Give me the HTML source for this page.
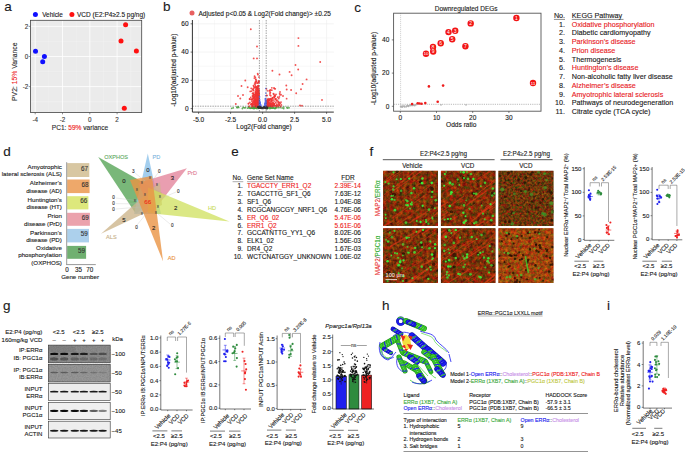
<!DOCTYPE html>
<html><head><meta charset="utf-8"><style>
html,body{margin:0;padding:0;background:#fff;overflow:hidden}
svg{display:block;font-family:"Liberation Sans",sans-serif}
</style></head><body>
<svg width="685" height="454" viewBox="0 0 685 454" fill="#1a1a1a">
<defs>
<filter id="blur" x="-50%" y="-50%" width="200%" height="200%"><feGaussianBlur stdDeviation="0.45"/></filter>
<filter id="blurP" x="-10%" y="-10%" width="120%" height="120%"><feGaussianBlur stdDeviation="0.3"/></filter>
<filter id="blur2" x="-50%" y="-100%" width="200%" height="300%"><feGaussianBlur stdDeviation="0.5"/></filter>
<filter id="noiseR0" x="0" y="0" width="100%" height="100%" color-interpolation-filters="sRGB"><feTurbulence type="fractalNoise" baseFrequency="0.3" numOctaves="4" seed="3"/><feColorMatrix values="0.9 0 0 0 0.04  0 0.45 0 0 -0.03  0 0 0 0 0.04  0 0 0 0 1"/></filter>
<filter id="noiseR1" x="0" y="0" width="100%" height="100%" color-interpolation-filters="sRGB"><feTurbulence type="fractalNoise" baseFrequency="0.3" numOctaves="4" seed="8"/><feColorMatrix values="0.9 0 0 0 0.04  0 0.45 0 0 -0.03  0 0 0 0 0.04  0 0 0 0 1"/></filter>
<filter id="noiseR2" x="0" y="0" width="100%" height="100%" color-interpolation-filters="sRGB"><feTurbulence type="fractalNoise" baseFrequency="0.3" numOctaves="4" seed="13"/><feColorMatrix values="0.9 0 0 0 0.04  0 0.45 0 0 -0.03  0 0 0 0 0.04  0 0 0 0 1"/></filter>
<filter id="noiseY" x="0" y="0" width="100%" height="100%" color-interpolation-filters="sRGB"><feTurbulence type="fractalNoise" baseFrequency="0.45" numOctaves="4" seed="5"/><feColorMatrix values="0.8 0 0 0 0.04  0 0.5 0 0 -0.03  0 0 0 0 0.05  0 0 0 0 1"/></filter>
<filter id="noiseO" x="0" y="0" width="100%" height="100%" color-interpolation-filters="sRGB"><feTurbulence type="fractalNoise" baseFrequency="0.35" numOctaves="4" seed="9"/><feColorMatrix values="0.8 0 0 0 0.22  0 0.55 0 0 0.0  0 0 0 0 0.05  0 0 0 0 1"/></filter>
<filter id="noiseG" x="0" y="0" width="100%" height="100%" color-interpolation-filters="sRGB"><feTurbulence type="fractalNoise" baseFrequency="0.8" numOctaves="1" seed="2"/><feColorMatrix values="0 0 0 0 0  0 0 0 0 0  0 0 0 0 0  0 0 0 1.2 -0.4"/></filter>
<clipPath id="cp0"><rect x="383.1" y="170.8" width="54.89999999999998" height="55.099999999999994"/></clipPath><clipPath id="cp1"><rect x="440.9" y="170.8" width="54.60000000000002" height="55.099999999999994"/></clipPath><clipPath id="cp2"><rect x="498.4" y="170.8" width="55.10000000000002" height="55.099999999999994"/></clipPath><clipPath id="cp3"><rect x="383.1" y="228.2" width="54.89999999999998" height="54.69999999999999"/></clipPath><clipPath id="cp4"><rect x="440.9" y="228.2" width="54.60000000000002" height="54.69999999999999"/></clipPath><clipPath id="cp5"><rect x="498.4" y="228.2" width="55.10000000000002" height="54.69999999999999"/></clipPath></defs>
<rect width="685" height="454" fill="#fff"/>
<text x="4.30" y="11.30" font-size="13.5" stroke="#1a1a1a" stroke-width="0.12">a</text>
<text x="163.10" y="11.40" font-size="13.5" stroke="#1a1a1a" stroke-width="0.12">b</text>
<text x="354.30" y="11.60" font-size="13.5" stroke="#1a1a1a" stroke-width="0.12">c</text>
<text x="3.20" y="155.50" font-size="13.5" stroke="#1a1a1a" stroke-width="0.12">d</text>
<text x="231.30" y="155.50" font-size="13.5" stroke="#1a1a1a" stroke-width="0.12">e</text>
<text x="369.60" y="155.50" font-size="13.5" stroke="#1a1a1a" stroke-width="0.12">f</text>
<text x="3.00" y="309.60" font-size="13.5" stroke="#1a1a1a" stroke-width="0.12">g</text>
<text x="382.00" y="309.70" font-size="13.5" stroke="#1a1a1a" stroke-width="0.12">h</text>
<text x="607.00" y="309.70" font-size="13.5" stroke="#1a1a1a" stroke-width="0.12">i</text>
<circle cx="35.40" cy="14.60" r="2.50" fill="#1010ff"/>
<text x="42.20" y="16.78" font-size="6.4" stroke="#1a1a1a" stroke-width="0.12">Vehicle</text>
<circle cx="71.90" cy="14.40" r="2.50" fill="#ff1010"/>
<text x="77.00" y="16.81" font-size="6.5" stroke="#1a1a1a" stroke-width="0.12">VCD (E2:P4≥2.5 pg/ng)</text>
<rect x="30.40" y="20.30" width="111.30" height="92.20" fill="#ebebeb"/>
<line x1="48.85" y1="20.30" x2="48.85" y2="112.50" stroke="#f6f6f6" stroke-width="0.4"/>
<line x1="76.15" y1="20.30" x2="76.15" y2="112.50" stroke="#f6f6f6" stroke-width="0.4"/>
<line x1="103.45" y1="20.30" x2="103.45" y2="112.50" stroke="#f6f6f6" stroke-width="0.4"/>
<line x1="130.75" y1="20.30" x2="130.75" y2="112.50" stroke="#f6f6f6" stroke-width="0.4"/>
<line x1="30.40" y1="41.45" x2="141.70" y2="41.45" stroke="#f6f6f6" stroke-width="0.4"/>
<line x1="30.40" y1="71.55" x2="141.70" y2="71.55" stroke="#f6f6f6" stroke-width="0.4"/>
<line x1="30.40" y1="101.65" x2="141.70" y2="101.65" stroke="#f6f6f6" stroke-width="0.4"/>
<line x1="35.20" y1="20.30" x2="35.20" y2="112.50" stroke="#ffffff" stroke-width="0.8"/>
<line x1="62.50" y1="20.30" x2="62.50" y2="112.50" stroke="#ffffff" stroke-width="0.8"/>
<line x1="89.80" y1="20.30" x2="89.80" y2="112.50" stroke="#ffffff" stroke-width="0.8"/>
<line x1="117.10" y1="20.30" x2="117.10" y2="112.50" stroke="#ffffff" stroke-width="0.8"/>
<line x1="30.40" y1="26.40" x2="141.70" y2="26.40" stroke="#ffffff" stroke-width="0.8"/>
<line x1="30.40" y1="56.50" x2="141.70" y2="56.50" stroke="#ffffff" stroke-width="0.8"/>
<line x1="30.40" y1="86.60" x2="141.70" y2="86.60" stroke="#ffffff" stroke-width="0.8"/>
<rect x="30.40" y="20.30" width="111.30" height="92.20" fill="none" stroke="#444" stroke-width="0.8"/>
<line x1="35.20" y1="112.50" x2="35.20" y2="114.30" stroke="#444" stroke-width="0.6"/>
<text x="35.20" y="122.34" font-size="6.3" text-anchor="middle" fill="#3a3a3a" stroke="#3a3a3a" stroke-width="0.12">-4</text>
<line x1="62.50" y1="112.50" x2="62.50" y2="114.30" stroke="#444" stroke-width="0.6"/>
<text x="62.50" y="122.34" font-size="6.3" text-anchor="middle" fill="#3a3a3a" stroke="#3a3a3a" stroke-width="0.12">-2</text>
<line x1="89.80" y1="112.50" x2="89.80" y2="114.30" stroke="#444" stroke-width="0.6"/>
<text x="89.80" y="122.34" font-size="6.3" text-anchor="middle" fill="#3a3a3a" stroke="#3a3a3a" stroke-width="0.12">0</text>
<line x1="117.10" y1="112.50" x2="117.10" y2="114.30" stroke="#444" stroke-width="0.6"/>
<text x="117.10" y="122.34" font-size="6.3" text-anchor="middle" fill="#3a3a3a" stroke="#3a3a3a" stroke-width="0.12">2</text>
<line x1="28.60" y1="26.40" x2="30.40" y2="26.40" stroke="#444" stroke-width="0.6"/>
<text x="28.30" y="28.54" font-size="6.3" text-anchor="end" fill="#3a3a3a" stroke="#3a3a3a" stroke-width="0.12">2</text>
<line x1="28.60" y1="56.50" x2="30.40" y2="56.50" stroke="#444" stroke-width="0.6"/>
<text x="28.30" y="58.64" font-size="6.3" text-anchor="end" fill="#3a3a3a" stroke="#3a3a3a" stroke-width="0.12">0</text>
<line x1="28.60" y1="86.60" x2="30.40" y2="86.60" stroke="#444" stroke-width="0.6"/>
<text x="28.30" y="88.74" font-size="6.3" text-anchor="end" fill="#3a3a3a" stroke="#3a3a3a" stroke-width="0.12">-2</text>
<circle cx="35.50" cy="51.20" r="2.50" fill="#1010ff"/>
<circle cx="44.40" cy="56.50" r="2.50" fill="#1010ff"/>
<circle cx="42.70" cy="61.70" r="2.50" fill="#1010ff"/>
<circle cx="125.60" cy="24.70" r="2.50" fill="#ff1010"/>
<circle cx="121.00" cy="41.00" r="2.50" fill="#ff1010"/>
<circle cx="136.40" cy="50.90" r="2.50" fill="#ff1010"/>
<circle cx="124.30" cy="108.30" r="2.50" fill="#ff1010"/>
<text x="80.00" y="129.64" font-size="6.6" text-anchor="middle" fill="#2a2a2a" stroke="#2a2a2a" stroke-width="0.12">PC1: <tspan fill="#ee2222" stroke="#ee2222">59%</tspan> variance</text>
<text x="17.01" y="71.70" font-size="6.8" text-anchor="middle" fill="#2a2a2a" stroke="#2a2a2a" stroke-width="0.12" transform="rotate(-90 17.01 71.70)">PV2: <tspan fill="#ee2222" stroke="#ee2222">15%</tspan> Variance</text>
<circle cx="192.00" cy="13.10" r="2.50" fill="#e86060"/>
<text x="198.50" y="15.53" font-size="6.55" stroke="#1a1a1a" stroke-width="0.12">Adjusted p&lt;0.05 &amp; Log2(Fold change)&gt; ±0.25</text>
<line x1="198.60" y1="20.00" x2="198.60" y2="112.10" stroke="#ececec" stroke-width="0.6"/>
<line x1="214.60" y1="20.00" x2="214.60" y2="112.10" stroke="#f4f4f4" stroke-width="0.6"/>
<line x1="230.60" y1="20.00" x2="230.60" y2="112.10" stroke="#ececec" stroke-width="0.6"/>
<line x1="246.60" y1="20.00" x2="246.60" y2="112.10" stroke="#f4f4f4" stroke-width="0.6"/>
<line x1="262.60" y1="20.00" x2="262.60" y2="112.10" stroke="#ececec" stroke-width="0.6"/>
<line x1="278.60" y1="20.00" x2="278.60" y2="112.10" stroke="#f4f4f4" stroke-width="0.6"/>
<line x1="294.60" y1="20.00" x2="294.60" y2="112.10" stroke="#ececec" stroke-width="0.6"/>
<line x1="310.60" y1="20.00" x2="310.60" y2="112.10" stroke="#f4f4f4" stroke-width="0.6"/>
<line x1="326.60" y1="20.00" x2="326.60" y2="112.10" stroke="#ececec" stroke-width="0.6"/>
<line x1="192.40" y1="108.60" x2="333.80" y2="108.60" stroke="#ececec" stroke-width="0.6"/>
<line x1="192.40" y1="94.47" x2="333.80" y2="94.47" stroke="#f4f4f4" stroke-width="0.6"/>
<line x1="192.40" y1="80.34" x2="333.80" y2="80.34" stroke="#ececec" stroke-width="0.6"/>
<line x1="192.40" y1="66.21" x2="333.80" y2="66.21" stroke="#f4f4f4" stroke-width="0.6"/>
<line x1="192.40" y1="52.08" x2="333.80" y2="52.08" stroke="#ececec" stroke-width="0.6"/>
<line x1="192.40" y1="37.95" x2="333.80" y2="37.95" stroke="#f4f4f4" stroke-width="0.6"/>
<line x1="192.40" y1="23.82" x2="333.80" y2="23.82" stroke="#ececec" stroke-width="0.6"/>
<circle cx="268.93" cy="107.97" r="0.90" fill="#4aa040" fill-opacity="0.85"/>
<circle cx="278.60" cy="107.58" r="0.90" fill="#4aa040" fill-opacity="0.85"/>
<circle cx="254.16" cy="108.58" r="0.90" fill="#4aa040" fill-opacity="0.85"/>
<circle cx="254.13" cy="107.18" r="0.90" fill="#4aa040" fill-opacity="0.85"/>
<circle cx="256.93" cy="106.91" r="0.90" fill="#4aa040" fill-opacity="0.85"/>
<circle cx="271.94" cy="107.80" r="0.90" fill="#4aa040" fill-opacity="0.85"/>
<circle cx="270.13" cy="107.52" r="0.90" fill="#4aa040" fill-opacity="0.85"/>
<circle cx="250.14" cy="108.34" r="0.90" fill="#4aa040" fill-opacity="0.85"/>
<circle cx="245.55" cy="107.71" r="0.90" fill="#4aa040" fill-opacity="0.85"/>
<circle cx="243.29" cy="107.34" r="0.90" fill="#4aa040" fill-opacity="0.85"/>
<circle cx="255.27" cy="107.31" r="0.90" fill="#4aa040" fill-opacity="0.85"/>
<circle cx="258.50" cy="107.60" r="0.90" fill="#4aa040" fill-opacity="0.85"/>
<circle cx="256.46" cy="107.13" r="0.90" fill="#4aa040" fill-opacity="0.85"/>
<circle cx="270.77" cy="107.80" r="0.90" fill="#4aa040" fill-opacity="0.85"/>
<circle cx="257.48" cy="107.39" r="0.90" fill="#4aa040" fill-opacity="0.85"/>
<circle cx="236.81" cy="107.04" r="0.90" fill="#4aa040" fill-opacity="0.85"/>
<circle cx="244.43" cy="107.85" r="0.90" fill="#4aa040" fill-opacity="0.85"/>
<circle cx="276.70" cy="107.01" r="0.90" fill="#4aa040" fill-opacity="0.85"/>
<circle cx="266.80" cy="108.37" r="0.90" fill="#4aa040" fill-opacity="0.85"/>
<circle cx="258.60" cy="108.23" r="0.90" fill="#4aa040" fill-opacity="0.85"/>
<circle cx="275.98" cy="107.54" r="0.90" fill="#4aa040" fill-opacity="0.85"/>
<circle cx="254.53" cy="108.09" r="0.90" fill="#4aa040" fill-opacity="0.85"/>
<circle cx="249.97" cy="108.00" r="0.90" fill="#4aa040" fill-opacity="0.85"/>
<circle cx="256.90" cy="107.61" r="0.90" fill="#4aa040" fill-opacity="0.85"/>
<circle cx="238.67" cy="107.44" r="0.90" fill="#4aa040" fill-opacity="0.85"/>
<circle cx="248.60" cy="107.02" r="0.90" fill="#4aa040" fill-opacity="0.85"/>
<circle cx="286.95" cy="107.46" r="0.90" fill="#4aa040" fill-opacity="0.85"/>
<circle cx="231.77" cy="108.32" r="0.90" fill="#4aa040" fill-opacity="0.85"/>
<circle cx="283.80" cy="107.07" r="0.90" fill="#4aa040" fill-opacity="0.85"/>
<circle cx="237.19" cy="107.64" r="0.90" fill="#4aa040" fill-opacity="0.85"/>
<circle cx="255.49" cy="107.19" r="0.90" fill="#4aa040" fill-opacity="0.85"/>
<circle cx="254.01" cy="107.63" r="0.90" fill="#4aa040" fill-opacity="0.85"/>
<circle cx="256.47" cy="107.15" r="0.90" fill="#4aa040" fill-opacity="0.85"/>
<circle cx="267.12" cy="106.92" r="0.90" fill="#4aa040" fill-opacity="0.85"/>
<circle cx="282.12" cy="107.90" r="0.90" fill="#4aa040" fill-opacity="0.85"/>
<circle cx="274.74" cy="108.34" r="0.90" fill="#4aa040" fill-opacity="0.85"/>
<circle cx="256.64" cy="107.12" r="0.90" fill="#4aa040" fill-opacity="0.85"/>
<circle cx="283.68" cy="108.53" r="0.90" fill="#4aa040" fill-opacity="0.85"/>
<circle cx="254.56" cy="107.38" r="0.90" fill="#4aa040" fill-opacity="0.85"/>
<circle cx="254.92" cy="108.04" r="0.90" fill="#4aa040" fill-opacity="0.85"/>
<circle cx="288.95" cy="107.74" r="0.90" fill="#4aa040" fill-opacity="0.85"/>
<circle cx="238.14" cy="106.91" r="0.90" fill="#4aa040" fill-opacity="0.85"/>
<circle cx="255.60" cy="107.58" r="0.90" fill="#4aa040" fill-opacity="0.85"/>
<circle cx="267.37" cy="108.55" r="0.90" fill="#4aa040" fill-opacity="0.85"/>
<circle cx="266.85" cy="107.56" r="0.90" fill="#4aa040" fill-opacity="0.85"/>
<circle cx="275.00" cy="108.34" r="0.90" fill="#4aa040" fill-opacity="0.85"/>
<circle cx="287.44" cy="108.07" r="0.90" fill="#4aa040" fill-opacity="0.85"/>
<circle cx="269.38" cy="106.97" r="0.90" fill="#4aa040" fill-opacity="0.85"/>
<circle cx="272.53" cy="107.82" r="0.90" fill="#4aa040" fill-opacity="0.85"/>
<circle cx="255.06" cy="107.72" r="0.90" fill="#4aa040" fill-opacity="0.85"/>
<circle cx="251.95" cy="107.65" r="0.90" fill="#4aa040" fill-opacity="0.85"/>
<circle cx="249.06" cy="107.55" r="0.90" fill="#4aa040" fill-opacity="0.85"/>
<circle cx="276.78" cy="107.87" r="0.90" fill="#4aa040" fill-opacity="0.85"/>
<circle cx="257.05" cy="107.38" r="0.90" fill="#4aa040" fill-opacity="0.85"/>
<circle cx="268.56" cy="106.94" r="0.90" fill="#4aa040" fill-opacity="0.85"/>
<circle cx="273.40" cy="107.72" r="0.90" fill="#4aa040" fill-opacity="0.85"/>
<circle cx="255.63" cy="107.90" r="0.90" fill="#4aa040" fill-opacity="0.85"/>
<circle cx="256.90" cy="107.62" r="0.90" fill="#4aa040" fill-opacity="0.85"/>
<circle cx="280.16" cy="107.53" r="0.90" fill="#4aa040" fill-opacity="0.85"/>
<circle cx="269.94" cy="108.50" r="0.90" fill="#4aa040" fill-opacity="0.85"/>
<circle cx="252.61" cy="107.45" r="0.90" fill="#4aa040" fill-opacity="0.85"/>
<circle cx="252.31" cy="108.00" r="0.90" fill="#4aa040" fill-opacity="0.85"/>
<circle cx="257.00" cy="108.56" r="0.90" fill="#4aa040" fill-opacity="0.85"/>
<circle cx="242.41" cy="108.50" r="0.90" fill="#4aa040" fill-opacity="0.85"/>
<circle cx="247.85" cy="108.17" r="0.90" fill="#4aa040" fill-opacity="0.85"/>
<circle cx="233.18" cy="107.83" r="0.90" fill="#4aa040" fill-opacity="0.85"/>
<circle cx="253.21" cy="107.98" r="0.90" fill="#4aa040" fill-opacity="0.85"/>
<circle cx="256.42" cy="108.07" r="0.90" fill="#4aa040" fill-opacity="0.85"/>
<circle cx="250.88" cy="108.09" r="0.90" fill="#4aa040" fill-opacity="0.85"/>
<circle cx="275.22" cy="107.96" r="0.90" fill="#4aa040" fill-opacity="0.85"/>
<circle cx="268.14" cy="107.63" r="0.90" fill="#4aa040" fill-opacity="0.85"/>
<circle cx="254.52" cy="107.35" r="0.90" fill="#4aa040" fill-opacity="0.85"/>
<circle cx="254.14" cy="107.24" r="0.90" fill="#4aa040" fill-opacity="0.85"/>
<circle cx="271.04" cy="108.20" r="0.90" fill="#4aa040" fill-opacity="0.85"/>
<circle cx="267.84" cy="107.42" r="0.90" fill="#4aa040" fill-opacity="0.85"/>
<circle cx="275.24" cy="108.43" r="0.90" fill="#4aa040" fill-opacity="0.85"/>
<circle cx="257.56" cy="107.19" r="0.90" fill="#4aa040" fill-opacity="0.85"/>
<circle cx="272.98" cy="107.86" r="0.90" fill="#4aa040" fill-opacity="0.85"/>
<circle cx="267.40" cy="108.03" r="0.90" fill="#4aa040" fill-opacity="0.85"/>
<circle cx="256.46" cy="107.50" r="0.90" fill="#4aa040" fill-opacity="0.85"/>
<circle cx="273.11" cy="108.22" r="0.90" fill="#4aa040" fill-opacity="0.85"/>
<circle cx="253.32" cy="108.39" r="0.90" fill="#4aa040" fill-opacity="0.85"/>
<circle cx="254.41" cy="107.23" r="0.90" fill="#4aa040" fill-opacity="0.85"/>
<circle cx="255.94" cy="107.18" r="0.90" fill="#4aa040" fill-opacity="0.85"/>
<circle cx="266.79" cy="107.23" r="0.90" fill="#4aa040" fill-opacity="0.85"/>
<circle cx="272.06" cy="107.51" r="0.90" fill="#4aa040" fill-opacity="0.85"/>
<circle cx="266.68" cy="108.38" r="0.90" fill="#4aa040" fill-opacity="0.85"/>
<circle cx="251.55" cy="108.10" r="0.90" fill="#4aa040" fill-opacity="0.85"/>
<circle cx="270.49" cy="108.01" r="0.90" fill="#4aa040" fill-opacity="0.85"/>
<circle cx="252.80" cy="107.89" r="0.90" fill="#4aa040" fill-opacity="0.85"/>
<circle cx="255.33" cy="100.46" r="0.90" fill="#f03434" fill-opacity="0.85"/>
<circle cx="256.92" cy="103.22" r="0.90" fill="#f03434" fill-opacity="0.85"/>
<circle cx="249.21" cy="106.23" r="0.90" fill="#f03434" fill-opacity="0.85"/>
<circle cx="250.22" cy="91.38" r="0.90" fill="#f03434" fill-opacity="0.85"/>
<circle cx="249.83" cy="99.27" r="0.90" fill="#f03434" fill-opacity="0.85"/>
<circle cx="256.41" cy="102.79" r="0.90" fill="#f03434" fill-opacity="0.85"/>
<circle cx="258.80" cy="82.56" r="0.90" fill="#f03434" fill-opacity="0.85"/>
<circle cx="256.44" cy="93.62" r="0.90" fill="#f03434" fill-opacity="0.85"/>
<circle cx="258.11" cy="95.50" r="0.90" fill="#f03434" fill-opacity="0.85"/>
<circle cx="258.80" cy="102.04" r="0.90" fill="#f03434" fill-opacity="0.85"/>
<circle cx="256.16" cy="101.23" r="0.90" fill="#f03434" fill-opacity="0.85"/>
<circle cx="258.56" cy="103.17" r="0.90" fill="#f03434" fill-opacity="0.85"/>
<circle cx="253.84" cy="95.63" r="0.90" fill="#f03434" fill-opacity="0.85"/>
<circle cx="251.27" cy="99.28" r="0.90" fill="#f03434" fill-opacity="0.85"/>
<circle cx="254.68" cy="96.93" r="0.90" fill="#f03434" fill-opacity="0.85"/>
<circle cx="252.26" cy="105.72" r="0.90" fill="#f03434" fill-opacity="0.85"/>
<circle cx="257.38" cy="97.29" r="0.90" fill="#f03434" fill-opacity="0.85"/>
<circle cx="256.42" cy="93.51" r="0.90" fill="#f03434" fill-opacity="0.85"/>
<circle cx="250.72" cy="97.45" r="0.90" fill="#f03434" fill-opacity="0.85"/>
<circle cx="256.16" cy="99.23" r="0.90" fill="#f03434" fill-opacity="0.85"/>
<circle cx="258.89" cy="81.47" r="0.90" fill="#f03434" fill-opacity="0.85"/>
<circle cx="251.94" cy="104.86" r="0.90" fill="#f03434" fill-opacity="0.85"/>
<circle cx="257.39" cy="100.00" r="0.90" fill="#f03434" fill-opacity="0.85"/>
<circle cx="251.65" cy="103.73" r="0.90" fill="#f03434" fill-opacity="0.85"/>
<circle cx="255.57" cy="86.94" r="0.90" fill="#f03434" fill-opacity="0.85"/>
<circle cx="252.48" cy="95.89" r="0.90" fill="#f03434" fill-opacity="0.85"/>
<circle cx="258.79" cy="105.37" r="0.90" fill="#f03434" fill-opacity="0.85"/>
<circle cx="253.38" cy="88.45" r="0.90" fill="#f03434" fill-opacity="0.85"/>
<circle cx="255.92" cy="103.64" r="0.90" fill="#f03434" fill-opacity="0.85"/>
<circle cx="258.43" cy="91.30" r="0.90" fill="#f03434" fill-opacity="0.85"/>
<circle cx="254.91" cy="100.07" r="0.90" fill="#f03434" fill-opacity="0.85"/>
<circle cx="258.98" cy="106.01" r="0.90" fill="#f03434" fill-opacity="0.85"/>
<circle cx="257.01" cy="104.53" r="0.90" fill="#f03434" fill-opacity="0.85"/>
<circle cx="257.92" cy="103.39" r="0.90" fill="#f03434" fill-opacity="0.85"/>
<circle cx="251.08" cy="104.39" r="0.90" fill="#f03434" fill-opacity="0.85"/>
<circle cx="254.87" cy="99.03" r="0.90" fill="#f03434" fill-opacity="0.85"/>
<circle cx="257.58" cy="96.64" r="0.90" fill="#f03434" fill-opacity="0.85"/>
<circle cx="255.50" cy="92.01" r="0.90" fill="#f03434" fill-opacity="0.85"/>
<circle cx="255.70" cy="100.53" r="0.90" fill="#f03434" fill-opacity="0.85"/>
<circle cx="257.69" cy="96.18" r="0.90" fill="#f03434" fill-opacity="0.85"/>
<circle cx="255.30" cy="95.40" r="0.90" fill="#f03434" fill-opacity="0.85"/>
<circle cx="258.17" cy="94.61" r="0.90" fill="#f03434" fill-opacity="0.85"/>
<circle cx="256.76" cy="102.92" r="0.90" fill="#f03434" fill-opacity="0.85"/>
<circle cx="255.11" cy="94.38" r="0.90" fill="#f03434" fill-opacity="0.85"/>
<circle cx="258.20" cy="94.58" r="0.90" fill="#f03434" fill-opacity="0.85"/>
<circle cx="257.21" cy="89.91" r="0.90" fill="#f03434" fill-opacity="0.85"/>
<circle cx="255.42" cy="101.65" r="0.90" fill="#f03434" fill-opacity="0.85"/>
<circle cx="252.64" cy="106.28" r="0.90" fill="#f03434" fill-opacity="0.85"/>
<circle cx="253.48" cy="97.39" r="0.90" fill="#f03434" fill-opacity="0.85"/>
<circle cx="256.04" cy="104.44" r="0.90" fill="#f03434" fill-opacity="0.85"/>
<circle cx="252.86" cy="102.39" r="0.90" fill="#f03434" fill-opacity="0.85"/>
<circle cx="255.14" cy="100.95" r="0.90" fill="#f03434" fill-opacity="0.85"/>
<circle cx="251.49" cy="99.71" r="0.90" fill="#f03434" fill-opacity="0.85"/>
<circle cx="255.36" cy="101.98" r="0.90" fill="#f03434" fill-opacity="0.85"/>
<circle cx="253.21" cy="93.29" r="0.90" fill="#f03434" fill-opacity="0.85"/>
<circle cx="258.67" cy="92.60" r="0.90" fill="#f03434" fill-opacity="0.85"/>
<circle cx="253.65" cy="90.48" r="0.90" fill="#f03434" fill-opacity="0.85"/>
<circle cx="254.53" cy="84.12" r="0.90" fill="#f03434" fill-opacity="0.85"/>
<circle cx="257.41" cy="88.56" r="0.90" fill="#f03434" fill-opacity="0.85"/>
<circle cx="258.48" cy="90.47" r="0.90" fill="#f03434" fill-opacity="0.85"/>
<circle cx="254.67" cy="96.54" r="0.90" fill="#f03434" fill-opacity="0.85"/>
<circle cx="256.74" cy="106.55" r="0.90" fill="#f03434" fill-opacity="0.85"/>
<circle cx="258.83" cy="102.98" r="0.90" fill="#f03434" fill-opacity="0.85"/>
<circle cx="257.45" cy="103.59" r="0.90" fill="#f03434" fill-opacity="0.85"/>
<circle cx="257.13" cy="101.31" r="0.90" fill="#f03434" fill-opacity="0.85"/>
<circle cx="251.24" cy="104.61" r="0.90" fill="#f03434" fill-opacity="0.85"/>
<circle cx="253.30" cy="89.84" r="0.90" fill="#f03434" fill-opacity="0.85"/>
<circle cx="255.42" cy="85.31" r="0.90" fill="#f03434" fill-opacity="0.85"/>
<circle cx="253.87" cy="101.84" r="0.90" fill="#f03434" fill-opacity="0.85"/>
<circle cx="258.68" cy="103.47" r="0.90" fill="#f03434" fill-opacity="0.85"/>
<circle cx="258.48" cy="91.64" r="0.90" fill="#f03434" fill-opacity="0.85"/>
<circle cx="258.59" cy="100.86" r="0.90" fill="#f03434" fill-opacity="0.85"/>
<circle cx="258.95" cy="77.07" r="0.90" fill="#f03434" fill-opacity="0.85"/>
<circle cx="255.65" cy="102.54" r="0.90" fill="#f03434" fill-opacity="0.85"/>
<circle cx="251.94" cy="101.16" r="0.90" fill="#f03434" fill-opacity="0.85"/>
<circle cx="258.89" cy="98.77" r="0.90" fill="#f03434" fill-opacity="0.85"/>
<circle cx="259.01" cy="89.17" r="0.90" fill="#f03434" fill-opacity="0.85"/>
<circle cx="258.92" cy="94.04" r="0.90" fill="#f03434" fill-opacity="0.85"/>
<circle cx="256.25" cy="97.31" r="0.90" fill="#f03434" fill-opacity="0.85"/>
<circle cx="256.50" cy="96.07" r="0.90" fill="#f03434" fill-opacity="0.85"/>
<circle cx="254.84" cy="99.28" r="0.90" fill="#f03434" fill-opacity="0.85"/>
<circle cx="254.85" cy="104.55" r="0.90" fill="#f03434" fill-opacity="0.85"/>
<circle cx="258.98" cy="99.24" r="0.90" fill="#f03434" fill-opacity="0.85"/>
<circle cx="256.52" cy="86.86" r="0.90" fill="#f03434" fill-opacity="0.85"/>
<circle cx="256.74" cy="93.14" r="0.90" fill="#f03434" fill-opacity="0.85"/>
<circle cx="253.17" cy="104.90" r="0.90" fill="#f03434" fill-opacity="0.85"/>
<circle cx="257.15" cy="102.42" r="0.90" fill="#f03434" fill-opacity="0.85"/>
<circle cx="253.41" cy="94.80" r="0.90" fill="#f03434" fill-opacity="0.85"/>
<circle cx="254.74" cy="99.08" r="0.90" fill="#f03434" fill-opacity="0.85"/>
<circle cx="252.90" cy="99.67" r="0.90" fill="#f03434" fill-opacity="0.85"/>
<circle cx="257.75" cy="97.53" r="0.90" fill="#f03434" fill-opacity="0.85"/>
<circle cx="257.31" cy="90.74" r="0.90" fill="#f03434" fill-opacity="0.85"/>
<circle cx="257.84" cy="98.27" r="0.90" fill="#f03434" fill-opacity="0.85"/>
<circle cx="255.35" cy="77.40" r="0.90" fill="#f03434" fill-opacity="0.85"/>
<circle cx="257.20" cy="87.70" r="0.90" fill="#f03434" fill-opacity="0.85"/>
<circle cx="252.15" cy="99.00" r="0.90" fill="#f03434" fill-opacity="0.85"/>
<circle cx="256.23" cy="101.68" r="0.90" fill="#f03434" fill-opacity="0.85"/>
<circle cx="258.84" cy="104.07" r="0.90" fill="#f03434" fill-opacity="0.85"/>
<circle cx="255.03" cy="105.16" r="0.90" fill="#f03434" fill-opacity="0.85"/>
<circle cx="257.20" cy="96.15" r="0.90" fill="#f03434" fill-opacity="0.85"/>
<circle cx="255.93" cy="87.03" r="0.90" fill="#f03434" fill-opacity="0.85"/>
<circle cx="251.20" cy="88.34" r="0.90" fill="#f03434" fill-opacity="0.85"/>
<circle cx="253.52" cy="104.56" r="0.90" fill="#f03434" fill-opacity="0.85"/>
<circle cx="251.40" cy="103.88" r="0.90" fill="#f03434" fill-opacity="0.85"/>
<circle cx="256.74" cy="92.15" r="0.90" fill="#f03434" fill-opacity="0.85"/>
<circle cx="252.52" cy="104.38" r="0.90" fill="#f03434" fill-opacity="0.85"/>
<circle cx="256.44" cy="96.68" r="0.90" fill="#f03434" fill-opacity="0.85"/>
<circle cx="257.95" cy="74.64" r="0.90" fill="#f03434" fill-opacity="0.85"/>
<circle cx="256.12" cy="104.89" r="0.90" fill="#f03434" fill-opacity="0.85"/>
<circle cx="258.39" cy="86.63" r="0.90" fill="#f03434" fill-opacity="0.85"/>
<circle cx="254.34" cy="78.12" r="0.90" fill="#f03434" fill-opacity="0.85"/>
<circle cx="257.16" cy="99.24" r="0.90" fill="#f03434" fill-opacity="0.85"/>
<circle cx="257.84" cy="97.62" r="0.90" fill="#f03434" fill-opacity="0.85"/>
<circle cx="256.56" cy="88.43" r="0.90" fill="#f03434" fill-opacity="0.85"/>
<circle cx="253.48" cy="85.59" r="0.90" fill="#f03434" fill-opacity="0.85"/>
<circle cx="258.76" cy="81.32" r="0.90" fill="#f03434" fill-opacity="0.85"/>
<circle cx="257.35" cy="94.47" r="0.90" fill="#f03434" fill-opacity="0.85"/>
<circle cx="258.79" cy="101.42" r="0.90" fill="#f03434" fill-opacity="0.85"/>
<circle cx="252.53" cy="93.51" r="0.90" fill="#f03434" fill-opacity="0.85"/>
<circle cx="258.02" cy="95.23" r="0.90" fill="#f03434" fill-opacity="0.85"/>
<circle cx="253.64" cy="97.54" r="0.90" fill="#f03434" fill-opacity="0.85"/>
<circle cx="255.32" cy="106.27" r="0.90" fill="#f03434" fill-opacity="0.85"/>
<circle cx="254.67" cy="101.04" r="0.90" fill="#f03434" fill-opacity="0.85"/>
<circle cx="257.67" cy="90.42" r="0.90" fill="#f03434" fill-opacity="0.85"/>
<circle cx="255.10" cy="103.26" r="0.90" fill="#f03434" fill-opacity="0.85"/>
<circle cx="257.03" cy="105.00" r="0.90" fill="#f03434" fill-opacity="0.85"/>
<circle cx="258.08" cy="88.17" r="0.90" fill="#f03434" fill-opacity="0.85"/>
<circle cx="252.51" cy="89.51" r="0.90" fill="#f03434" fill-opacity="0.85"/>
<circle cx="257.46" cy="103.65" r="0.90" fill="#f03434" fill-opacity="0.85"/>
<circle cx="255.32" cy="102.32" r="0.90" fill="#f03434" fill-opacity="0.85"/>
<circle cx="258.05" cy="85.57" r="0.90" fill="#f03434" fill-opacity="0.85"/>
<circle cx="257.28" cy="88.45" r="0.90" fill="#f03434" fill-opacity="0.85"/>
<circle cx="254.81" cy="87.79" r="0.90" fill="#f03434" fill-opacity="0.85"/>
<circle cx="258.34" cy="85.56" r="0.90" fill="#f03434" fill-opacity="0.85"/>
<circle cx="253.07" cy="102.19" r="0.90" fill="#f03434" fill-opacity="0.85"/>
<circle cx="257.06" cy="105.36" r="0.90" fill="#f03434" fill-opacity="0.85"/>
<circle cx="255.20" cy="106.31" r="0.90" fill="#f03434" fill-opacity="0.85"/>
<circle cx="257.79" cy="87.99" r="0.90" fill="#f03434" fill-opacity="0.85"/>
<circle cx="256.64" cy="103.50" r="0.90" fill="#f03434" fill-opacity="0.85"/>
<circle cx="255.49" cy="92.53" r="0.90" fill="#f03434" fill-opacity="0.85"/>
<circle cx="255.31" cy="82.66" r="0.90" fill="#f03434" fill-opacity="0.85"/>
<circle cx="257.84" cy="101.36" r="0.90" fill="#f03434" fill-opacity="0.85"/>
<circle cx="256.96" cy="103.85" r="0.90" fill="#f03434" fill-opacity="0.85"/>
<circle cx="255.81" cy="89.06" r="0.90" fill="#f03434" fill-opacity="0.85"/>
<circle cx="254.75" cy="97.46" r="0.90" fill="#f03434" fill-opacity="0.85"/>
<circle cx="256.29" cy="95.51" r="0.90" fill="#f03434" fill-opacity="0.85"/>
<circle cx="258.04" cy="99.44" r="0.90" fill="#f03434" fill-opacity="0.85"/>
<circle cx="253.11" cy="98.34" r="0.90" fill="#f03434" fill-opacity="0.85"/>
<circle cx="258.87" cy="90.85" r="0.90" fill="#f03434" fill-opacity="0.85"/>
<circle cx="258.76" cy="94.79" r="0.90" fill="#f03434" fill-opacity="0.85"/>
<circle cx="258.62" cy="94.32" r="0.90" fill="#f03434" fill-opacity="0.85"/>
<circle cx="258.18" cy="104.08" r="0.90" fill="#f03434" fill-opacity="0.85"/>
<circle cx="255.93" cy="106.48" r="0.90" fill="#f03434" fill-opacity="0.85"/>
<circle cx="258.56" cy="94.96" r="0.90" fill="#f03434" fill-opacity="0.85"/>
<circle cx="256.95" cy="95.55" r="0.90" fill="#f03434" fill-opacity="0.85"/>
<circle cx="252.21" cy="103.38" r="0.90" fill="#f03434" fill-opacity="0.85"/>
<circle cx="254.24" cy="87.10" r="0.90" fill="#f03434" fill-opacity="0.85"/>
<circle cx="256.54" cy="100.22" r="0.90" fill="#f03434" fill-opacity="0.85"/>
<circle cx="257.39" cy="103.12" r="0.90" fill="#f03434" fill-opacity="0.85"/>
<circle cx="257.82" cy="86.60" r="0.90" fill="#f03434" fill-opacity="0.85"/>
<circle cx="257.96" cy="99.21" r="0.90" fill="#f03434" fill-opacity="0.85"/>
<circle cx="253.17" cy="96.28" r="0.90" fill="#f03434" fill-opacity="0.85"/>
<circle cx="256.28" cy="87.41" r="0.90" fill="#f03434" fill-opacity="0.85"/>
<circle cx="257.08" cy="102.86" r="0.90" fill="#f03434" fill-opacity="0.85"/>
<circle cx="256.86" cy="101.79" r="0.90" fill="#f03434" fill-opacity="0.85"/>
<circle cx="253.79" cy="103.92" r="0.90" fill="#f03434" fill-opacity="0.85"/>
<circle cx="258.09" cy="97.55" r="0.90" fill="#f03434" fill-opacity="0.85"/>
<circle cx="258.82" cy="103.68" r="0.90" fill="#f03434" fill-opacity="0.85"/>
<circle cx="256.19" cy="81.46" r="0.90" fill="#f03434" fill-opacity="0.85"/>
<circle cx="255.19" cy="102.85" r="0.90" fill="#f03434" fill-opacity="0.85"/>
<circle cx="253.89" cy="101.30" r="0.90" fill="#f03434" fill-opacity="0.85"/>
<circle cx="251.51" cy="91.16" r="0.90" fill="#f03434" fill-opacity="0.85"/>
<circle cx="257.68" cy="96.87" r="0.90" fill="#f03434" fill-opacity="0.85"/>
<circle cx="256.01" cy="95.49" r="0.90" fill="#f03434" fill-opacity="0.85"/>
<circle cx="253.71" cy="94.58" r="0.90" fill="#f03434" fill-opacity="0.85"/>
<circle cx="251.99" cy="106.57" r="0.90" fill="#f03434" fill-opacity="0.85"/>
<circle cx="256.51" cy="94.17" r="0.90" fill="#f03434" fill-opacity="0.85"/>
<circle cx="254.52" cy="104.67" r="0.90" fill="#f03434" fill-opacity="0.85"/>
<circle cx="257.27" cy="92.12" r="0.90" fill="#f03434" fill-opacity="0.85"/>
<circle cx="254.32" cy="103.31" r="0.90" fill="#f03434" fill-opacity="0.85"/>
<circle cx="256.32" cy="95.82" r="0.90" fill="#f03434" fill-opacity="0.85"/>
<circle cx="249.54" cy="98.99" r="0.90" fill="#f03434" fill-opacity="0.85"/>
<circle cx="257.29" cy="102.46" r="0.90" fill="#f03434" fill-opacity="0.85"/>
<circle cx="257.51" cy="89.62" r="0.90" fill="#f03434" fill-opacity="0.85"/>
<circle cx="255.34" cy="103.01" r="0.90" fill="#f03434" fill-opacity="0.85"/>
<circle cx="258.84" cy="101.67" r="0.90" fill="#f03434" fill-opacity="0.85"/>
<circle cx="249.85" cy="102.51" r="0.90" fill="#f03434" fill-opacity="0.85"/>
<circle cx="255.34" cy="83.72" r="0.90" fill="#f03434" fill-opacity="0.85"/>
<circle cx="258.27" cy="100.34" r="0.90" fill="#f03434" fill-opacity="0.85"/>
<circle cx="255.52" cy="93.36" r="0.90" fill="#f03434" fill-opacity="0.85"/>
<circle cx="253.19" cy="97.83" r="0.90" fill="#f03434" fill-opacity="0.85"/>
<circle cx="258.77" cy="95.12" r="0.90" fill="#f03434" fill-opacity="0.85"/>
<circle cx="255.71" cy="79.15" r="0.90" fill="#f03434" fill-opacity="0.85"/>
<circle cx="256.19" cy="96.34" r="0.90" fill="#f03434" fill-opacity="0.85"/>
<circle cx="258.81" cy="92.13" r="0.90" fill="#f03434" fill-opacity="0.85"/>
<circle cx="258.08" cy="104.38" r="0.90" fill="#f03434" fill-opacity="0.85"/>
<circle cx="256.60" cy="102.76" r="0.90" fill="#f03434" fill-opacity="0.85"/>
<circle cx="256.46" cy="94.13" r="0.90" fill="#f03434" fill-opacity="0.85"/>
<circle cx="257.42" cy="91.77" r="0.90" fill="#f03434" fill-opacity="0.85"/>
<circle cx="253.78" cy="98.11" r="0.90" fill="#f03434" fill-opacity="0.85"/>
<circle cx="257.48" cy="93.38" r="0.90" fill="#f03434" fill-opacity="0.85"/>
<circle cx="258.83" cy="93.89" r="0.90" fill="#f03434" fill-opacity="0.85"/>
<circle cx="255.31" cy="82.06" r="0.90" fill="#f03434" fill-opacity="0.85"/>
<circle cx="258.27" cy="94.82" r="0.90" fill="#f03434" fill-opacity="0.85"/>
<circle cx="255.55" cy="95.45" r="0.90" fill="#f03434" fill-opacity="0.85"/>
<circle cx="256.62" cy="101.61" r="0.90" fill="#f03434" fill-opacity="0.85"/>
<circle cx="256.21" cy="106.62" r="0.90" fill="#f03434" fill-opacity="0.85"/>
<circle cx="258.54" cy="99.84" r="0.90" fill="#f03434" fill-opacity="0.85"/>
<circle cx="256.40" cy="104.68" r="0.90" fill="#f03434" fill-opacity="0.85"/>
<circle cx="258.38" cy="99.23" r="0.90" fill="#f03434" fill-opacity="0.85"/>
<circle cx="256.97" cy="102.37" r="0.90" fill="#f03434" fill-opacity="0.85"/>
<circle cx="257.07" cy="105.71" r="0.90" fill="#f03434" fill-opacity="0.85"/>
<circle cx="256.68" cy="93.91" r="0.90" fill="#f03434" fill-opacity="0.85"/>
<circle cx="258.20" cy="105.77" r="0.90" fill="#f03434" fill-opacity="0.85"/>
<circle cx="255.05" cy="102.59" r="0.90" fill="#f03434" fill-opacity="0.85"/>
<circle cx="258.63" cy="102.82" r="0.90" fill="#f03434" fill-opacity="0.85"/>
<circle cx="255.64" cy="99.47" r="0.90" fill="#f03434" fill-opacity="0.85"/>
<circle cx="248.53" cy="103.46" r="0.90" fill="#f03434" fill-opacity="0.85"/>
<circle cx="258.66" cy="101.21" r="0.90" fill="#f03434" fill-opacity="0.85"/>
<circle cx="256.59" cy="105.55" r="0.90" fill="#f03434" fill-opacity="0.85"/>
<circle cx="256.30" cy="98.60" r="0.90" fill="#f03434" fill-opacity="0.85"/>
<circle cx="258.06" cy="103.85" r="0.90" fill="#f03434" fill-opacity="0.85"/>
<circle cx="258.56" cy="96.66" r="0.90" fill="#f03434" fill-opacity="0.85"/>
<circle cx="257.94" cy="92.93" r="0.90" fill="#f03434" fill-opacity="0.85"/>
<circle cx="255.86" cy="102.36" r="0.90" fill="#f03434" fill-opacity="0.85"/>
<circle cx="259.02" cy="96.77" r="0.90" fill="#f03434" fill-opacity="0.85"/>
<circle cx="256.74" cy="90.31" r="0.90" fill="#f03434" fill-opacity="0.85"/>
<circle cx="258.00" cy="102.09" r="0.90" fill="#f03434" fill-opacity="0.85"/>
<circle cx="254.56" cy="76.18" r="0.90" fill="#f03434" fill-opacity="0.85"/>
<circle cx="258.72" cy="106.17" r="0.90" fill="#f03434" fill-opacity="0.85"/>
<circle cx="257.26" cy="105.71" r="0.90" fill="#f03434" fill-opacity="0.85"/>
<circle cx="258.48" cy="103.72" r="0.90" fill="#f03434" fill-opacity="0.85"/>
<circle cx="253.39" cy="100.60" r="0.90" fill="#f03434" fill-opacity="0.85"/>
<circle cx="256.79" cy="101.77" r="0.90" fill="#f03434" fill-opacity="0.85"/>
<circle cx="254.42" cy="104.39" r="0.90" fill="#f03434" fill-opacity="0.85"/>
<circle cx="255.99" cy="79.96" r="0.90" fill="#f03434" fill-opacity="0.85"/>
<circle cx="258.01" cy="105.53" r="0.90" fill="#f03434" fill-opacity="0.85"/>
<circle cx="257.13" cy="90.40" r="0.90" fill="#f03434" fill-opacity="0.85"/>
<circle cx="257.36" cy="104.97" r="0.90" fill="#f03434" fill-opacity="0.85"/>
<circle cx="256.87" cy="82.91" r="0.90" fill="#f03434" fill-opacity="0.85"/>
<circle cx="255.96" cy="98.42" r="0.90" fill="#f03434" fill-opacity="0.85"/>
<circle cx="255.90" cy="90.19" r="0.90" fill="#f03434" fill-opacity="0.85"/>
<circle cx="256.73" cy="103.34" r="0.90" fill="#f03434" fill-opacity="0.85"/>
<circle cx="258.59" cy="86.11" r="0.90" fill="#f03434" fill-opacity="0.85"/>
<circle cx="256.35" cy="92.90" r="0.90" fill="#f03434" fill-opacity="0.85"/>
<circle cx="255.57" cy="101.18" r="0.90" fill="#f03434" fill-opacity="0.85"/>
<circle cx="256.47" cy="102.08" r="0.90" fill="#f03434" fill-opacity="0.85"/>
<circle cx="258.15" cy="92.46" r="0.90" fill="#f03434" fill-opacity="0.85"/>
<circle cx="258.71" cy="99.06" r="0.90" fill="#f03434" fill-opacity="0.85"/>
<circle cx="257.99" cy="89.71" r="0.90" fill="#f03434" fill-opacity="0.85"/>
<circle cx="258.02" cy="94.57" r="0.90" fill="#f03434" fill-opacity="0.85"/>
<circle cx="256.66" cy="106.17" r="0.90" fill="#f03434" fill-opacity="0.85"/>
<circle cx="258.80" cy="104.11" r="0.90" fill="#f03434" fill-opacity="0.85"/>
<circle cx="252.26" cy="104.11" r="0.90" fill="#f03434" fill-opacity="0.85"/>
<circle cx="258.20" cy="101.60" r="0.90" fill="#f03434" fill-opacity="0.85"/>
<circle cx="258.38" cy="82.34" r="0.90" fill="#f03434" fill-opacity="0.85"/>
<circle cx="253.75" cy="86.40" r="0.90" fill="#f03434" fill-opacity="0.85"/>
<circle cx="255.90" cy="96.76" r="0.90" fill="#f03434" fill-opacity="0.85"/>
<circle cx="253.71" cy="94.29" r="0.90" fill="#f03434" fill-opacity="0.85"/>
<circle cx="257.04" cy="96.19" r="0.90" fill="#f03434" fill-opacity="0.85"/>
<circle cx="255.30" cy="101.15" r="0.90" fill="#f03434" fill-opacity="0.85"/>
<circle cx="257.16" cy="105.12" r="0.90" fill="#f03434" fill-opacity="0.85"/>
<circle cx="257.22" cy="104.19" r="0.90" fill="#f03434" fill-opacity="0.85"/>
<circle cx="253.84" cy="97.81" r="0.90" fill="#f03434" fill-opacity="0.85"/>
<circle cx="258.94" cy="102.75" r="0.90" fill="#f03434" fill-opacity="0.85"/>
<circle cx="255.63" cy="91.79" r="0.90" fill="#f03434" fill-opacity="0.85"/>
<circle cx="258.48" cy="105.77" r="0.90" fill="#f03434" fill-opacity="0.85"/>
<circle cx="257.67" cy="73.77" r="0.90" fill="#f03434" fill-opacity="0.85"/>
<circle cx="258.03" cy="90.70" r="0.90" fill="#f03434" fill-opacity="0.85"/>
<circle cx="252.77" cy="96.04" r="0.90" fill="#f03434" fill-opacity="0.85"/>
<circle cx="253.29" cy="93.09" r="0.90" fill="#f03434" fill-opacity="0.85"/>
<circle cx="256.44" cy="104.96" r="0.90" fill="#f03434" fill-opacity="0.85"/>
<circle cx="258.29" cy="102.12" r="0.90" fill="#f03434" fill-opacity="0.85"/>
<circle cx="258.10" cy="101.24" r="0.90" fill="#f03434" fill-opacity="0.85"/>
<circle cx="248.47" cy="103.78" r="0.90" fill="#f03434" fill-opacity="0.85"/>
<circle cx="256.30" cy="81.22" r="0.90" fill="#f03434" fill-opacity="0.85"/>
<circle cx="255.08" cy="99.46" r="0.90" fill="#f03434" fill-opacity="0.85"/>
<circle cx="257.70" cy="83.19" r="0.90" fill="#f03434" fill-opacity="0.85"/>
<circle cx="254.62" cy="94.68" r="0.90" fill="#f03434" fill-opacity="0.85"/>
<circle cx="258.42" cy="81.06" r="0.90" fill="#f03434" fill-opacity="0.85"/>
<circle cx="255.86" cy="92.53" r="0.90" fill="#f03434" fill-opacity="0.85"/>
<circle cx="257.14" cy="104.70" r="0.90" fill="#f03434" fill-opacity="0.85"/>
<circle cx="256.20" cy="92.08" r="0.90" fill="#f03434" fill-opacity="0.85"/>
<circle cx="257.91" cy="98.83" r="0.90" fill="#f03434" fill-opacity="0.85"/>
<circle cx="254.58" cy="103.30" r="0.90" fill="#f03434" fill-opacity="0.85"/>
<circle cx="258.79" cy="101.71" r="0.90" fill="#f03434" fill-opacity="0.85"/>
<circle cx="256.34" cy="94.71" r="0.90" fill="#f03434" fill-opacity="0.85"/>
<circle cx="254.34" cy="99.75" r="0.90" fill="#f03434" fill-opacity="0.85"/>
<circle cx="258.62" cy="93.49" r="0.90" fill="#f03434" fill-opacity="0.85"/>
<circle cx="255.69" cy="92.83" r="0.90" fill="#f03434" fill-opacity="0.85"/>
<circle cx="267.77" cy="101.00" r="0.90" fill="#f03434" fill-opacity="0.85"/>
<circle cx="272.22" cy="106.61" r="0.90" fill="#f03434" fill-opacity="0.85"/>
<circle cx="268.87" cy="105.64" r="0.90" fill="#f03434" fill-opacity="0.85"/>
<circle cx="267.21" cy="103.02" r="0.90" fill="#f03434" fill-opacity="0.85"/>
<circle cx="275.79" cy="102.46" r="0.90" fill="#f03434" fill-opacity="0.85"/>
<circle cx="279.70" cy="93.54" r="0.90" fill="#f03434" fill-opacity="0.85"/>
<circle cx="277.73" cy="97.23" r="0.90" fill="#f03434" fill-opacity="0.85"/>
<circle cx="272.94" cy="105.29" r="0.90" fill="#f03434" fill-opacity="0.85"/>
<circle cx="279.54" cy="102.36" r="0.90" fill="#f03434" fill-opacity="0.85"/>
<circle cx="273.44" cy="104.48" r="0.90" fill="#f03434" fill-opacity="0.85"/>
<circle cx="267.40" cy="100.33" r="0.90" fill="#f03434" fill-opacity="0.85"/>
<circle cx="280.83" cy="106.52" r="0.90" fill="#f03434" fill-opacity="0.85"/>
<circle cx="270.34" cy="92.44" r="0.90" fill="#f03434" fill-opacity="0.85"/>
<circle cx="267.59" cy="104.15" r="0.90" fill="#f03434" fill-opacity="0.85"/>
<circle cx="267.36" cy="101.53" r="0.90" fill="#f03434" fill-opacity="0.85"/>
<circle cx="275.51" cy="105.66" r="0.90" fill="#f03434" fill-opacity="0.85"/>
<circle cx="276.68" cy="104.11" r="0.90" fill="#f03434" fill-opacity="0.85"/>
<circle cx="267.55" cy="100.09" r="0.90" fill="#f03434" fill-opacity="0.85"/>
<circle cx="272.35" cy="98.10" r="0.90" fill="#f03434" fill-opacity="0.85"/>
<circle cx="266.55" cy="101.53" r="0.90" fill="#f03434" fill-opacity="0.85"/>
<circle cx="270.74" cy="103.52" r="0.90" fill="#f03434" fill-opacity="0.85"/>
<circle cx="268.62" cy="105.41" r="0.90" fill="#f03434" fill-opacity="0.85"/>
<circle cx="272.64" cy="97.91" r="0.90" fill="#f03434" fill-opacity="0.85"/>
<circle cx="271.81" cy="90.20" r="0.90" fill="#f03434" fill-opacity="0.85"/>
<circle cx="279.41" cy="105.11" r="0.90" fill="#f03434" fill-opacity="0.85"/>
<circle cx="269.08" cy="104.06" r="0.90" fill="#f03434" fill-opacity="0.85"/>
<circle cx="269.15" cy="100.20" r="0.90" fill="#f03434" fill-opacity="0.85"/>
<circle cx="274.33" cy="105.47" r="0.90" fill="#f03434" fill-opacity="0.85"/>
<circle cx="274.41" cy="97.16" r="0.90" fill="#f03434" fill-opacity="0.85"/>
<circle cx="268.01" cy="99.84" r="0.90" fill="#f03434" fill-opacity="0.85"/>
<circle cx="275.24" cy="99.23" r="0.90" fill="#f03434" fill-opacity="0.85"/>
<circle cx="267.84" cy="102.23" r="0.90" fill="#f03434" fill-opacity="0.85"/>
<circle cx="266.76" cy="105.92" r="0.90" fill="#f03434" fill-opacity="0.85"/>
<circle cx="271.78" cy="101.01" r="0.90" fill="#f03434" fill-opacity="0.85"/>
<circle cx="270.20" cy="105.91" r="0.90" fill="#f03434" fill-opacity="0.85"/>
<circle cx="270.55" cy="105.43" r="0.90" fill="#f03434" fill-opacity="0.85"/>
<circle cx="267.34" cy="99.70" r="0.90" fill="#f03434" fill-opacity="0.85"/>
<circle cx="277.58" cy="105.32" r="0.90" fill="#f03434" fill-opacity="0.85"/>
<circle cx="268.14" cy="106.54" r="0.90" fill="#f03434" fill-opacity="0.85"/>
<circle cx="266.85" cy="105.81" r="0.90" fill="#f03434" fill-opacity="0.85"/>
<circle cx="271.74" cy="104.38" r="0.90" fill="#f03434" fill-opacity="0.85"/>
<circle cx="274.07" cy="104.23" r="0.90" fill="#f03434" fill-opacity="0.85"/>
<circle cx="271.04" cy="103.71" r="0.90" fill="#f03434" fill-opacity="0.85"/>
<circle cx="266.64" cy="95.32" r="0.90" fill="#f03434" fill-opacity="0.85"/>
<circle cx="270.77" cy="104.34" r="0.90" fill="#f03434" fill-opacity="0.85"/>
<circle cx="272.96" cy="104.92" r="0.90" fill="#f03434" fill-opacity="0.85"/>
<circle cx="273.12" cy="99.92" r="0.90" fill="#f03434" fill-opacity="0.85"/>
<circle cx="276.36" cy="100.73" r="0.90" fill="#f03434" fill-opacity="0.85"/>
<circle cx="266.50" cy="103.33" r="0.90" fill="#f03434" fill-opacity="0.85"/>
<circle cx="267.03" cy="95.55" r="0.90" fill="#f03434" fill-opacity="0.85"/>
<circle cx="278.49" cy="106.10" r="0.90" fill="#f03434" fill-opacity="0.85"/>
<circle cx="271.35" cy="105.11" r="0.90" fill="#f03434" fill-opacity="0.85"/>
<circle cx="267.02" cy="105.73" r="0.90" fill="#f03434" fill-opacity="0.85"/>
<circle cx="274.93" cy="96.15" r="0.90" fill="#f03434" fill-opacity="0.85"/>
<circle cx="272.41" cy="102.79" r="0.90" fill="#f03434" fill-opacity="0.85"/>
<circle cx="273.89" cy="94.17" r="0.90" fill="#f03434" fill-opacity="0.85"/>
<circle cx="269.84" cy="98.81" r="0.90" fill="#f03434" fill-opacity="0.85"/>
<circle cx="273.09" cy="102.83" r="0.90" fill="#f03434" fill-opacity="0.85"/>
<circle cx="268.38" cy="103.21" r="0.90" fill="#f03434" fill-opacity="0.85"/>
<circle cx="274.49" cy="88.66" r="0.90" fill="#f03434" fill-opacity="0.85"/>
<circle cx="272.71" cy="104.87" r="0.90" fill="#f03434" fill-opacity="0.85"/>
<circle cx="270.65" cy="101.15" r="0.90" fill="#f03434" fill-opacity="0.85"/>
<circle cx="268.73" cy="100.17" r="0.90" fill="#f03434" fill-opacity="0.85"/>
<circle cx="270.04" cy="105.83" r="0.90" fill="#f03434" fill-opacity="0.85"/>
<circle cx="269.52" cy="99.67" r="0.90" fill="#f03434" fill-opacity="0.85"/>
<circle cx="277.06" cy="100.24" r="0.90" fill="#f03434" fill-opacity="0.85"/>
<circle cx="273.38" cy="93.76" r="0.90" fill="#f03434" fill-opacity="0.85"/>
<circle cx="267.65" cy="105.73" r="0.90" fill="#f03434" fill-opacity="0.85"/>
<circle cx="273.66" cy="103.14" r="0.90" fill="#f03434" fill-opacity="0.85"/>
<circle cx="271.61" cy="106.36" r="0.90" fill="#f03434" fill-opacity="0.85"/>
<circle cx="270.00" cy="93.21" r="0.90" fill="#f03434" fill-opacity="0.85"/>
<circle cx="274.05" cy="101.09" r="0.90" fill="#f03434" fill-opacity="0.85"/>
<circle cx="271.75" cy="101.23" r="0.90" fill="#f03434" fill-opacity="0.85"/>
<circle cx="279.33" cy="96.92" r="0.90" fill="#f03434" fill-opacity="0.85"/>
<circle cx="269.05" cy="103.48" r="0.90" fill="#f03434" fill-opacity="0.85"/>
<circle cx="269.99" cy="104.84" r="0.90" fill="#f03434" fill-opacity="0.85"/>
<circle cx="275.37" cy="98.78" r="0.90" fill="#f03434" fill-opacity="0.85"/>
<circle cx="268.50" cy="102.14" r="0.90" fill="#f03434" fill-opacity="0.85"/>
<circle cx="281.04" cy="102.04" r="0.90" fill="#f03434" fill-opacity="0.85"/>
<circle cx="269.07" cy="100.98" r="0.90" fill="#f03434" fill-opacity="0.85"/>
<circle cx="267.12" cy="103.45" r="0.90" fill="#f03434" fill-opacity="0.85"/>
<circle cx="266.47" cy="88.96" r="0.90" fill="#f03434" fill-opacity="0.85"/>
<circle cx="270.50" cy="104.57" r="0.90" fill="#f03434" fill-opacity="0.85"/>
<circle cx="267.25" cy="104.30" r="0.90" fill="#f03434" fill-opacity="0.85"/>
<circle cx="276.85" cy="105.04" r="0.90" fill="#f03434" fill-opacity="0.85"/>
<circle cx="271.20" cy="99.13" r="0.90" fill="#f03434" fill-opacity="0.85"/>
<circle cx="266.71" cy="106.16" r="0.90" fill="#f03434" fill-opacity="0.85"/>
<circle cx="269.72" cy="90.89" r="0.90" fill="#f03434" fill-opacity="0.85"/>
<circle cx="271.02" cy="104.64" r="0.90" fill="#f03434" fill-opacity="0.85"/>
<circle cx="271.46" cy="106.22" r="0.90" fill="#f03434" fill-opacity="0.85"/>
<circle cx="268.35" cy="106.20" r="0.90" fill="#f03434" fill-opacity="0.85"/>
<circle cx="267.86" cy="90.84" r="0.90" fill="#f03434" fill-opacity="0.85"/>
<circle cx="275.01" cy="95.89" r="0.90" fill="#f03434" fill-opacity="0.85"/>
<circle cx="275.24" cy="88.80" r="0.90" fill="#f03434" fill-opacity="0.85"/>
<circle cx="270.65" cy="98.60" r="0.90" fill="#f03434" fill-opacity="0.85"/>
<circle cx="267.78" cy="105.10" r="0.90" fill="#f03434" fill-opacity="0.85"/>
<circle cx="266.68" cy="102.81" r="0.90" fill="#f03434" fill-opacity="0.85"/>
<circle cx="270.85" cy="95.78" r="0.90" fill="#f03434" fill-opacity="0.85"/>
<circle cx="267.87" cy="105.34" r="0.90" fill="#f03434" fill-opacity="0.85"/>
<circle cx="274.12" cy="104.84" r="0.90" fill="#f03434" fill-opacity="0.85"/>
<circle cx="268.69" cy="104.72" r="0.90" fill="#f03434" fill-opacity="0.85"/>
<circle cx="281.03" cy="94.75" r="0.90" fill="#f03434" fill-opacity="0.85"/>
<circle cx="267.09" cy="103.45" r="0.90" fill="#f03434" fill-opacity="0.85"/>
<circle cx="268.48" cy="104.14" r="0.90" fill="#f03434" fill-opacity="0.85"/>
<circle cx="274.97" cy="95.47" r="0.90" fill="#f03434" fill-opacity="0.85"/>
<circle cx="270.14" cy="104.83" r="0.90" fill="#f03434" fill-opacity="0.85"/>
<circle cx="286.63" cy="98.72" r="0.90" fill="#f03434" fill-opacity="0.85"/>
<circle cx="271.21" cy="106.16" r="0.90" fill="#f03434" fill-opacity="0.85"/>
<circle cx="276.02" cy="94.39" r="0.90" fill="#f03434" fill-opacity="0.85"/>
<circle cx="276.37" cy="105.83" r="0.90" fill="#f03434" fill-opacity="0.85"/>
<circle cx="266.95" cy="105.55" r="0.90" fill="#f03434" fill-opacity="0.85"/>
<circle cx="272.43" cy="98.04" r="0.90" fill="#f03434" fill-opacity="0.85"/>
<circle cx="268.09" cy="98.68" r="0.90" fill="#f03434" fill-opacity="0.85"/>
<circle cx="274.19" cy="104.99" r="0.90" fill="#f03434" fill-opacity="0.85"/>
<circle cx="273.84" cy="103.97" r="0.90" fill="#f03434" fill-opacity="0.85"/>
<circle cx="268.57" cy="103.07" r="0.90" fill="#f03434" fill-opacity="0.85"/>
<circle cx="278.78" cy="98.51" r="0.90" fill="#f03434" fill-opacity="0.85"/>
<circle cx="268.77" cy="103.50" r="0.90" fill="#f03434" fill-opacity="0.85"/>
<circle cx="278.37" cy="103.99" r="0.90" fill="#f03434" fill-opacity="0.85"/>
<circle cx="268.92" cy="102.41" r="0.90" fill="#f03434" fill-opacity="0.85"/>
<circle cx="267.06" cy="104.76" r="0.90" fill="#f03434" fill-opacity="0.85"/>
<circle cx="272.95" cy="105.88" r="0.90" fill="#f03434" fill-opacity="0.85"/>
<circle cx="268.64" cy="104.51" r="0.90" fill="#f03434" fill-opacity="0.85"/>
<circle cx="279.31" cy="105.64" r="0.90" fill="#f03434" fill-opacity="0.85"/>
<circle cx="271.84" cy="87.86" r="0.90" fill="#f03434" fill-opacity="0.85"/>
<circle cx="269.52" cy="99.63" r="0.90" fill="#f03434" fill-opacity="0.85"/>
<circle cx="266.72" cy="103.98" r="0.90" fill="#f03434" fill-opacity="0.85"/>
<circle cx="273.12" cy="105.04" r="0.90" fill="#f03434" fill-opacity="0.85"/>
<circle cx="271.70" cy="99.91" r="0.90" fill="#f03434" fill-opacity="0.85"/>
<circle cx="269.81" cy="99.99" r="0.90" fill="#f03434" fill-opacity="0.85"/>
<circle cx="270.36" cy="102.79" r="0.90" fill="#f03434" fill-opacity="0.85"/>
<circle cx="271.90" cy="100.07" r="0.90" fill="#f03434" fill-opacity="0.85"/>
<circle cx="281.34" cy="104.94" r="0.90" fill="#f03434" fill-opacity="0.85"/>
<circle cx="274.32" cy="97.57" r="0.90" fill="#f03434" fill-opacity="0.85"/>
<circle cx="270.46" cy="89.79" r="0.90" fill="#f03434" fill-opacity="0.85"/>
<circle cx="266.85" cy="103.53" r="0.90" fill="#f03434" fill-opacity="0.85"/>
<circle cx="276.83" cy="106.71" r="0.90" fill="#f03434" fill-opacity="0.85"/>
<circle cx="271.43" cy="99.07" r="0.90" fill="#f03434" fill-opacity="0.85"/>
<circle cx="269.82" cy="90.50" r="0.90" fill="#f03434" fill-opacity="0.85"/>
<circle cx="273.42" cy="104.65" r="0.90" fill="#f03434" fill-opacity="0.85"/>
<circle cx="279.24" cy="104.22" r="0.90" fill="#f03434" fill-opacity="0.85"/>
<circle cx="274.26" cy="106.10" r="0.90" fill="#f03434" fill-opacity="0.85"/>
<circle cx="274.72" cy="103.60" r="0.90" fill="#f03434" fill-opacity="0.85"/>
<circle cx="272.55" cy="103.94" r="0.90" fill="#f03434" fill-opacity="0.85"/>
<circle cx="272.82" cy="97.74" r="0.90" fill="#f03434" fill-opacity="0.85"/>
<circle cx="278.14" cy="102.21" r="0.90" fill="#f03434" fill-opacity="0.85"/>
<circle cx="279.91" cy="94.82" r="0.90" fill="#f03434" fill-opacity="0.85"/>
<circle cx="269.42" cy="103.48" r="0.90" fill="#f03434" fill-opacity="0.85"/>
<circle cx="279.10" cy="102.79" r="0.90" fill="#f03434" fill-opacity="0.85"/>
<circle cx="278.12" cy="101.40" r="0.90" fill="#f03434" fill-opacity="0.85"/>
<circle cx="267.90" cy="100.92" r="0.90" fill="#f03434" fill-opacity="0.85"/>
<circle cx="268.81" cy="99.60" r="0.90" fill="#f03434" fill-opacity="0.85"/>
<circle cx="271.42" cy="103.12" r="0.90" fill="#f03434" fill-opacity="0.85"/>
<circle cx="274.00" cy="96.19" r="0.90" fill="#f03434" fill-opacity="0.85"/>
<circle cx="269.54" cy="104.95" r="0.90" fill="#f03434" fill-opacity="0.85"/>
<circle cx="267.60" cy="100.75" r="0.90" fill="#f03434" fill-opacity="0.85"/>
<circle cx="269.08" cy="104.46" r="0.90" fill="#f03434" fill-opacity="0.85"/>
<circle cx="271.34" cy="104.02" r="0.90" fill="#f03434" fill-opacity="0.85"/>
<circle cx="266.76" cy="105.24" r="0.90" fill="#f03434" fill-opacity="0.85"/>
<circle cx="280.44" cy="103.30" r="0.90" fill="#f03434" fill-opacity="0.85"/>
<circle cx="259.51" cy="96.51" r="0.80" fill="#5a6ef0" fill-opacity="0.85"/>
<circle cx="260.11" cy="105.50" r="0.80" fill="#5a6ef0" fill-opacity="0.85"/>
<circle cx="260.55" cy="104.81" r="0.80" fill="#5a6ef0" fill-opacity="0.85"/>
<circle cx="264.20" cy="106.93" r="0.80" fill="#5a6ef0" fill-opacity="0.85"/>
<circle cx="265.27" cy="100.77" r="0.80" fill="#5a6ef0" fill-opacity="0.85"/>
<circle cx="259.56" cy="106.52" r="0.80" fill="#5a6ef0" fill-opacity="0.85"/>
<circle cx="264.35" cy="107.09" r="0.80" fill="#5a6ef0" fill-opacity="0.85"/>
<circle cx="265.68" cy="101.60" r="0.80" fill="#5a6ef0" fill-opacity="0.85"/>
<circle cx="260.38" cy="105.96" r="0.80" fill="#5a6ef0" fill-opacity="0.85"/>
<circle cx="259.72" cy="106.37" r="0.80" fill="#5a6ef0" fill-opacity="0.85"/>
<circle cx="259.52" cy="104.97" r="0.80" fill="#5a6ef0" fill-opacity="0.85"/>
<circle cx="265.75" cy="88.46" r="0.80" fill="#5a6ef0" fill-opacity="0.85"/>
<circle cx="264.92" cy="107.02" r="0.80" fill="#5a6ef0" fill-opacity="0.85"/>
<circle cx="264.67" cy="105.21" r="0.80" fill="#5a6ef0" fill-opacity="0.85"/>
<circle cx="264.91" cy="105.63" r="0.80" fill="#5a6ef0" fill-opacity="0.85"/>
<circle cx="259.63" cy="102.34" r="0.80" fill="#5a6ef0" fill-opacity="0.85"/>
<circle cx="265.69" cy="106.16" r="0.80" fill="#5a6ef0" fill-opacity="0.85"/>
<circle cx="260.39" cy="106.78" r="0.80" fill="#5a6ef0" fill-opacity="0.85"/>
<circle cx="265.70" cy="100.70" r="0.80" fill="#5a6ef0" fill-opacity="0.85"/>
<circle cx="260.01" cy="106.52" r="0.80" fill="#5a6ef0" fill-opacity="0.85"/>
<circle cx="259.90" cy="103.20" r="0.80" fill="#5a6ef0" fill-opacity="0.85"/>
<circle cx="265.31" cy="99.33" r="0.80" fill="#5a6ef0" fill-opacity="0.85"/>
<circle cx="264.75" cy="106.66" r="0.80" fill="#5a6ef0" fill-opacity="0.85"/>
<circle cx="265.60" cy="95.74" r="0.80" fill="#5a6ef0" fill-opacity="0.85"/>
<circle cx="259.44" cy="103.06" r="0.80" fill="#5a6ef0" fill-opacity="0.85"/>
<circle cx="265.19" cy="105.99" r="0.80" fill="#5a6ef0" fill-opacity="0.85"/>
<circle cx="265.43" cy="104.97" r="0.80" fill="#5a6ef0" fill-opacity="0.85"/>
<circle cx="259.76" cy="106.33" r="0.80" fill="#5a6ef0" fill-opacity="0.85"/>
<circle cx="259.82" cy="105.46" r="0.80" fill="#5a6ef0" fill-opacity="0.85"/>
<circle cx="264.92" cy="106.52" r="0.80" fill="#5a6ef0" fill-opacity="0.85"/>
<circle cx="264.94" cy="103.43" r="0.80" fill="#5a6ef0" fill-opacity="0.85"/>
<circle cx="265.18" cy="105.27" r="0.80" fill="#5a6ef0" fill-opacity="0.85"/>
<circle cx="265.80" cy="102.23" r="0.80" fill="#5a6ef0" fill-opacity="0.85"/>
<circle cx="259.60" cy="105.04" r="0.80" fill="#5a6ef0" fill-opacity="0.85"/>
<circle cx="264.87" cy="106.14" r="0.80" fill="#5a6ef0" fill-opacity="0.85"/>
<circle cx="265.63" cy="103.60" r="0.80" fill="#5a6ef0" fill-opacity="0.85"/>
<circle cx="259.77" cy="105.45" r="0.80" fill="#5a6ef0" fill-opacity="0.85"/>
<circle cx="260.15" cy="105.00" r="0.80" fill="#5a6ef0" fill-opacity="0.85"/>
<circle cx="259.98" cy="104.45" r="0.80" fill="#5a6ef0" fill-opacity="0.85"/>
<circle cx="265.45" cy="98.50" r="0.80" fill="#5a6ef0" fill-opacity="0.85"/>
<circle cx="265.27" cy="105.80" r="0.80" fill="#5a6ef0" fill-opacity="0.85"/>
<circle cx="259.61" cy="103.82" r="0.80" fill="#5a6ef0" fill-opacity="0.85"/>
<circle cx="260.11" cy="106.95" r="0.80" fill="#5a6ef0" fill-opacity="0.85"/>
<circle cx="259.88" cy="106.93" r="0.80" fill="#5a6ef0" fill-opacity="0.85"/>
<circle cx="260.06" cy="102.81" r="0.80" fill="#5a6ef0" fill-opacity="0.85"/>
<circle cx="260.13" cy="104.95" r="0.80" fill="#5a6ef0" fill-opacity="0.85"/>
<circle cx="260.35" cy="106.80" r="0.80" fill="#5a6ef0" fill-opacity="0.85"/>
<circle cx="260.24" cy="106.22" r="0.80" fill="#5a6ef0" fill-opacity="0.85"/>
<circle cx="259.63" cy="104.13" r="0.80" fill="#5a6ef0" fill-opacity="0.85"/>
<circle cx="265.73" cy="99.65" r="0.80" fill="#5a6ef0" fill-opacity="0.85"/>
<circle cx="264.56" cy="105.29" r="0.80" fill="#5a6ef0" fill-opacity="0.85"/>
<circle cx="260.86" cy="107.04" r="0.80" fill="#5a6ef0" fill-opacity="0.85"/>
<circle cx="259.43" cy="106.30" r="0.80" fill="#5a6ef0" fill-opacity="0.85"/>
<circle cx="259.47" cy="101.66" r="0.80" fill="#5a6ef0" fill-opacity="0.85"/>
<circle cx="265.27" cy="106.04" r="0.80" fill="#5a6ef0" fill-opacity="0.85"/>
<circle cx="260.10" cy="106.04" r="0.80" fill="#5a6ef0" fill-opacity="0.85"/>
<circle cx="265.16" cy="106.23" r="0.80" fill="#5a6ef0" fill-opacity="0.85"/>
<circle cx="259.76" cy="103.25" r="0.80" fill="#5a6ef0" fill-opacity="0.85"/>
<circle cx="264.96" cy="105.37" r="0.80" fill="#5a6ef0" fill-opacity="0.85"/>
<circle cx="264.97" cy="106.19" r="0.80" fill="#5a6ef0" fill-opacity="0.85"/>
<circle cx="265.34" cy="107.11" r="0.80" fill="#5a6ef0" fill-opacity="0.85"/>
<circle cx="264.11" cy="106.83" r="0.80" fill="#5a6ef0" fill-opacity="0.85"/>
<circle cx="260.17" cy="106.91" r="0.80" fill="#5a6ef0" fill-opacity="0.85"/>
<circle cx="265.69" cy="102.28" r="0.80" fill="#5a6ef0" fill-opacity="0.85"/>
<circle cx="260.78" cy="105.29" r="0.80" fill="#5a6ef0" fill-opacity="0.85"/>
<circle cx="265.25" cy="106.05" r="0.80" fill="#5a6ef0" fill-opacity="0.85"/>
<circle cx="259.79" cy="102.03" r="0.80" fill="#5a6ef0" fill-opacity="0.85"/>
<circle cx="259.57" cy="103.54" r="0.80" fill="#5a6ef0" fill-opacity="0.85"/>
<circle cx="259.72" cy="99.87" r="0.80" fill="#5a6ef0" fill-opacity="0.85"/>
<circle cx="260.38" cy="105.25" r="0.80" fill="#5a6ef0" fill-opacity="0.85"/>
<circle cx="259.53" cy="101.06" r="0.80" fill="#5a6ef0" fill-opacity="0.85"/>
<circle cx="260.00" cy="102.09" r="0.80" fill="#5a6ef0" fill-opacity="0.85"/>
<circle cx="265.50" cy="103.94" r="0.80" fill="#5a6ef0" fill-opacity="0.85"/>
<circle cx="260.48" cy="104.50" r="0.80" fill="#5a6ef0" fill-opacity="0.85"/>
<circle cx="260.57" cy="107.12" r="0.80" fill="#5a6ef0" fill-opacity="0.85"/>
<circle cx="265.60" cy="103.37" r="0.80" fill="#5a6ef0" fill-opacity="0.85"/>
<circle cx="260.05" cy="105.56" r="0.80" fill="#5a6ef0" fill-opacity="0.85"/>
<circle cx="265.27" cy="102.56" r="0.80" fill="#5a6ef0" fill-opacity="0.85"/>
<circle cx="265.75" cy="99.98" r="0.80" fill="#5a6ef0" fill-opacity="0.85"/>
<circle cx="260.11" cy="103.26" r="0.80" fill="#5a6ef0" fill-opacity="0.85"/>
<circle cx="264.86" cy="106.42" r="0.80" fill="#5a6ef0" fill-opacity="0.85"/>
<circle cx="259.85" cy="105.90" r="0.80" fill="#5a6ef0" fill-opacity="0.85"/>
<circle cx="264.55" cy="106.90" r="0.80" fill="#5a6ef0" fill-opacity="0.85"/>
<circle cx="265.77" cy="103.68" r="0.80" fill="#5a6ef0" fill-opacity="0.85"/>
<circle cx="259.91" cy="102.71" r="0.80" fill="#5a6ef0" fill-opacity="0.85"/>
<circle cx="265.10" cy="103.98" r="0.80" fill="#5a6ef0" fill-opacity="0.85"/>
<circle cx="259.46" cy="106.64" r="0.80" fill="#5a6ef0" fill-opacity="0.85"/>
<circle cx="265.63" cy="101.93" r="0.80" fill="#5a6ef0" fill-opacity="0.85"/>
<circle cx="264.75" cy="107.09" r="0.80" fill="#5a6ef0" fill-opacity="0.85"/>
<circle cx="265.79" cy="106.81" r="0.80" fill="#5a6ef0" fill-opacity="0.85"/>
<circle cx="265.65" cy="103.99" r="0.80" fill="#5a6ef0" fill-opacity="0.85"/>
<circle cx="265.12" cy="106.87" r="0.80" fill="#5a6ef0" fill-opacity="0.85"/>
<circle cx="260.51" cy="105.29" r="0.80" fill="#5a6ef0" fill-opacity="0.85"/>
<circle cx="265.52" cy="102.28" r="0.80" fill="#5a6ef0" fill-opacity="0.85"/>
<circle cx="259.65" cy="104.05" r="0.80" fill="#5a6ef0" fill-opacity="0.85"/>
<circle cx="265.58" cy="102.69" r="0.80" fill="#5a6ef0" fill-opacity="0.85"/>
<circle cx="265.50" cy="106.11" r="0.80" fill="#5a6ef0" fill-opacity="0.85"/>
<circle cx="264.93" cy="105.82" r="0.80" fill="#5a6ef0" fill-opacity="0.85"/>
<circle cx="259.44" cy="105.86" r="0.80" fill="#5a6ef0" fill-opacity="0.85"/>
<circle cx="265.53" cy="104.45" r="0.80" fill="#5a6ef0" fill-opacity="0.85"/>
<circle cx="259.53" cy="97.68" r="0.80" fill="#5a6ef0" fill-opacity="0.85"/>
<circle cx="260.06" cy="102.74" r="0.80" fill="#5a6ef0" fill-opacity="0.85"/>
<circle cx="259.99" cy="105.87" r="0.80" fill="#5a6ef0" fill-opacity="0.85"/>
<circle cx="265.55" cy="101.54" r="0.80" fill="#5a6ef0" fill-opacity="0.85"/>
<circle cx="264.89" cy="105.82" r="0.80" fill="#5a6ef0" fill-opacity="0.85"/>
<circle cx="259.77" cy="106.33" r="0.80" fill="#5a6ef0" fill-opacity="0.85"/>
<circle cx="259.76" cy="103.49" r="0.80" fill="#5a6ef0" fill-opacity="0.85"/>
<circle cx="260.05" cy="104.56" r="0.80" fill="#5a6ef0" fill-opacity="0.85"/>
<circle cx="265.77" cy="93.08" r="0.80" fill="#5a6ef0" fill-opacity="0.85"/>
<circle cx="264.93" cy="106.98" r="0.80" fill="#5a6ef0" fill-opacity="0.85"/>
<circle cx="265.40" cy="98.88" r="0.80" fill="#5a6ef0" fill-opacity="0.85"/>
<circle cx="260.50" cy="106.39" r="0.80" fill="#5a6ef0" fill-opacity="0.85"/>
<circle cx="265.16" cy="106.72" r="0.80" fill="#5a6ef0" fill-opacity="0.85"/>
<circle cx="265.08" cy="104.13" r="0.80" fill="#5a6ef0" fill-opacity="0.85"/>
<circle cx="265.58" cy="106.85" r="0.80" fill="#5a6ef0" fill-opacity="0.85"/>
<circle cx="259.52" cy="104.97" r="0.80" fill="#5a6ef0" fill-opacity="0.85"/>
<circle cx="260.69" cy="106.74" r="0.80" fill="#5a6ef0" fill-opacity="0.85"/>
<circle cx="259.62" cy="105.62" r="0.80" fill="#5a6ef0" fill-opacity="0.85"/>
<circle cx="261.36" cy="107.11" r="0.80" fill="#5a6ef0" fill-opacity="0.85"/>
<circle cx="264.75" cy="105.98" r="0.80" fill="#5a6ef0" fill-opacity="0.85"/>
<circle cx="260.47" cy="105.78" r="0.80" fill="#5a6ef0" fill-opacity="0.85"/>
<circle cx="260.07" cy="104.95" r="0.80" fill="#5a6ef0" fill-opacity="0.85"/>
<circle cx="260.05" cy="106.69" r="0.80" fill="#5a6ef0" fill-opacity="0.85"/>
<circle cx="259.44" cy="100.29" r="0.80" fill="#5a6ef0" fill-opacity="0.85"/>
<circle cx="265.10" cy="103.75" r="0.80" fill="#5a6ef0" fill-opacity="0.85"/>
<circle cx="260.24" cy="106.41" r="0.80" fill="#5a6ef0" fill-opacity="0.85"/>
<circle cx="265.66" cy="105.53" r="0.80" fill="#5a6ef0" fill-opacity="0.85"/>
<circle cx="264.89" cy="105.56" r="0.80" fill="#5a6ef0" fill-opacity="0.85"/>
<circle cx="265.65" cy="104.90" r="0.80" fill="#5a6ef0" fill-opacity="0.85"/>
<circle cx="265.21" cy="107.16" r="0.80" fill="#5a6ef0" fill-opacity="0.85"/>
<circle cx="266.53" cy="107.64" r="0.85" fill="#333" fill-opacity="0.85"/>
<circle cx="260.96" cy="107.87" r="0.85" fill="#333" fill-opacity="0.85"/>
<circle cx="257.89" cy="107.36" r="0.85" fill="#333" fill-opacity="0.85"/>
<circle cx="265.17" cy="107.98" r="0.85" fill="#333" fill-opacity="0.85"/>
<circle cx="264.91" cy="108.14" r="0.85" fill="#333" fill-opacity="0.85"/>
<circle cx="259.73" cy="108.21" r="0.85" fill="#333" fill-opacity="0.85"/>
<circle cx="259.49" cy="107.57" r="0.85" fill="#333" fill-opacity="0.85"/>
<circle cx="264.06" cy="107.37" r="0.85" fill="#333" fill-opacity="0.85"/>
<circle cx="258.54" cy="107.30" r="0.85" fill="#333" fill-opacity="0.85"/>
<circle cx="262.38" cy="107.96" r="0.85" fill="#333" fill-opacity="0.85"/>
<circle cx="262.63" cy="107.87" r="0.85" fill="#333" fill-opacity="0.85"/>
<circle cx="259.53" cy="107.93" r="0.85" fill="#333" fill-opacity="0.85"/>
<circle cx="264.10" cy="107.39" r="0.85" fill="#333" fill-opacity="0.85"/>
<circle cx="266.85" cy="108.27" r="0.85" fill="#333" fill-opacity="0.85"/>
<circle cx="266.60" cy="107.24" r="0.85" fill="#333" fill-opacity="0.85"/>
<circle cx="264.78" cy="106.94" r="0.85" fill="#333" fill-opacity="0.85"/>
<circle cx="258.89" cy="107.28" r="0.85" fill="#333" fill-opacity="0.85"/>
<circle cx="266.69" cy="108.39" r="0.85" fill="#333" fill-opacity="0.85"/>
<circle cx="263.57" cy="106.99" r="0.85" fill="#333" fill-opacity="0.85"/>
<circle cx="260.48" cy="107.15" r="0.85" fill="#333" fill-opacity="0.85"/>
<circle cx="266.76" cy="107.86" r="0.85" fill="#333" fill-opacity="0.85"/>
<circle cx="258.97" cy="108.23" r="0.85" fill="#333" fill-opacity="0.85"/>
<circle cx="265.98" cy="107.88" r="0.85" fill="#333" fill-opacity="0.85"/>
<circle cx="260.71" cy="107.85" r="0.85" fill="#333" fill-opacity="0.85"/>
<circle cx="266.98" cy="108.17" r="0.85" fill="#333" fill-opacity="0.85"/>
<circle cx="257.67" cy="106.99" r="0.85" fill="#333" fill-opacity="0.85"/>
<circle cx="260.73" cy="107.95" r="0.85" fill="#333" fill-opacity="0.85"/>
<circle cx="267.47" cy="108.12" r="0.85" fill="#333" fill-opacity="0.85"/>
<circle cx="258.36" cy="107.09" r="0.85" fill="#333" fill-opacity="0.85"/>
<circle cx="259.98" cy="108.22" r="0.85" fill="#333" fill-opacity="0.85"/>
<circle cx="267.08" cy="108.21" r="0.85" fill="#333" fill-opacity="0.85"/>
<circle cx="266.71" cy="108.04" r="0.85" fill="#333" fill-opacity="0.85"/>
<circle cx="260.59" cy="108.23" r="0.85" fill="#333" fill-opacity="0.85"/>
<circle cx="263.03" cy="107.65" r="0.85" fill="#333" fill-opacity="0.85"/>
<circle cx="261.56" cy="107.74" r="0.85" fill="#333" fill-opacity="0.85"/>
<circle cx="260.53" cy="107.18" r="0.85" fill="#333" fill-opacity="0.85"/>
<circle cx="267.04" cy="107.32" r="0.85" fill="#333" fill-opacity="0.85"/>
<circle cx="265.87" cy="108.48" r="0.85" fill="#333" fill-opacity="0.85"/>
<circle cx="260.04" cy="108.25" r="0.85" fill="#333" fill-opacity="0.85"/>
<circle cx="259.07" cy="106.96" r="0.85" fill="#333" fill-opacity="0.85"/>
<circle cx="266.75" cy="107.05" r="0.85" fill="#333" fill-opacity="0.85"/>
<circle cx="263.19" cy="108.40" r="0.85" fill="#333" fill-opacity="0.85"/>
<circle cx="261.85" cy="108.50" r="0.85" fill="#333" fill-opacity="0.85"/>
<circle cx="266.74" cy="108.15" r="0.85" fill="#333" fill-opacity="0.85"/>
<circle cx="260.43" cy="107.00" r="0.85" fill="#333" fill-opacity="0.85"/>
<circle cx="259.53" cy="107.04" r="0.85" fill="#333" fill-opacity="0.85"/>
<circle cx="260.67" cy="107.47" r="0.85" fill="#333" fill-opacity="0.85"/>
<circle cx="258.57" cy="107.08" r="0.85" fill="#333" fill-opacity="0.85"/>
<circle cx="261.56" cy="108.01" r="0.85" fill="#333" fill-opacity="0.85"/>
<circle cx="264.18" cy="107.59" r="0.85" fill="#333" fill-opacity="0.85"/>
<circle cx="250.80" cy="29.30" r="0.95" fill="#f03434" fill-opacity="0.85"/>
<circle cx="257.00" cy="46.50" r="0.95" fill="#f03434" fill-opacity="0.85"/>
<circle cx="253.70" cy="58.40" r="0.95" fill="#f03434" fill-opacity="0.85"/>
<circle cx="257.00" cy="58.40" r="0.95" fill="#f03434" fill-opacity="0.85"/>
<circle cx="298.40" cy="38.10" r="0.95" fill="#f03434" fill-opacity="0.85"/>
<circle cx="298.40" cy="45.90" r="0.95" fill="#f03434" fill-opacity="0.85"/>
<circle cx="320.20" cy="62.00" r="0.95" fill="#f03434" fill-opacity="0.85"/>
<circle cx="295.50" cy="65.00" r="0.95" fill="#f03434" fill-opacity="0.85"/>
<circle cx="298.20" cy="69.50" r="0.95" fill="#f03434" fill-opacity="0.85"/>
<circle cx="272.40" cy="70.80" r="0.95" fill="#f03434" fill-opacity="0.85"/>
<circle cx="279.50" cy="74.50" r="0.95" fill="#f03434" fill-opacity="0.85"/>
<circle cx="289.60" cy="71.90" r="0.95" fill="#f03434" fill-opacity="0.85"/>
<circle cx="291.60" cy="75.20" r="0.95" fill="#f03434" fill-opacity="0.85"/>
<circle cx="306.60" cy="79.40" r="0.95" fill="#f03434" fill-opacity="0.85"/>
<circle cx="245.30" cy="80.50" r="0.95" fill="#f03434" fill-opacity="0.85"/>
<circle cx="241.50" cy="86.00" r="0.95" fill="#f03434" fill-opacity="0.85"/>
<circle cx="247.70" cy="87.30" r="0.95" fill="#f03434" fill-opacity="0.85"/>
<circle cx="302.60" cy="84.00" r="0.95" fill="#f03434" fill-opacity="0.85"/>
<circle cx="301.00" cy="89.30" r="0.95" fill="#f03434" fill-opacity="0.85"/>
<circle cx="296.20" cy="93.30" r="0.95" fill="#f03434" fill-opacity="0.85"/>
<circle cx="322.00" cy="99.90" r="0.95" fill="#f03434" fill-opacity="0.85"/>
<circle cx="286.30" cy="85.50" r="0.95" fill="#f03434" fill-opacity="0.85"/>
<circle cx="286.70" cy="89.50" r="0.95" fill="#f03434" fill-opacity="0.85"/>
<circle cx="291.10" cy="90.00" r="0.95" fill="#f03434" fill-opacity="0.85"/>
<circle cx="240.30" cy="98.50" r="0.95" fill="#f03434" fill-opacity="0.85"/>
<circle cx="235.80" cy="104.00" r="0.95" fill="#f03434" fill-opacity="0.85"/>
<circle cx="243.00" cy="95.00" r="0.95" fill="#f03434" fill-opacity="0.85"/>
<circle cx="238.00" cy="96.00" r="0.95" fill="#f03434" fill-opacity="0.85"/>
<circle cx="283.00" cy="96.00" r="0.95" fill="#f03434" fill-opacity="0.85"/>
<circle cx="280.00" cy="92.00" r="0.95" fill="#f03434" fill-opacity="0.85"/>
<circle cx="276.00" cy="99.00" r="0.95" fill="#f03434" fill-opacity="0.85"/>
<circle cx="270.00" cy="95.00" r="0.95" fill="#f03434" fill-opacity="0.85"/>
<circle cx="274.00" cy="88.00" r="0.95" fill="#f03434" fill-opacity="0.85"/>
<circle cx="300.00" cy="105.50" r="0.95" fill="#f03434" fill-opacity="0.85"/>
<circle cx="302.00" cy="105.80" r="0.95" fill="#f03434" fill-opacity="0.85"/>
<line x1="259.40" y1="20.00" x2="259.40" y2="112.10" stroke="#444" stroke-width="0.5" stroke-dasharray="1.5,1"/>
<line x1="266.20" y1="20.00" x2="266.20" y2="112.10" stroke="#444" stroke-width="0.5" stroke-dasharray="1.5,1"/>
<line x1="192.40" y1="106.20" x2="333.80" y2="106.20" stroke="#444" stroke-width="0.5" stroke-dasharray="1.5,1"/>
<line x1="192.40" y1="20.00" x2="192.40" y2="112.10" stroke="#1a1a1a" stroke-width="0.9"/>
<line x1="192.40" y1="112.10" x2="333.80" y2="112.10" stroke="#1a1a1a" stroke-width="0.9"/>
<line x1="198.60" y1="112.10" x2="198.60" y2="113.90" stroke="#1a1a1a" stroke-width="0.6"/>
<text x="198.60" y="121.81" font-size="6.5" text-anchor="middle" stroke="#1a1a1a" stroke-width="0.12">-5.0</text>
<line x1="230.60" y1="112.10" x2="230.60" y2="113.90" stroke="#1a1a1a" stroke-width="0.6"/>
<text x="230.60" y="121.81" font-size="6.5" text-anchor="middle" stroke="#1a1a1a" stroke-width="0.12">-2.5</text>
<line x1="262.60" y1="112.10" x2="262.60" y2="113.90" stroke="#1a1a1a" stroke-width="0.6"/>
<text x="262.60" y="121.81" font-size="6.5" text-anchor="middle" stroke="#1a1a1a" stroke-width="0.12">0.0</text>
<line x1="294.60" y1="112.10" x2="294.60" y2="113.90" stroke="#1a1a1a" stroke-width="0.6"/>
<text x="294.60" y="121.81" font-size="6.5" text-anchor="middle" stroke="#1a1a1a" stroke-width="0.12">2.5</text>
<line x1="326.60" y1="112.10" x2="326.60" y2="113.90" stroke="#1a1a1a" stroke-width="0.6"/>
<text x="326.60" y="121.81" font-size="6.5" text-anchor="middle" stroke="#1a1a1a" stroke-width="0.12">5.0</text>
<line x1="190.60" y1="108.60" x2="192.40" y2="108.60" stroke="#1a1a1a" stroke-width="0.6"/>
<text x="188.60" y="110.81" font-size="6.5" text-anchor="end" stroke="#1a1a1a" stroke-width="0.12">0</text>
<line x1="190.60" y1="80.34" x2="192.40" y2="80.34" stroke="#1a1a1a" stroke-width="0.6"/>
<text x="188.60" y="82.55" font-size="6.5" text-anchor="end" stroke="#1a1a1a" stroke-width="0.12">20</text>
<line x1="190.60" y1="52.08" x2="192.40" y2="52.08" stroke="#1a1a1a" stroke-width="0.6"/>
<text x="188.60" y="54.29" font-size="6.5" text-anchor="end" stroke="#1a1a1a" stroke-width="0.12">40</text>
<line x1="190.60" y1="23.82" x2="192.40" y2="23.82" stroke="#1a1a1a" stroke-width="0.6"/>
<text x="188.60" y="26.03" font-size="6.5" text-anchor="end" stroke="#1a1a1a" stroke-width="0.12">60</text>
<text x="264.00" y="128.54" font-size="6.6" text-anchor="middle" stroke="#1a1a1a" stroke-width="0.12">Log2(Fold change)</text>
<text x="175.94" y="70.20" font-size="6.6" text-anchor="middle" stroke="#1a1a1a" stroke-width="0.12" transform="rotate(-90 175.94 70.20)">-Log10(adjusted p-value)</text>
<text x="466.20" y="10.81" font-size="6.5" text-anchor="middle" stroke="#1a1a1a" stroke-width="0.12">Downregulated DEGs</text>
<line x1="400.60" y1="13.20" x2="400.60" y2="111.20" stroke="#999" stroke-width="0.5" stroke-dasharray="1,1"/>
<line x1="393.60" y1="104.30" x2="541.00" y2="104.30" stroke="#777" stroke-width="0.5" stroke-dasharray="1.2,1"/>
<circle cx="400.65" cy="106.58" r="0.90" fill="#b0b0b0"/>
<circle cx="401.90" cy="106.40" r="0.90" fill="#b0b0b0"/>
<circle cx="402.27" cy="106.66" r="0.90" fill="#b0b0b0"/>
<circle cx="401.92" cy="106.74" r="0.90" fill="#b0b0b0"/>
<circle cx="402.47" cy="106.57" r="0.90" fill="#b0b0b0"/>
<circle cx="403.14" cy="106.07" r="0.90" fill="#b0b0b0"/>
<circle cx="404.45" cy="106.86" r="0.90" fill="#b0b0b0"/>
<circle cx="404.45" cy="106.05" r="0.90" fill="#b0b0b0"/>
<circle cx="406.05" cy="106.83" r="0.90" fill="#b0b0b0"/>
<circle cx="406.55" cy="106.08" r="0.90" fill="#b0b0b0"/>
<circle cx="407.95" cy="105.58" r="0.90" fill="#b0b0b0"/>
<circle cx="408.32" cy="105.78" r="0.90" fill="#b0b0b0"/>
<circle cx="407.49" cy="105.49" r="0.90" fill="#b0b0b0"/>
<circle cx="408.42" cy="106.24" r="0.90" fill="#b0b0b0"/>
<circle cx="408.76" cy="105.87" r="0.90" fill="#b0b0b0"/>
<circle cx="410.28" cy="105.53" r="0.90" fill="#b0b0b0"/>
<circle cx="410.70" cy="105.07" r="0.90" fill="#b0b0b0"/>
<circle cx="410.32" cy="105.15" r="0.90" fill="#b0b0b0"/>
<circle cx="412.16" cy="105.33" r="0.90" fill="#b0b0b0"/>
<circle cx="412.03" cy="105.43" r="0.90" fill="#b0b0b0"/>
<circle cx="412.91" cy="105.00" r="0.90" fill="#b0b0b0"/>
<circle cx="414.19" cy="105.39" r="0.90" fill="#b0b0b0"/>
<circle cx="413.69" cy="105.15" r="0.90" fill="#b0b0b0"/>
<circle cx="414.85" cy="105.43" r="0.90" fill="#b0b0b0"/>
<circle cx="415.86" cy="104.63" r="0.90" fill="#b0b0b0"/>
<circle cx="416.96" cy="104.34" r="0.90" fill="#b0b0b0"/>
<circle cx="441.00" cy="104.90" r="0.80" fill="#b0b0b0"/>
<circle cx="466.00" cy="104.90" r="0.80" fill="#b0b0b0"/>
<circle cx="428.90" cy="86.40" r="1.30" fill="#ee1c1c"/>
<circle cx="443.10" cy="85.60" r="1.30" fill="#ee1c1c"/>
<circle cx="437.70" cy="101.80" r="1.30" fill="#ee1c1c"/>
<circle cx="412.10" cy="104.00" r="1.30" fill="#ee1c1c"/>
<circle cx="417.70" cy="103.30" r="1.30" fill="#ee1c1c"/>
<circle cx="419.50" cy="103.50" r="1.30" fill="#ee1c1c"/>
<circle cx="421.60" cy="103.80" r="1.30" fill="#ee1c1c"/>
<circle cx="425.30" cy="103.10" r="1.30" fill="#ee1c1c"/>
<rect x="393.60" y="13.20" width="147.40" height="98.00" fill="none" stroke="#555" stroke-width="0.9"/>
<circle cx="516.40" cy="18.00" r="3.20" fill="#f21414"/>
<text x="516.40" y="19.75" font-size="5.0" text-anchor="middle" fill="#ffffff">1</text>
<circle cx="470.70" cy="23.40" r="3.20" fill="#f21414"/>
<text x="470.70" y="25.15" font-size="5.0" text-anchor="middle" fill="#ffffff">2</text>
<circle cx="455.20" cy="30.80" r="3.20" fill="#f21414"/>
<text x="455.20" y="32.55" font-size="5.0" text-anchor="middle" fill="#ffffff">3</text>
<circle cx="448.50" cy="32.10" r="3.20" fill="#f21414"/>
<text x="448.50" y="33.85" font-size="5.0" text-anchor="middle" fill="#ffffff">4</text>
<circle cx="452.20" cy="39.20" r="3.20" fill="#f21414"/>
<text x="452.20" y="40.95" font-size="5.0" text-anchor="middle" fill="#ffffff">5</text>
<circle cx="440.70" cy="43.20" r="3.20" fill="#f21414"/>
<text x="440.70" y="44.95" font-size="5.0" text-anchor="middle" fill="#ffffff">6</text>
<circle cx="465.40" cy="46.30" r="3.20" fill="#f21414"/>
<text x="465.40" y="48.05" font-size="5.0" text-anchor="middle" fill="#ffffff">7</text>
<circle cx="433.00" cy="46.90" r="3.20" fill="#f21414"/>
<text x="433.00" y="48.65" font-size="5.0" text-anchor="middle" fill="#ffffff">8</text>
<circle cx="433.20" cy="51.50" r="3.20" fill="#f21414"/>
<text x="433.20" y="53.25" font-size="5.0" text-anchor="middle" fill="#ffffff">9</text>
<circle cx="426.00" cy="53.70" r="3.20" fill="#f21414"/>
<text x="426.00" y="55.20" font-size="4.2" text-anchor="middle" fill="#ffffff" textLength="5.2" lengthAdjust="spacingAndGlyphs">10</text>
<circle cx="533.00" cy="83.00" r="3.20" fill="#f21414"/>
<text x="533.00" y="84.50" font-size="4.2" text-anchor="middle" fill="#ffffff" textLength="5.2" lengthAdjust="spacingAndGlyphs">11</text>
<line x1="400.30" y1="111.20" x2="400.30" y2="113.00" stroke="#333" stroke-width="0.6"/>
<text x="400.30" y="119.81" font-size="6.5" text-anchor="middle" stroke="#1a1a1a" stroke-width="0.12">0</text>
<line x1="436.50" y1="111.20" x2="436.50" y2="113.00" stroke="#333" stroke-width="0.6"/>
<text x="436.50" y="119.81" font-size="6.5" text-anchor="middle" stroke="#1a1a1a" stroke-width="0.12">10</text>
<line x1="472.70" y1="111.20" x2="472.70" y2="113.00" stroke="#333" stroke-width="0.6"/>
<text x="472.70" y="119.81" font-size="6.5" text-anchor="middle" stroke="#1a1a1a" stroke-width="0.12">20</text>
<line x1="508.90" y1="111.20" x2="508.90" y2="113.00" stroke="#333" stroke-width="0.6"/>
<text x="508.90" y="119.81" font-size="6.5" text-anchor="middle" stroke="#1a1a1a" stroke-width="0.12">30</text>
<line x1="391.80" y1="106.30" x2="393.60" y2="106.30" stroke="#333" stroke-width="0.6"/>
<text x="389.30" y="108.51" font-size="6.5" text-anchor="end" stroke="#1a1a1a" stroke-width="0.12">0</text>
<line x1="391.80" y1="73.10" x2="393.60" y2="73.10" stroke="#333" stroke-width="0.6"/>
<text x="389.30" y="75.31" font-size="6.5" text-anchor="end" stroke="#1a1a1a" stroke-width="0.12">20</text>
<line x1="391.80" y1="39.90" x2="393.60" y2="39.90" stroke="#333" stroke-width="0.6"/>
<text x="389.30" y="42.11" font-size="6.5" text-anchor="end" stroke="#1a1a1a" stroke-width="0.12">40</text>
<text x="461.30" y="127.04" font-size="6.6" text-anchor="middle" stroke="#1a1a1a" stroke-width="0.12">Odds ratio</text>
<text x="375.84" y="68.50" font-size="6.6" text-anchor="middle" stroke="#1a1a1a" stroke-width="0.12" transform="rotate(-90 375.84 68.50)">-Log10(adjusted p-value)</text>
<text x="553.90" y="17.85" font-size="7.2" stroke="#1a1a1a" stroke-width="0.12">No.</text>
<text x="571.80" y="17.85" font-size="7.2" stroke="#1a1a1a" stroke-width="0.12">KEGG Pathway</text>
<line x1="553.90" y1="19.40" x2="565.00" y2="19.40" stroke="#1a1a1a" stroke-width="0.5"/>
<line x1="571.80" y1="19.40" x2="623.50" y2="19.40" stroke="#1a1a1a" stroke-width="0.5"/>
<text x="565.00" y="26.60" font-size="7.2" text-anchor="end" stroke="#1a1a1a" stroke-width="0.12">1.</text>
<text x="571.80" y="26.60" font-size="7.2" fill="#e8201e" stroke="#e8201e" stroke-width="0.12">Oxidative phosphorylation</text>
<text x="565.00" y="35.35" font-size="7.2" text-anchor="end" stroke="#1a1a1a" stroke-width="0.12">2.</text>
<text x="571.80" y="35.35" font-size="7.2" stroke="#1a1a1a" stroke-width="0.12">Diabetic cardiomyopathy</text>
<text x="565.00" y="44.10" font-size="7.2" text-anchor="end" stroke="#1a1a1a" stroke-width="0.12">3.</text>
<text x="571.80" y="44.10" font-size="7.2" fill="#e8201e" stroke="#e8201e" stroke-width="0.12">Parkinson’s disease</text>
<text x="565.00" y="52.85" font-size="7.2" text-anchor="end" stroke="#1a1a1a" stroke-width="0.12">4.</text>
<text x="571.80" y="52.85" font-size="7.2" fill="#e8201e" stroke="#e8201e" stroke-width="0.12">Prion disease</text>
<text x="565.00" y="61.60" font-size="7.2" text-anchor="end" stroke="#1a1a1a" stroke-width="0.12">5.</text>
<text x="571.80" y="61.60" font-size="7.2" stroke="#1a1a1a" stroke-width="0.12">Thermogenesis</text>
<text x="565.00" y="70.35" font-size="7.2" text-anchor="end" stroke="#1a1a1a" stroke-width="0.12">6.</text>
<text x="571.80" y="70.35" font-size="7.2" fill="#e8201e" stroke="#e8201e" stroke-width="0.12">Huntington’s disease</text>
<text x="565.00" y="79.10" font-size="7.2" text-anchor="end" stroke="#1a1a1a" stroke-width="0.12">7.</text>
<text x="571.80" y="79.10" font-size="7.2" stroke="#1a1a1a" stroke-width="0.12">Non-alcoholic fatty liver disease</text>
<text x="565.00" y="87.85" font-size="7.2" text-anchor="end" stroke="#1a1a1a" stroke-width="0.12">8.</text>
<text x="571.80" y="87.85" font-size="7.2" fill="#e8201e" stroke="#e8201e" stroke-width="0.12">Alzheimer’s disease</text>
<text x="565.00" y="96.60" font-size="7.2" text-anchor="end" stroke="#1a1a1a" stroke-width="0.12">9.</text>
<text x="571.80" y="96.60" font-size="7.2" fill="#e8201e" stroke="#e8201e" stroke-width="0.12">Amyotrophic lateral sclerosis</text>
<text x="565.00" y="105.35" font-size="7.2" text-anchor="end" stroke="#1a1a1a" stroke-width="0.12">10.</text>
<text x="571.80" y="105.35" font-size="7.2" stroke="#1a1a1a" stroke-width="0.12">Pathways of neurodegeneration</text>
<text x="565.00" y="114.10" font-size="7.2" text-anchor="end" stroke="#1a1a1a" stroke-width="0.12">11.</text>
<text x="571.80" y="114.10" font-size="7.2" stroke="#1a1a1a" stroke-width="0.12">Citrate cycle (TCA cycle)</text>
<rect x="67.10" y="163.10" width="22.20" height="13.90" fill="#d8c7a2"/>
<text x="88.10" y="170.59" font-size="6.3" text-anchor="end" fill="#333" stroke="#333" stroke-width="0.12">67</text>
<text x="61.90" y="168.81" font-size="6.2" text-anchor="end" fill="#222" stroke="#222" stroke-width="0.12">Amyotrophic</text>
<text x="61.90" y="176.21" font-size="6.2" text-anchor="end" fill="#222" stroke="#222" stroke-width="0.12">lateral sclerosis (ALS)</text>
<rect x="67.10" y="179.50" width="22.50" height="13.60" fill="#eea86a"/>
<text x="88.40" y="186.84" font-size="6.3" text-anchor="end" fill="#333" stroke="#333" stroke-width="0.12">68</text>
<text x="61.90" y="185.31" font-size="6.2" text-anchor="end" fill="#222" stroke="#222" stroke-width="0.12">Alzheimer’s</text>
<text x="61.90" y="192.71" font-size="6.2" text-anchor="end" fill="#222" stroke="#222" stroke-width="0.12">disease (AD)</text>
<rect x="67.10" y="196.20" width="21.30" height="13.20" fill="#dde87c"/>
<text x="87.20" y="203.34" font-size="6.3" text-anchor="end" fill="#333" stroke="#333" stroke-width="0.12">66</text>
<text x="61.90" y="201.81" font-size="6.2" text-anchor="end" fill="#222" stroke="#222" stroke-width="0.12">Huntington’s</text>
<text x="61.90" y="209.21" font-size="6.2" text-anchor="end" fill="#222" stroke="#222" stroke-width="0.12">disease (HT)</text>
<rect x="67.10" y="212.80" width="22.80" height="13.00" fill="#eba2ac"/>
<text x="88.70" y="219.84" font-size="6.3" text-anchor="end" fill="#333" stroke="#333" stroke-width="0.12">69</text>
<text x="61.90" y="218.31" font-size="6.2" text-anchor="end" fill="#222" stroke="#222" stroke-width="0.12">Prion</text>
<text x="61.90" y="225.71" font-size="6.2" text-anchor="end" fill="#222" stroke="#222" stroke-width="0.12">disease (PrD)</text>
<rect x="67.10" y="228.90" width="21.90" height="13.50" fill="#acd0ec"/>
<text x="87.80" y="236.19" font-size="6.3" text-anchor="end" fill="#333" stroke="#333" stroke-width="0.12">59</text>
<text x="61.90" y="234.81" font-size="6.2" text-anchor="end" fill="#222" stroke="#222" stroke-width="0.12">Parkinson’s</text>
<text x="61.90" y="242.21" font-size="6.2" text-anchor="end" fill="#222" stroke="#222" stroke-width="0.12">disease (PD)</text>
<rect x="67.10" y="245.90" width="19.00" height="12.90" fill="#70b070"/>
<text x="84.90" y="252.89" font-size="6.3" text-anchor="end" fill="#333" stroke="#333" stroke-width="0.12">59</text>
<text x="61.90" y="249.81" font-size="6.2" text-anchor="end" fill="#222" stroke="#222" stroke-width="0.12">Oxidative</text>
<text x="61.90" y="257.21" font-size="6.2" text-anchor="end" fill="#222" stroke="#222" stroke-width="0.12">phosphorylation</text>
<text x="61.90" y="264.71" font-size="6.2" text-anchor="end" fill="#222" stroke="#222" stroke-width="0.12">(OXPHOS)</text>
<line x1="66.70" y1="162.20" x2="66.70" y2="265.00" stroke="#999" stroke-width="1.0"/>
<line x1="66.20" y1="264.60" x2="95.80" y2="264.60" stroke="#999" stroke-width="1.0"/>
<text x="67.00" y="271.84" font-size="6.3" text-anchor="middle" fill="#222" stroke="#222" stroke-width="0.12">0</text>
<text x="78.40" y="271.84" font-size="6.3" text-anchor="middle" fill="#222" stroke="#222" stroke-width="0.12">35</text>
<text x="89.80" y="271.84" font-size="6.3" text-anchor="middle" fill="#222" stroke="#222" stroke-width="0.12">70</text>
<text x="80.10" y="278.61" font-size="6.2" text-anchor="middle" fill="#222" stroke="#222" stroke-width="0.12">Gene number</text>
<polygon points="98.2,156.9 162.0,193.0 136.0,214.0" fill="#4c9f4c" fill-opacity="0.75"/>
<polygon points="147.8,153.6 134.0,214.0 161.0,214.0" fill="#8cc2ea" fill-opacity="0.8"/>
<polygon points="186.9,168.2 138.0,183.0 152.0,213.0" fill="#e27e96" fill-opacity="0.75"/>
<polygon points="101.0,233.8 160.0,182.0 162.0,205.0" fill="#cdb58c" fill-opacity="0.8"/>
<polygon points="229.5,221.6 148.0,187.5 148.0,213.0" fill="#cfe05c" fill-opacity="0.75"/>
<polygon points="163.1,261.5 130.0,180.0 152.0,176.0" fill="#ea9444" fill-opacity="0.8"/>
<line x1="135.00" y1="173.00" x2="145.00" y2="181.00" stroke="#bbb" stroke-width="0.3"/>
<line x1="158.00" y1="173.00" x2="152.00" y2="181.00" stroke="#bbb" stroke-width="0.3"/>
<line x1="176.00" y1="192.00" x2="160.00" y2="199.00" stroke="#bbb" stroke-width="0.3"/>
<line x1="116.00" y1="198.00" x2="140.00" y2="201.00" stroke="#bbb" stroke-width="0.3"/>
<line x1="116.00" y1="203.60" x2="140.00" y2="204.00" stroke="#bbb" stroke-width="0.3"/>
<line x1="116.00" y1="209.00" x2="140.00" y2="207.00" stroke="#bbb" stroke-width="0.3"/>
<line x1="137.00" y1="225.00" x2="146.00" y2="214.00" stroke="#bbb" stroke-width="0.3"/>
<line x1="170.00" y1="224.00" x2="158.00" y2="214.00" stroke="#bbb" stroke-width="0.3"/>
<text x="124.00" y="182.74" font-size="6.0" text-anchor="middle" fill="#222" stroke="#222" stroke-width="0.12">0</text>
<text x="147.80" y="172.14" font-size="6.0" text-anchor="middle" fill="#222" stroke="#222" stroke-width="0.12">0</text>
<text x="172.40" y="180.04" font-size="6.0" text-anchor="middle" fill="#222" stroke="#222" stroke-width="0.12">3</text>
<text x="175.60" y="209.94" font-size="6.0" text-anchor="middle" fill="#222" stroke="#222" stroke-width="0.12">2</text>
<text x="153.60" y="230.24" font-size="6.0" text-anchor="middle" fill="#222" stroke="#222" stroke-width="0.12">2</text>
<text x="124.00" y="222.34" font-size="6.0" text-anchor="middle" fill="#222" stroke="#222" stroke-width="0.12">5</text>
<text x="147.80" y="203.91" font-size="6.2" text-anchor="middle" fill="#ee2a1a" stroke="#ee2a1a" stroke-width="0.12">66</text>
<text x="133.30" y="172.96" font-size="4.6" text-anchor="middle" fill="#333" stroke="#333" stroke-width="0.12">3</text>
<text x="159.20" y="172.96" font-size="4.6" text-anchor="middle" fill="#333" stroke="#333" stroke-width="0.12">0</text>
<text x="178.20" y="192.76" font-size="4.6" text-anchor="middle" fill="#333" stroke="#333" stroke-width="0.12">0</text>
<text x="113.50" y="199.36" font-size="4.6" text-anchor="middle" fill="#333" stroke="#333" stroke-width="0.12">0</text>
<text x="113.50" y="205.16" font-size="4.6" text-anchor="middle" fill="#333" stroke="#333" stroke-width="0.12">0</text>
<text x="113.50" y="210.76" font-size="4.6" text-anchor="middle" fill="#333" stroke="#333" stroke-width="0.12">0</text>
<text x="136.50" y="229.26" font-size="4.6" text-anchor="middle" fill="#333" stroke="#333" stroke-width="0.12">0</text>
<text x="172.40" y="227.16" font-size="4.6" text-anchor="middle" fill="#333" stroke="#333" stroke-width="0.12">0</text>
<text x="142.00" y="184.09" font-size="3.2" text-anchor="middle" fill="#444" stroke="#444" stroke-width="0.12">8</text>
<text x="150.00" y="179.09" font-size="3.2" text-anchor="middle" fill="#444" stroke="#444" stroke-width="0.12">8</text>
<text x="157.00" y="186.09" font-size="3.2" text-anchor="middle" fill="#444" stroke="#444" stroke-width="0.12">8</text>
<text x="160.00" y="198.09" font-size="3.2" text-anchor="middle" fill="#444" stroke="#444" stroke-width="0.12">8</text>
<text x="158.00" y="208.09" font-size="3.2" text-anchor="middle" fill="#444" stroke="#444" stroke-width="0.12">8</text>
<text x="156.00" y="214.09" font-size="3.2" text-anchor="middle" fill="#444" stroke="#444" stroke-width="0.12">8</text>
<text x="142.00" y="215.09" font-size="3.2" text-anchor="middle" fill="#444" stroke="#444" stroke-width="0.12">8</text>
<text x="135.00" y="202.09" font-size="3.2" text-anchor="middle" fill="#444" stroke="#444" stroke-width="0.12">8</text>
<text x="137.00" y="191.09" font-size="3.2" text-anchor="middle" fill="#444" stroke="#444" stroke-width="0.12">8</text>
<text x="145.00" y="196.09" font-size="3.2" text-anchor="middle" fill="#444" stroke="#444" stroke-width="0.12">8</text>
<text x="116.10" y="158.80" font-size="5.6" text-anchor="middle" fill="#5fab5f" stroke="#5fab5f" stroke-width="0.12">OXPHOS</text>
<text x="156.30" y="158.80" font-size="5.6" text-anchor="middle" fill="#7fb6e0" stroke="#7fb6e0" stroke-width="0.12">PD</text>
<text x="192.20" y="174.60" font-size="5.6" text-anchor="middle" fill="#e27e96" stroke="#e27e96" stroke-width="0.12">PrD</text>
<text x="212.00" y="210.30" font-size="5.6" text-anchor="middle" fill="#c9dc60" stroke="#c9dc60" stroke-width="0.12">HD</text>
<text x="111.40" y="239.30" font-size="5.6" text-anchor="middle" fill="#c8b088" stroke="#c8b088" stroke-width="0.12">ALS</text>
<text x="171.60" y="259.70" font-size="5.6" text-anchor="middle" fill="#ea9444" stroke="#ea9444" stroke-width="0.12">AD</text>
<text x="232.60" y="180.11" font-size="6.5" stroke="#1a1a1a" stroke-width="0.12">No.</text>
<text x="247.00" y="180.11" font-size="6.5" stroke="#1a1a1a" stroke-width="0.12">Gene Set Name</text>
<text x="348.00" y="180.11" font-size="6.5" text-anchor="middle" stroke="#1a1a1a" stroke-width="0.12">FDR</text>
<line x1="232.60" y1="181.70" x2="243.30" y2="181.70" stroke="#777" stroke-width="0.6"/>
<line x1="247.00" y1="181.70" x2="293.00" y2="181.70" stroke="#777" stroke-width="0.6"/>
<line x1="342.50" y1="181.70" x2="353.60" y2="181.70" stroke="#777" stroke-width="0.6"/>
<text x="242.80" y="188.31" font-size="6.5" text-anchor="end" stroke="#1a1a1a" stroke-width="0.12">1.</text>
<text x="247.00" y="188.31" font-size="6.5" fill="#ee2222" stroke="#ee2222" stroke-width="0.12">TGACCTY_ERR1_Q2</text>
<text x="334.60" y="188.31" font-size="6.5" fill="#ee2222" stroke="#ee2222" stroke-width="0.12">2.39E-14</text>
<text x="242.80" y="196.16" font-size="6.5" text-anchor="end" stroke="#1a1a1a" stroke-width="0.12">2.</text>
<text x="247.00" y="196.16" font-size="6.5" stroke="#1a1a1a" stroke-width="0.12">TGACCTTG_SF1_Q6</text>
<text x="334.60" y="196.16" font-size="6.5" stroke="#1a1a1a" stroke-width="0.12">7.63E-12</text>
<text x="242.80" y="204.01" font-size="6.5" text-anchor="end" stroke="#1a1a1a" stroke-width="0.12">3.</text>
<text x="247.00" y="204.01" font-size="6.5" stroke="#1a1a1a" stroke-width="0.12">SF1_Q6</text>
<text x="334.60" y="204.01" font-size="6.5" stroke="#1a1a1a" stroke-width="0.12">1.04E-08</text>
<text x="242.80" y="211.86" font-size="6.5" text-anchor="end" stroke="#1a1a1a" stroke-width="0.12">4.</text>
<text x="247.00" y="211.86" font-size="6.5" stroke="#1a1a1a" stroke-width="0.12">RCGCANGCGY_NRF1_Q6</text>
<text x="334.60" y="211.86" font-size="6.5" stroke="#1a1a1a" stroke-width="0.12">4.76E-06</text>
<text x="242.80" y="219.71" font-size="6.5" text-anchor="end" stroke="#1a1a1a" stroke-width="0.12">5.</text>
<text x="247.00" y="219.71" font-size="6.5" fill="#ee2222" stroke="#ee2222" stroke-width="0.12">ER_Q6_02</text>
<text x="334.60" y="219.71" font-size="6.5" fill="#ee2222" stroke="#ee2222" stroke-width="0.12">5.47E-06</text>
<text x="242.80" y="227.56" font-size="6.5" text-anchor="end" stroke="#1a1a1a" stroke-width="0.12">6.</text>
<text x="247.00" y="227.56" font-size="6.5" fill="#ee2222" stroke="#ee2222" stroke-width="0.12">ERR1_Q2</text>
<text x="334.60" y="227.56" font-size="6.5" fill="#ee2222" stroke="#ee2222" stroke-width="0.12">5.61E-06</text>
<text x="242.80" y="235.41" font-size="6.5" text-anchor="end" stroke="#1a1a1a" stroke-width="0.12">7.</text>
<text x="247.00" y="235.41" font-size="6.5" stroke="#1a1a1a" stroke-width="0.12">GCCATNTTG_YY1_Q6</text>
<text x="334.60" y="235.41" font-size="6.5" stroke="#1a1a1a" stroke-width="0.12">8.02E-06</text>
<text x="242.80" y="243.26" font-size="6.5" text-anchor="end" stroke="#1a1a1a" stroke-width="0.12">8.</text>
<text x="247.00" y="243.26" font-size="6.5" stroke="#1a1a1a" stroke-width="0.12">ELK1_02</text>
<text x="334.60" y="243.26" font-size="6.5" stroke="#1a1a1a" stroke-width="0.12">1.56E-03</text>
<text x="242.80" y="251.11" font-size="6.5" text-anchor="end" stroke="#1a1a1a" stroke-width="0.12">9.</text>
<text x="247.00" y="251.11" font-size="6.5" stroke="#1a1a1a" stroke-width="0.12">DR4_Q2</text>
<text x="334.60" y="251.11" font-size="6.5" stroke="#1a1a1a" stroke-width="0.12">1.67E-03</text>
<text x="242.80" y="258.96" font-size="6.5" text-anchor="end" stroke="#1a1a1a" stroke-width="0.12">10.</text>
<text x="247.00" y="258.96" font-size="6.5" stroke="#1a1a1a" stroke-width="0.12">WCTCNATGGY_UNKNOWN</text>
<text x="334.60" y="258.96" font-size="6.5" stroke="#1a1a1a" stroke-width="0.12">1.06E-02</text>
<text x="443.50" y="155.64" font-size="6.3" text-anchor="middle" stroke="#1a1a1a" stroke-width="0.12">E2:P4&lt;2.5 pg/ng</text>
<text x="526.50" y="155.64" font-size="6.3" text-anchor="middle" stroke="#1a1a1a" stroke-width="0.12">E2:P4≥2.5 pg/ng</text>
<line x1="382.80" y1="159.70" x2="494.60" y2="159.70" stroke="#444" stroke-width="0.9"/>
<line x1="500.50" y1="159.70" x2="552.50" y2="159.70" stroke="#444" stroke-width="0.9"/>
<text x="412.30" y="168.14" font-size="6.3" text-anchor="middle" stroke="#1a1a1a" stroke-width="0.12">Vehicle</text>
<text x="467.60" y="168.14" font-size="6.3" text-anchor="middle" stroke="#1a1a1a" stroke-width="0.12">VCD</text>
<text x="525.80" y="168.14" font-size="6.3" text-anchor="middle" stroke="#1a1a1a" stroke-width="0.12">VCD</text>
<g clip-path="url(#cp0)">
<rect x="383.10" y="170.80" width="54.90" height="55.10" fill="#6a2a0c"/>
<rect x="383.1" y="170.8" width="54.89999999999998" height="55.099999999999994" filter="url(#noiseR2)" opacity="0.95"/>
<line x1="391.51" y1="218.44" x2="426.65" y2="194.14" stroke="#f03818" stroke-width="1.1047047638373626" stroke-opacity="0.50"/>
<line x1="368.78" y1="214.36" x2="395.51" y2="193.53" stroke="#f03818" stroke-width="0.8564740737375311" stroke-opacity="0.43"/>
<line x1="360.80" y1="239.70" x2="391.67" y2="221.57" stroke="#f03818" stroke-width="1.3893160524792667" stroke-opacity="0.59"/>
<line x1="408.62" y1="223.18" x2="425.67" y2="213.28" stroke="#f03818" stroke-width="1.1170287597022872" stroke-opacity="0.36"/>
<line x1="369.25" y1="191.39" x2="382.33" y2="182.35" stroke="#f03818" stroke-width="1.0643186699939942" stroke-opacity="0.56"/>
<line x1="397.17" y1="225.29" x2="421.25" y2="207.40" stroke="#f03818" stroke-width="1.0743979289597345" stroke-opacity="0.42"/>
<line x1="437.80" y1="255.53" x2="469.88" y2="231.29" stroke="#f03818" stroke-width="0.9891663302093299" stroke-opacity="0.41"/>
<line x1="377.64" y1="176.78" x2="409.13" y2="155.53" stroke="#f03818" stroke-width="1.307950173128707" stroke-opacity="0.45"/>
<line x1="434.44" y1="242.91" x2="447.16" y2="234.93" stroke="#f03818" stroke-width="1.3461631568625088" stroke-opacity="0.47"/>
<line x1="436.33" y1="204.62" x2="450.19" y2="194.44" stroke="#f03818" stroke-width="1.2671065152059904" stroke-opacity="0.42"/>
<line x1="360.50" y1="199.10" x2="395.31" y2="172.32" stroke="#f03818" stroke-width="0.8707950076517306" stroke-opacity="0.41"/>
<line x1="361.68" y1="175.90" x2="394.76" y2="155.41" stroke="#f03818" stroke-width="1.1355770849662368" stroke-opacity="0.46"/>
<line x1="369.29" y1="233.08" x2="384.52" y2="221.84" stroke="#f03818" stroke-width="0.8699047925838234" stroke-opacity="0.46"/>
<line x1="371.17" y1="193.76" x2="405.93" y2="166.57" stroke="#f03818" stroke-width="0.9824870899225937" stroke-opacity="0.57"/>
<line x1="370.99" y1="204.35" x2="403.69" y2="180.23" stroke="#f03818" stroke-width="0.8601996513103298" stroke-opacity="0.60"/>
<line x1="371.20" y1="192.78" x2="403.12" y2="171.82" stroke="#f03818" stroke-width="0.9777948575593678" stroke-opacity="0.37"/>
<line x1="360.75" y1="220.39" x2="378.78" y2="207.28" stroke="#f03818" stroke-width="1.023022427955937" stroke-opacity="0.46"/>
<line x1="434.53" y1="211.96" x2="459.70" y2="191.82" stroke="#f03818" stroke-width="0.9096966294672111" stroke-opacity="0.39"/>
<line x1="430.23" y1="240.39" x2="449.31" y2="228.51" stroke="#f03818" stroke-width="1.2436546338899908" stroke-opacity="0.59"/>
<line x1="369.79" y1="251.66" x2="403.32" y2="227.26" stroke="#f03818" stroke-width="1.0528743343684148" stroke-opacity="0.38"/>
<line x1="356.39" y1="252.72" x2="374.07" y2="239.38" stroke="#f03818" stroke-width="0.9541888389921872" stroke-opacity="0.56"/>
<line x1="403.74" y1="195.77" x2="419.88" y2="183.52" stroke="#f03818" stroke-width="0.8412656745004662" stroke-opacity="0.41"/>
<line x1="400.59" y1="243.34" x2="428.69" y2="225.23" stroke="#f03818" stroke-width="1.350416107095545" stroke-opacity="0.40"/>
<line x1="354.51" y1="193.71" x2="378.93" y2="179.26" stroke="#f03818" stroke-width="0.9057522652236903" stroke-opacity="0.44"/>
<line x1="401.68" y1="182.00" x2="421.80" y2="165.75" stroke="#f03818" stroke-width="1.3882960528029424" stroke-opacity="0.51"/>
<line x1="411.78" y1="220.54" x2="428.36" y2="210.83" stroke="#f03818" stroke-width="0.8107365182405393" stroke-opacity="0.58"/>
<line x1="412.61" y1="252.73" x2="425.21" y2="243.46" stroke="#f03818" stroke-width="1.0893414336469944" stroke-opacity="0.53"/>
<line x1="380.17" y1="255.85" x2="394.23" y2="245.83" stroke="#f03818" stroke-width="1.2422032969197554" stroke-opacity="0.58"/>
<line x1="415.68" y1="230.68" x2="445.77" y2="206.19" stroke="#f03818" stroke-width="1.0111004579883522" stroke-opacity="0.52"/>
<line x1="429.58" y1="244.93" x2="451.29" y2="228.03" stroke="#f03818" stroke-width="1.3180836044248596" stroke-opacity="0.49"/>
<line x1="406.16" y1="203.34" x2="432.41" y2="184.20" stroke="#f03818" stroke-width="0.8481212172984262" stroke-opacity="0.51"/>
<line x1="437.43" y1="245.67" x2="468.02" y2="225.13" stroke="#f03818" stroke-width="1.241022890929087" stroke-opacity="0.50"/>
<line x1="390.50" y1="242.15" x2="404.39" y2="231.48" stroke="#f03818" stroke-width="0.817873898045279" stroke-opacity="0.50"/>
<line x1="393.93" y1="190.39" x2="423.39" y2="169.79" stroke="#f03818" stroke-width="1.1687019571369808" stroke-opacity="0.58"/>
<circle cx="397.15" cy="171.42" r="1.50" fill="#1a0a04" fill-opacity="0.7" filter="url(#blur)"/>
<circle cx="420.33" cy="181.96" r="1.37" fill="#1a0a04" fill-opacity="0.7" filter="url(#blur)"/>
<circle cx="432.82" cy="207.17" r="1.64" fill="#1a0a04" fill-opacity="0.7" filter="url(#blur)"/>
<circle cx="432.06" cy="188.82" r="1.87" fill="#1a0a04" fill-opacity="0.7" filter="url(#blur)"/>
<circle cx="394.00" cy="194.54" r="2.01" fill="#1a0a04" fill-opacity="0.7" filter="url(#blur)"/>
<circle cx="432.46" cy="218.54" r="1.09" fill="#3af03a" fill-opacity="0.83" filter="url(#blur)"/>
<circle cx="400.84" cy="179.03" r="1.15" fill="#3af03a" fill-opacity="0.93" filter="url(#blur)"/>
<circle cx="429.00" cy="209.57" r="1.38" fill="#3af03a" fill-opacity="0.71" filter="url(#blur)"/>
<circle cx="393.05" cy="195.73" r="1.04" fill="#3af03a" fill-opacity="0.69" filter="url(#blur)"/>
<circle cx="406.00" cy="205.03" r="1.15" fill="#3af03a" fill-opacity="0.73" filter="url(#blur)"/>
<circle cx="428.49" cy="223.95" r="1.13" fill="#3af03a" fill-opacity="0.63" filter="url(#blur)"/>
<circle cx="385.77" cy="218.15" r="0.92" fill="#3af03a" fill-opacity="0.88" filter="url(#blur)"/>
<circle cx="414.28" cy="188.21" r="1.30" fill="#3af03a" fill-opacity="0.61" filter="url(#blur)"/>
<circle cx="391.29" cy="195.95" r="0.91" fill="#3af03a" fill-opacity="0.93" filter="url(#blur)"/>
<circle cx="396.66" cy="179.28" r="0.92" fill="#3af03a" fill-opacity="0.85" filter="url(#blur)"/>
<circle cx="407.72" cy="205.25" r="1.23" fill="#3af03a" fill-opacity="0.92" filter="url(#blur)"/>
<circle cx="434.80" cy="208.15" r="1.00" fill="#3af03a" fill-opacity="0.79" filter="url(#blur)"/>
<circle cx="393.55" cy="172.37" r="1.14" fill="#3af03a" fill-opacity="0.89" filter="url(#blur)"/>
<circle cx="393.57" cy="186.26" r="1.07" fill="#3af03a" fill-opacity="0.88" filter="url(#blur)"/>
<circle cx="411.63" cy="204.43" r="1.28" fill="#3af03a" fill-opacity="0.76" filter="url(#blur)"/>
<circle cx="425.99" cy="219.92" r="0.94" fill="#3af03a" fill-opacity="0.97" filter="url(#blur)"/>
<circle cx="422.31" cy="178.70" r="1.13" fill="#3af03a" fill-opacity="0.85" filter="url(#blur)"/>
<circle cx="432.24" cy="191.81" r="1.18" fill="#3af03a" fill-opacity="0.95" filter="url(#blur)"/>
<circle cx="426.25" cy="221.94" r="1.13" fill="#3af03a" fill-opacity="0.86" filter="url(#blur)"/>
<circle cx="394.94" cy="210.13" r="1.31" fill="#3af03a" fill-opacity="0.86" filter="url(#blur)"/>
<circle cx="422.06" cy="183.13" r="1.35" fill="#3af03a" fill-opacity="0.99" filter="url(#blur)"/>
<circle cx="435.80" cy="200.31" r="1.30" fill="#3af03a" fill-opacity="0.73" filter="url(#blur)"/>
<circle cx="432.24" cy="217.24" r="1.07" fill="#3af03a" fill-opacity="0.63" filter="url(#blur)"/>
<circle cx="407.42" cy="201.02" r="1.28" fill="#3af03a" fill-opacity="0.79" filter="url(#blur)"/>
<circle cx="385.60" cy="214.77" r="0.93" fill="#3af03a" fill-opacity="0.92" filter="url(#blur)"/>
<circle cx="393.25" cy="189.59" r="1.29" fill="#3af03a" fill-opacity="0.66" filter="url(#blur)"/>
<circle cx="391.96" cy="199.23" r="1.26" fill="#3af03a" fill-opacity="0.94" filter="url(#blur)"/>
<circle cx="420.57" cy="222.02" r="1.15" fill="#3af03a" fill-opacity="0.98" filter="url(#blur)"/>
<circle cx="388.65" cy="183.56" r="1.16" fill="#3af03a" fill-opacity="0.72" filter="url(#blur)"/>
<circle cx="422.66" cy="205.72" r="1.16" fill="#3af03a" fill-opacity="0.94" filter="url(#blur)"/>
<circle cx="413.72" cy="188.35" r="1.09" fill="#3af03a" fill-opacity="0.94" filter="url(#blur)"/>
<circle cx="431.74" cy="182.86" r="1.33" fill="#3af03a" fill-opacity="0.99" filter="url(#blur)"/>
<circle cx="411.83" cy="202.23" r="1.00" fill="#3af03a" fill-opacity="0.81" filter="url(#blur)"/>
<circle cx="410.72" cy="203.94" r="0.91" fill="#3af03a" fill-opacity="0.99" filter="url(#blur)"/>
<circle cx="411.40" cy="193.07" r="1.30" fill="#3af03a" fill-opacity="0.83" filter="url(#blur)"/>
<circle cx="410.08" cy="208.49" r="0.93" fill="#3af03a" fill-opacity="0.82" filter="url(#blur)"/>
<circle cx="405.99" cy="222.61" r="1.36" fill="#3af03a" fill-opacity="0.71" filter="url(#blur)"/>
<circle cx="409.13" cy="178.54" r="1.12" fill="#3af03a" fill-opacity="0.93" filter="url(#blur)"/>
<circle cx="431.74" cy="197.10" r="1.06" fill="#3af03a" fill-opacity="0.68" filter="url(#blur)"/>
<circle cx="416.79" cy="220.93" r="0.96" fill="#3af03a" fill-opacity="0.91" filter="url(#blur)"/>
<circle cx="385.31" cy="182.11" r="1.01" fill="#3af03a" fill-opacity="0.87" filter="url(#blur)"/>
<circle cx="401.14" cy="190.67" r="1.21" fill="#3af03a" fill-opacity="0.64" filter="url(#blur)"/>
<circle cx="422.76" cy="178.32" r="1.16" fill="#3af03a" fill-opacity="0.70" filter="url(#blur)"/>
<circle cx="394.56" cy="199.96" r="1.12" fill="#3af03a" fill-opacity="0.75" filter="url(#blur)"/>
<circle cx="405.97" cy="199.91" r="0.98" fill="#3af03a" fill-opacity="0.68" filter="url(#blur)"/>
</g>
<g clip-path="url(#cp1)">
<rect x="440.90" y="170.80" width="54.60" height="55.10" fill="#6a2a0c"/>
<rect x="440.9" y="170.8" width="54.60000000000002" height="55.099999999999994" filter="url(#noiseR1)" opacity="0.95"/>
<line x1="441.48" y1="211.69" x2="464.16" y2="196.12" stroke="#f03818" stroke-width="1.0457094379699376" stroke-opacity="0.51"/>
<line x1="432.80" y1="224.84" x2="445.63" y2="216.50" stroke="#f03818" stroke-width="1.0010380104186314" stroke-opacity="0.39"/>
<line x1="473.79" y1="197.19" x2="503.61" y2="172.56" stroke="#f03818" stroke-width="0.9521036029772756" stroke-opacity="0.57"/>
<line x1="479.23" y1="227.60" x2="492.25" y2="218.62" stroke="#f03818" stroke-width="1.1760492520192658" stroke-opacity="0.42"/>
<line x1="429.88" y1="197.16" x2="447.83" y2="183.20" stroke="#f03818" stroke-width="1.0086683265609717" stroke-opacity="0.46"/>
<line x1="465.30" y1="251.51" x2="485.81" y2="239.45" stroke="#f03818" stroke-width="1.3843306247157086" stroke-opacity="0.56"/>
<line x1="477.76" y1="215.34" x2="496.55" y2="203.81" stroke="#f03818" stroke-width="0.9825428500014897" stroke-opacity="0.47"/>
<line x1="416.46" y1="230.31" x2="448.32" y2="211.82" stroke="#f03818" stroke-width="1.3054570266498275" stroke-opacity="0.47"/>
<line x1="488.63" y1="211.23" x2="520.65" y2="189.19" stroke="#f03818" stroke-width="1.1678163874662832" stroke-opacity="0.47"/>
<line x1="412.83" y1="183.05" x2="431.02" y2="170.75" stroke="#f03818" stroke-width="1.0215493516610266" stroke-opacity="0.48"/>
<line x1="466.68" y1="204.84" x2="486.79" y2="190.70" stroke="#f03818" stroke-width="1.3716596088431958" stroke-opacity="0.55"/>
<line x1="466.35" y1="240.33" x2="485.06" y2="229.08" stroke="#f03818" stroke-width="0.8558767104524794" stroke-opacity="0.38"/>
<line x1="411.67" y1="224.04" x2="448.10" y2="202.03" stroke="#f03818" stroke-width="1.212080176390206" stroke-opacity="0.59"/>
<line x1="475.65" y1="183.84" x2="504.44" y2="165.46" stroke="#f03818" stroke-width="0.9068880613838647" stroke-opacity="0.35"/>
<line x1="455.35" y1="249.01" x2="470.80" y2="239.54" stroke="#f03818" stroke-width="1.032999109061027" stroke-opacity="0.36"/>
<line x1="450.19" y1="232.94" x2="475.06" y2="218.36" stroke="#f03818" stroke-width="0.8181967036743437" stroke-opacity="0.40"/>
<line x1="467.34" y1="249.51" x2="493.12" y2="234.00" stroke="#f03818" stroke-width="0.9295545940713129" stroke-opacity="0.45"/>
<line x1="420.06" y1="180.66" x2="442.01" y2="163.25" stroke="#f03818" stroke-width="0.9425233697558099" stroke-opacity="0.57"/>
<line x1="485.02" y1="207.64" x2="503.49" y2="196.16" stroke="#f03818" stroke-width="1.2004589713934437" stroke-opacity="0.56"/>
<line x1="483.70" y1="188.56" x2="507.72" y2="174.57" stroke="#f03818" stroke-width="0.9827948983272795" stroke-opacity="0.42"/>
<line x1="421.37" y1="177.28" x2="458.92" y2="152.85" stroke="#f03818" stroke-width="1.0993905629585845" stroke-opacity="0.48"/>
<line x1="450.85" y1="220.96" x2="475.51" y2="203.76" stroke="#f03818" stroke-width="0.8477205653337784" stroke-opacity="0.51"/>
<line x1="467.48" y1="232.41" x2="487.55" y2="218.55" stroke="#f03818" stroke-width="1.2837847895763286" stroke-opacity="0.53"/>
<line x1="415.34" y1="199.29" x2="431.40" y2="187.14" stroke="#f03818" stroke-width="1.04143521912307" stroke-opacity="0.45"/>
<line x1="429.76" y1="209.45" x2="459.22" y2="187.80" stroke="#f03818" stroke-width="0.932986861466572" stroke-opacity="0.45"/>
<line x1="463.62" y1="175.52" x2="499.96" y2="154.34" stroke="#f03818" stroke-width="1.1750303539231102" stroke-opacity="0.39"/>
<line x1="491.80" y1="229.67" x2="509.55" y2="217.23" stroke="#f03818" stroke-width="1.307269260114575" stroke-opacity="0.56"/>
<line x1="466.97" y1="225.14" x2="495.87" y2="201.60" stroke="#f03818" stroke-width="1.108254158623099" stroke-opacity="0.50"/>
<line x1="478.43" y1="214.26" x2="495.92" y2="201.65" stroke="#f03818" stroke-width="1.009598877147046" stroke-opacity="0.53"/>
<line x1="474.19" y1="247.94" x2="489.97" y2="238.75" stroke="#f03818" stroke-width="1.3587665589473388" stroke-opacity="0.53"/>
<line x1="495.28" y1="240.06" x2="532.44" y2="217.24" stroke="#f03818" stroke-width="0.9115070816712063" stroke-opacity="0.50"/>
<line x1="475.02" y1="180.80" x2="511.75" y2="157.59" stroke="#f03818" stroke-width="0.9221383775795511" stroke-opacity="0.46"/>
<line x1="426.30" y1="178.45" x2="441.29" y2="169.68" stroke="#f03818" stroke-width="0.8903539530301955" stroke-opacity="0.52"/>
<line x1="476.88" y1="236.56" x2="498.71" y2="219.79" stroke="#f03818" stroke-width="0.8691128135418105" stroke-opacity="0.57"/>
<circle cx="463.29" cy="177.57" r="1.58" fill="#1a0a04" fill-opacity="0.7" filter="url(#blur)"/>
<circle cx="451.47" cy="211.74" r="1.57" fill="#1a0a04" fill-opacity="0.7" filter="url(#blur)"/>
<circle cx="441.83" cy="181.41" r="1.28" fill="#1a0a04" fill-opacity="0.7" filter="url(#blur)"/>
<circle cx="492.85" cy="193.45" r="1.98" fill="#1a0a04" fill-opacity="0.7" filter="url(#blur)"/>
<circle cx="473.31" cy="193.52" r="1.93" fill="#1a0a04" fill-opacity="0.7" filter="url(#blur)"/>
<circle cx="470.98" cy="174.11" r="1.40" fill="#3af03a" fill-opacity="0.74" filter="url(#blur)"/>
<circle cx="476.18" cy="193.94" r="1.38" fill="#3af03a" fill-opacity="0.67" filter="url(#blur)"/>
<circle cx="444.86" cy="174.06" r="1.10" fill="#3af03a" fill-opacity="0.94" filter="url(#blur)"/>
<circle cx="465.44" cy="221.25" r="0.97" fill="#3af03a" fill-opacity="0.99" filter="url(#blur)"/>
<circle cx="450.72" cy="218.75" r="1.00" fill="#3af03a" fill-opacity="0.83" filter="url(#blur)"/>
<circle cx="474.20" cy="223.37" r="1.11" fill="#3af03a" fill-opacity="0.94" filter="url(#blur)"/>
<circle cx="444.60" cy="219.55" r="1.16" fill="#3af03a" fill-opacity="0.81" filter="url(#blur)"/>
<circle cx="492.87" cy="188.47" r="1.21" fill="#3af03a" fill-opacity="0.83" filter="url(#blur)"/>
<circle cx="457.82" cy="179.59" r="1.11" fill="#3af03a" fill-opacity="0.71" filter="url(#blur)"/>
<circle cx="473.98" cy="193.49" r="0.94" fill="#3af03a" fill-opacity="0.88" filter="url(#blur)"/>
<circle cx="490.49" cy="204.56" r="1.05" fill="#3af03a" fill-opacity="0.72" filter="url(#blur)"/>
<circle cx="492.28" cy="195.39" r="1.26" fill="#3af03a" fill-opacity="0.63" filter="url(#blur)"/>
<circle cx="484.71" cy="219.24" r="1.03" fill="#3af03a" fill-opacity="0.72" filter="url(#blur)"/>
<circle cx="476.10" cy="222.40" r="1.29" fill="#3af03a" fill-opacity="0.61" filter="url(#blur)"/>
<circle cx="447.95" cy="218.99" r="1.10" fill="#3af03a" fill-opacity="0.98" filter="url(#blur)"/>
<circle cx="465.55" cy="216.15" r="1.01" fill="#3af03a" fill-opacity="0.99" filter="url(#blur)"/>
<circle cx="466.86" cy="172.02" r="1.00" fill="#3af03a" fill-opacity="0.63" filter="url(#blur)"/>
<circle cx="463.93" cy="222.63" r="1.39" fill="#3af03a" fill-opacity="0.97" filter="url(#blur)"/>
<circle cx="463.40" cy="212.65" r="1.27" fill="#3af03a" fill-opacity="0.93" filter="url(#blur)"/>
<circle cx="492.87" cy="216.02" r="1.28" fill="#3af03a" fill-opacity="0.73" filter="url(#blur)"/>
<circle cx="450.83" cy="194.00" r="1.05" fill="#3af03a" fill-opacity="0.90" filter="url(#blur)"/>
<circle cx="450.17" cy="182.56" r="1.27" fill="#3af03a" fill-opacity="0.62" filter="url(#blur)"/>
<circle cx="446.30" cy="171.83" r="0.91" fill="#3af03a" fill-opacity="0.64" filter="url(#blur)"/>
<circle cx="480.82" cy="186.08" r="0.95" fill="#3af03a" fill-opacity="0.80" filter="url(#blur)"/>
<circle cx="460.70" cy="171.99" r="0.93" fill="#3af03a" fill-opacity="0.70" filter="url(#blur)"/>
<circle cx="463.97" cy="178.07" r="1.11" fill="#3af03a" fill-opacity="0.79" filter="url(#blur)"/>
<circle cx="490.73" cy="204.14" r="1.05" fill="#3af03a" fill-opacity="0.69" filter="url(#blur)"/>
<circle cx="451.49" cy="192.36" r="1.38" fill="#3af03a" fill-opacity="0.99" filter="url(#blur)"/>
<circle cx="449.70" cy="206.05" r="1.28" fill="#3af03a" fill-opacity="0.97" filter="url(#blur)"/>
<circle cx="481.80" cy="205.43" r="0.95" fill="#3af03a" fill-opacity="0.71" filter="url(#blur)"/>
<circle cx="491.33" cy="220.15" r="1.34" fill="#3af03a" fill-opacity="0.73" filter="url(#blur)"/>
<circle cx="483.03" cy="213.64" r="1.10" fill="#3af03a" fill-opacity="0.73" filter="url(#blur)"/>
<circle cx="466.08" cy="200.37" r="0.91" fill="#3af03a" fill-opacity="0.61" filter="url(#blur)"/>
<circle cx="494.46" cy="193.40" r="1.11" fill="#3af03a" fill-opacity="0.84" filter="url(#blur)"/>
<circle cx="469.71" cy="208.85" r="1.17" fill="#3af03a" fill-opacity="0.61" filter="url(#blur)"/>
<circle cx="444.17" cy="185.77" r="1.08" fill="#3af03a" fill-opacity="0.99" filter="url(#blur)"/>
<circle cx="468.05" cy="178.74" r="1.32" fill="#3af03a" fill-opacity="0.73" filter="url(#blur)"/>
<circle cx="464.04" cy="205.38" r="1.26" fill="#3af03a" fill-opacity="0.70" filter="url(#blur)"/>
<circle cx="463.68" cy="172.32" r="1.37" fill="#3af03a" fill-opacity="0.95" filter="url(#blur)"/>
<circle cx="484.99" cy="182.67" r="1.21" fill="#3af03a" fill-opacity="0.77" filter="url(#blur)"/>
<circle cx="449.87" cy="183.11" r="1.34" fill="#3af03a" fill-opacity="0.84" filter="url(#blur)"/>
<circle cx="473.30" cy="179.03" r="1.19" fill="#3af03a" fill-opacity="0.96" filter="url(#blur)"/>
<circle cx="452.49" cy="184.27" r="1.37" fill="#3af03a" fill-opacity="0.71" filter="url(#blur)"/>
<circle cx="466.11" cy="220.53" r="1.27" fill="#3af03a" fill-opacity="0.73" filter="url(#blur)"/>
<circle cx="459.46" cy="184.91" r="0.92" fill="#3af03a" fill-opacity="0.81" filter="url(#blur)"/>
</g>
<g clip-path="url(#cp2)">
<rect x="498.40" y="170.80" width="55.10" height="55.10" fill="#4a2c0c"/>
<rect x="498.4" y="170.8" width="55.10000000000002" height="55.099999999999994" filter="url(#noiseY)" opacity="0.95"/>
<circle cx="507.49" cy="208.81" r="1.28" fill="#1c1005" fill-opacity="0.7" filter="url(#blur)"/>
<circle cx="524.80" cy="182.70" r="1.38" fill="#1c1005" fill-opacity="0.7" filter="url(#blur)"/>
<circle cx="542.91" cy="199.04" r="1.20" fill="#1c1005" fill-opacity="0.7" filter="url(#blur)"/>
<circle cx="511.41" cy="170.98" r="1.12" fill="#1c1005" fill-opacity="0.7" filter="url(#blur)"/>
<circle cx="530.65" cy="174.62" r="1.38" fill="#1c1005" fill-opacity="0.7" filter="url(#blur)"/>
<circle cx="511.20" cy="183.62" r="0.93" fill="#1c1005" fill-opacity="0.7" filter="url(#blur)"/>
<circle cx="553.37" cy="211.50" r="1.43" fill="#1c1005" fill-opacity="0.7" filter="url(#blur)"/>
<circle cx="532.34" cy="172.68" r="1.10" fill="#1c1005" fill-opacity="0.7" filter="url(#blur)"/>
<circle cx="525.82" cy="177.18" r="1.47" fill="#1c1005" fill-opacity="0.7" filter="url(#blur)"/>
<circle cx="518.70" cy="179.33" r="1.39" fill="#1c1005" fill-opacity="0.7" filter="url(#blur)"/>
<circle cx="505.28" cy="221.93" r="1.17" fill="#1c1005" fill-opacity="0.7" filter="url(#blur)"/>
<circle cx="528.82" cy="189.69" r="1.19" fill="#1c1005" fill-opacity="0.7" filter="url(#blur)"/>
<circle cx="508.70" cy="172.85" r="1.42" fill="#1c1005" fill-opacity="0.7" filter="url(#blur)"/>
<circle cx="511.34" cy="213.79" r="1.03" fill="#1c1005" fill-opacity="0.7" filter="url(#blur)"/>
<circle cx="551.78" cy="220.06" r="1.35" fill="#1c1005" fill-opacity="0.7" filter="url(#blur)"/>
<circle cx="540.43" cy="202.80" r="1.34" fill="#1c1005" fill-opacity="0.7" filter="url(#blur)"/>
<circle cx="505.15" cy="197.05" r="1.40" fill="#1c1005" fill-opacity="0.7" filter="url(#blur)"/>
<circle cx="509.48" cy="221.67" r="1.43" fill="#1c1005" fill-opacity="0.7" filter="url(#blur)"/>
<circle cx="520.97" cy="190.92" r="1.17" fill="#1c1005" fill-opacity="0.7" filter="url(#blur)"/>
<circle cx="519.66" cy="225.62" r="1.13" fill="#1c1005" fill-opacity="0.7" filter="url(#blur)"/>
<circle cx="499.88" cy="175.94" r="1.33" fill="#1c1005" fill-opacity="0.7" filter="url(#blur)"/>
<circle cx="553.10" cy="198.13" r="1.19" fill="#1c1005" fill-opacity="0.7" filter="url(#blur)"/>
<circle cx="528.73" cy="212.02" r="1.03" fill="#1c1005" fill-opacity="0.7" filter="url(#blur)"/>
<circle cx="531.95" cy="201.46" r="1.27" fill="#1c1005" fill-opacity="0.7" filter="url(#blur)"/>
<circle cx="508.36" cy="180.17" r="1.11" fill="#1c1005" fill-opacity="0.7" filter="url(#blur)"/>
<circle cx="549.48" cy="189.90" r="1.26" fill="#1c1005" fill-opacity="0.7" filter="url(#blur)"/>
<circle cx="515.29" cy="176.49" r="0.94" fill="#1c1005" fill-opacity="0.7" filter="url(#blur)"/>
<circle cx="543.23" cy="213.61" r="1.12" fill="#1c1005" fill-opacity="0.7" filter="url(#blur)"/>
<circle cx="536.05" cy="208.04" r="1.44" fill="#1c1005" fill-opacity="0.7" filter="url(#blur)"/>
<circle cx="551.20" cy="193.23" r="1.49" fill="#1c1005" fill-opacity="0.7" filter="url(#blur)"/>
<circle cx="551.37" cy="203.34" r="2.08" fill="#3aa52a" fill-opacity="0.65" filter="url(#blur)"/>
<circle cx="525.45" cy="191.49" r="1.45" fill="#3aa52a" fill-opacity="0.65" filter="url(#blur)"/>
<circle cx="546.68" cy="179.74" r="1.27" fill="#3aa52a" fill-opacity="0.65" filter="url(#blur)"/>
<circle cx="542.77" cy="213.44" r="1.68" fill="#3aa52a" fill-opacity="0.65" filter="url(#blur)"/>
<circle cx="544.52" cy="173.67" r="1.46" fill="#3aa52a" fill-opacity="0.65" filter="url(#blur)"/>
<circle cx="514.37" cy="193.92" r="1.37" fill="#3aa52a" fill-opacity="0.65" filter="url(#blur)"/>
<circle cx="502.23" cy="189.43" r="2.10" fill="#3aa52a" fill-opacity="0.65" filter="url(#blur)"/>
<circle cx="552.59" cy="211.90" r="1.68" fill="#3aa52a" fill-opacity="0.65" filter="url(#blur)"/>
<circle cx="512.30" cy="223.63" r="1.73" fill="#3aa52a" fill-opacity="0.65" filter="url(#blur)"/>
<circle cx="538.55" cy="172.36" r="1.41" fill="#3aa52a" fill-opacity="0.65" filter="url(#blur)"/>
<circle cx="544.59" cy="214.62" r="2.08" fill="#3aa52a" fill-opacity="0.65" filter="url(#blur)"/>
<circle cx="531.53" cy="194.28" r="1.78" fill="#3aa52a" fill-opacity="0.65" filter="url(#blur)"/>
<circle cx="545.20" cy="187.77" r="1.73" fill="#3aa52a" fill-opacity="0.65" filter="url(#blur)"/>
<circle cx="513.61" cy="213.13" r="1.21" fill="#3aa52a" fill-opacity="0.65" filter="url(#blur)"/>
</g>
<g clip-path="url(#cp3)">
<rect x="383.10" y="228.20" width="54.90" height="54.70" fill="#6a2a0c"/>
<rect x="383.1" y="228.2" width="54.89999999999998" height="54.69999999999999" filter="url(#noiseR2)" opacity="0.95"/>
<line x1="416.55" y1="245.37" x2="433.66" y2="232.94" stroke="#f03818" stroke-width="0.8340543722862265" stroke-opacity="0.54"/>
<line x1="418.00" y1="231.74" x2="447.07" y2="211.36" stroke="#f03818" stroke-width="1.1812662233245286" stroke-opacity="0.59"/>
<line x1="436.88" y1="262.85" x2="468.71" y2="238.10" stroke="#f03818" stroke-width="1.3830530070778746" stroke-opacity="0.36"/>
<line x1="432.73" y1="247.03" x2="448.01" y2="235.94" stroke="#f03818" stroke-width="1.3033154119488826" stroke-opacity="0.59"/>
<line x1="384.03" y1="298.31" x2="396.28" y2="288.14" stroke="#f03818" stroke-width="0.9760759123176553" stroke-opacity="0.49"/>
<line x1="363.66" y1="231.91" x2="375.98" y2="222.96" stroke="#f03818" stroke-width="1.136673952550957" stroke-opacity="0.55"/>
<line x1="425.36" y1="264.07" x2="459.64" y2="242.64" stroke="#f03818" stroke-width="1.328533720751023" stroke-opacity="0.41"/>
<line x1="432.88" y1="260.75" x2="455.64" y2="244.71" stroke="#f03818" stroke-width="0.8353500981603242" stroke-opacity="0.37"/>
<line x1="399.37" y1="288.68" x2="412.90" y2="279.53" stroke="#f03818" stroke-width="1.0219808411426918" stroke-opacity="0.55"/>
<line x1="437.19" y1="235.87" x2="464.01" y2="219.73" stroke="#f03818" stroke-width="1.2702441113219805" stroke-opacity="0.59"/>
<line x1="413.08" y1="277.46" x2="426.98" y2="269.11" stroke="#f03818" stroke-width="0.9438051423130371" stroke-opacity="0.37"/>
<line x1="364.46" y1="309.45" x2="384.21" y2="293.42" stroke="#f03818" stroke-width="1.2565010112749238" stroke-opacity="0.54"/>
<line x1="430.60" y1="287.31" x2="451.51" y2="272.84" stroke="#f03818" stroke-width="1.0340428205326186" stroke-opacity="0.36"/>
<line x1="356.84" y1="276.28" x2="380.44" y2="256.67" stroke="#f03818" stroke-width="1.1723651093759333" stroke-opacity="0.55"/>
<line x1="393.56" y1="277.50" x2="427.62" y2="257.56" stroke="#f03818" stroke-width="0.8114899343612714" stroke-opacity="0.46"/>
<line x1="377.91" y1="264.46" x2="392.31" y2="255.57" stroke="#f03818" stroke-width="0.8590692836049334" stroke-opacity="0.50"/>
<line x1="355.90" y1="229.94" x2="385.19" y2="210.01" stroke="#f03818" stroke-width="0.8136575347436871" stroke-opacity="0.59"/>
<line x1="394.75" y1="307.57" x2="422.81" y2="287.58" stroke="#f03818" stroke-width="1.0371211306555792" stroke-opacity="0.38"/>
<line x1="435.10" y1="265.44" x2="455.73" y2="252.82" stroke="#f03818" stroke-width="1.1574706219144137" stroke-opacity="0.60"/>
<line x1="387.22" y1="296.56" x2="416.65" y2="275.83" stroke="#f03818" stroke-width="1.1920114237041322" stroke-opacity="0.53"/>
<line x1="431.92" y1="231.94" x2="448.22" y2="221.58" stroke="#f03818" stroke-width="0.8403702953477363" stroke-opacity="0.42"/>
<line x1="390.06" y1="246.70" x2="416.01" y2="231.67" stroke="#f03818" stroke-width="1.348362840600621" stroke-opacity="0.53"/>
<line x1="361.90" y1="246.25" x2="394.09" y2="226.57" stroke="#f03818" stroke-width="1.240518968407759" stroke-opacity="0.36"/>
<line x1="405.91" y1="285.84" x2="430.54" y2="266.63" stroke="#f03818" stroke-width="1.3637630992695473" stroke-opacity="0.60"/>
<line x1="357.61" y1="269.24" x2="372.29" y2="258.01" stroke="#f03818" stroke-width="0.9235317662758782" stroke-opacity="0.39"/>
<line x1="358.13" y1="229.52" x2="377.52" y2="217.43" stroke="#f03818" stroke-width="1.114252679516242" stroke-opacity="0.55"/>
<line x1="414.32" y1="255.67" x2="432.24" y2="241.77" stroke="#f03818" stroke-width="0.9651692550007958" stroke-opacity="0.51"/>
<line x1="435.50" y1="277.36" x2="460.65" y2="262.55" stroke="#f03818" stroke-width="0.957059978266874" stroke-opacity="0.59"/>
<line x1="357.93" y1="232.78" x2="385.65" y2="214.73" stroke="#f03818" stroke-width="1.1592650098946575" stroke-opacity="0.41"/>
<line x1="371.76" y1="249.54" x2="400.88" y2="227.65" stroke="#f03818" stroke-width="0.8168800291777193" stroke-opacity="0.53"/>
<line x1="417.84" y1="267.84" x2="433.27" y2="258.88" stroke="#f03818" stroke-width="1.3873721264992513" stroke-opacity="0.37"/>
<line x1="353.19" y1="233.31" x2="385.56" y2="206.16" stroke="#f03818" stroke-width="1.2563888501491773" stroke-opacity="0.58"/>
<line x1="421.79" y1="234.31" x2="443.01" y2="218.66" stroke="#f03818" stroke-width="1.213005328552786" stroke-opacity="0.54"/>
<line x1="411.89" y1="238.22" x2="432.64" y2="221.14" stroke="#f03818" stroke-width="1.1865765789208191" stroke-opacity="0.40"/>
<circle cx="406.02" cy="280.45" r="1.46" fill="#1a0a04" fill-opacity="0.7" filter="url(#blur)"/>
<circle cx="388.62" cy="272.58" r="1.85" fill="#1a0a04" fill-opacity="0.7" filter="url(#blur)"/>
<circle cx="403.36" cy="253.75" r="1.47" fill="#1a0a04" fill-opacity="0.7" filter="url(#blur)"/>
<circle cx="421.03" cy="244.66" r="1.75" fill="#1a0a04" fill-opacity="0.7" filter="url(#blur)"/>
<circle cx="433.75" cy="264.16" r="1.55" fill="#1a0a04" fill-opacity="0.7" filter="url(#blur)"/>
<circle cx="391.31" cy="255.41" r="0.92" fill="#3af03a" fill-opacity="0.91" filter="url(#blur)"/>
<circle cx="408.82" cy="252.76" r="1.05" fill="#3af03a" fill-opacity="0.88" filter="url(#blur)"/>
<circle cx="407.64" cy="252.50" r="1.00" fill="#3af03a" fill-opacity="0.63" filter="url(#blur)"/>
<circle cx="388.15" cy="241.47" r="1.27" fill="#3af03a" fill-opacity="0.87" filter="url(#blur)"/>
<circle cx="394.41" cy="230.90" r="1.03" fill="#3af03a" fill-opacity="0.87" filter="url(#blur)"/>
<circle cx="397.11" cy="253.43" r="0.96" fill="#3af03a" fill-opacity="0.92" filter="url(#blur)"/>
<circle cx="414.58" cy="252.41" r="1.39" fill="#3af03a" fill-opacity="0.80" filter="url(#blur)"/>
<circle cx="398.67" cy="265.23" r="1.38" fill="#3af03a" fill-opacity="0.85" filter="url(#blur)"/>
<circle cx="432.90" cy="258.28" r="1.05" fill="#3af03a" fill-opacity="0.86" filter="url(#blur)"/>
<circle cx="387.64" cy="281.14" r="1.15" fill="#3af03a" fill-opacity="0.61" filter="url(#blur)"/>
<circle cx="400.11" cy="262.05" r="1.33" fill="#3af03a" fill-opacity="0.97" filter="url(#blur)"/>
<circle cx="403.43" cy="276.26" r="1.15" fill="#3af03a" fill-opacity="0.83" filter="url(#blur)"/>
<circle cx="430.14" cy="266.97" r="1.18" fill="#3af03a" fill-opacity="0.61" filter="url(#blur)"/>
<circle cx="401.99" cy="268.42" r="1.11" fill="#3af03a" fill-opacity="0.61" filter="url(#blur)"/>
<circle cx="429.50" cy="248.32" r="1.27" fill="#3af03a" fill-opacity="0.74" filter="url(#blur)"/>
<circle cx="403.51" cy="260.33" r="1.16" fill="#3af03a" fill-opacity="0.97" filter="url(#blur)"/>
<circle cx="415.12" cy="247.85" r="1.18" fill="#3af03a" fill-opacity="0.90" filter="url(#blur)"/>
<circle cx="423.08" cy="229.98" r="1.16" fill="#3af03a" fill-opacity="0.96" filter="url(#blur)"/>
<circle cx="409.00" cy="237.62" r="0.97" fill="#3af03a" fill-opacity="0.81" filter="url(#blur)"/>
<circle cx="426.99" cy="269.54" r="1.10" fill="#3af03a" fill-opacity="0.62" filter="url(#blur)"/>
<circle cx="400.44" cy="260.38" r="1.15" fill="#3af03a" fill-opacity="0.76" filter="url(#blur)"/>
<circle cx="394.90" cy="253.01" r="0.98" fill="#3af03a" fill-opacity="0.85" filter="url(#blur)"/>
<circle cx="391.97" cy="237.16" r="1.37" fill="#3af03a" fill-opacity="0.61" filter="url(#blur)"/>
<circle cx="402.85" cy="255.34" r="0.95" fill="#3af03a" fill-opacity="0.74" filter="url(#blur)"/>
<circle cx="430.97" cy="269.71" r="1.07" fill="#3af03a" fill-opacity="0.76" filter="url(#blur)"/>
<circle cx="398.68" cy="273.19" r="1.06" fill="#3af03a" fill-opacity="0.90" filter="url(#blur)"/>
<circle cx="435.06" cy="244.29" r="1.22" fill="#3af03a" fill-opacity="0.93" filter="url(#blur)"/>
<circle cx="412.50" cy="278.13" r="1.04" fill="#3af03a" fill-opacity="0.79" filter="url(#blur)"/>
<circle cx="402.92" cy="244.42" r="1.38" fill="#3af03a" fill-opacity="0.62" filter="url(#blur)"/>
<circle cx="403.02" cy="281.08" r="1.03" fill="#3af03a" fill-opacity="0.87" filter="url(#blur)"/>
<circle cx="430.30" cy="241.62" r="1.01" fill="#3af03a" fill-opacity="0.87" filter="url(#blur)"/>
<circle cx="387.57" cy="261.28" r="1.34" fill="#3af03a" fill-opacity="0.96" filter="url(#blur)"/>
<circle cx="432.05" cy="254.60" r="1.31" fill="#3af03a" fill-opacity="0.98" filter="url(#blur)"/>
<circle cx="421.21" cy="242.61" r="1.28" fill="#3af03a" fill-opacity="0.81" filter="url(#blur)"/>
<circle cx="406.70" cy="237.85" r="1.31" fill="#3af03a" fill-opacity="0.87" filter="url(#blur)"/>
<circle cx="386.06" cy="239.84" r="0.92" fill="#3af03a" fill-opacity="0.82" filter="url(#blur)"/>
<circle cx="422.14" cy="247.22" r="0.99" fill="#3af03a" fill-opacity="0.76" filter="url(#blur)"/>
<circle cx="416.49" cy="231.76" r="0.94" fill="#3af03a" fill-opacity="0.86" filter="url(#blur)"/>
<circle cx="432.12" cy="259.39" r="0.94" fill="#3af03a" fill-opacity="0.80" filter="url(#blur)"/>
<circle cx="398.16" cy="257.76" r="1.03" fill="#3af03a" fill-opacity="0.70" filter="url(#blur)"/>
<circle cx="434.94" cy="248.22" r="1.12" fill="#3af03a" fill-opacity="1.00" filter="url(#blur)"/>
<circle cx="407.61" cy="246.87" r="1.03" fill="#3af03a" fill-opacity="0.66" filter="url(#blur)"/>
<circle cx="428.30" cy="278.84" r="1.20" fill="#3af03a" fill-opacity="0.85" filter="url(#blur)"/>
<circle cx="389.87" cy="232.70" r="1.08" fill="#3af03a" fill-opacity="0.62" filter="url(#blur)"/>
<circle cx="421.73" cy="266.64" r="1.32" fill="#3af03a" fill-opacity="0.75" filter="url(#blur)"/>
</g>
<g clip-path="url(#cp4)">
<rect x="440.90" y="228.20" width="54.60" height="54.70" fill="#6a2a0c"/>
<rect x="440.9" y="228.2" width="54.60000000000002" height="54.69999999999999" filter="url(#noiseR1)" opacity="0.95"/>
<line x1="411.94" y1="237.72" x2="433.38" y2="221.66" stroke="#f03818" stroke-width="0.8832145599287785" stroke-opacity="0.38"/>
<line x1="430.51" y1="292.37" x2="445.94" y2="280.57" stroke="#f03818" stroke-width="1.197299993309158" stroke-opacity="0.38"/>
<line x1="456.22" y1="266.12" x2="477.20" y2="248.54" stroke="#f03818" stroke-width="0.8558668335593411" stroke-opacity="0.36"/>
<line x1="490.41" y1="262.33" x2="507.92" y2="250.82" stroke="#f03818" stroke-width="1.0189368334272058" stroke-opacity="0.59"/>
<line x1="428.69" y1="246.57" x2="455.20" y2="227.69" stroke="#f03818" stroke-width="1.3722458379785571" stroke-opacity="0.56"/>
<line x1="440.98" y1="245.47" x2="471.74" y2="219.75" stroke="#f03818" stroke-width="0.8182218287264383" stroke-opacity="0.53"/>
<line x1="484.36" y1="283.35" x2="501.35" y2="270.09" stroke="#f03818" stroke-width="1.2378909544682732" stroke-opacity="0.40"/>
<line x1="465.12" y1="246.76" x2="478.69" y2="237.83" stroke="#f03818" stroke-width="1.0006056647236572" stroke-opacity="0.45"/>
<line x1="465.62" y1="299.02" x2="499.31" y2="270.98" stroke="#f03818" stroke-width="1.3961036313860418" stroke-opacity="0.55"/>
<line x1="436.81" y1="243.13" x2="464.27" y2="223.58" stroke="#f03818" stroke-width="1.2047090111452956" stroke-opacity="0.37"/>
<line x1="427.21" y1="306.21" x2="453.61" y2="286.35" stroke="#f03818" stroke-width="0.8573871210347419" stroke-opacity="0.45"/>
<line x1="487.89" y1="283.20" x2="525.86" y2="259.51" stroke="#f03818" stroke-width="1.0728800246235772" stroke-opacity="0.55"/>
<line x1="448.52" y1="295.02" x2="475.77" y2="278.53" stroke="#f03818" stroke-width="0.8593195686032292" stroke-opacity="0.60"/>
<line x1="420.99" y1="244.64" x2="440.97" y2="229.51" stroke="#f03818" stroke-width="1.3124533779257739" stroke-opacity="0.47"/>
<line x1="453.04" y1="294.98" x2="472.46" y2="282.02" stroke="#f03818" stroke-width="1.1676327965717992" stroke-opacity="0.51"/>
<line x1="414.12" y1="237.69" x2="429.35" y2="226.10" stroke="#f03818" stroke-width="1.2157522298291" stroke-opacity="0.59"/>
<line x1="475.83" y1="249.78" x2="504.98" y2="225.45" stroke="#f03818" stroke-width="1.0092167343382812" stroke-opacity="0.35"/>
<line x1="442.64" y1="252.13" x2="460.13" y2="241.85" stroke="#f03818" stroke-width="0.8749116505704817" stroke-opacity="0.57"/>
<line x1="415.13" y1="280.20" x2="433.12" y2="268.99" stroke="#f03818" stroke-width="1.2924360328905529" stroke-opacity="0.42"/>
<line x1="426.45" y1="266.73" x2="455.73" y2="246.04" stroke="#f03818" stroke-width="1.315833231077084" stroke-opacity="0.45"/>
<line x1="455.23" y1="288.94" x2="478.22" y2="271.51" stroke="#f03818" stroke-width="1.0801381900576772" stroke-opacity="0.38"/>
<line x1="421.35" y1="294.53" x2="450.19" y2="270.81" stroke="#f03818" stroke-width="1.2140767606168146" stroke-opacity="0.49"/>
<line x1="424.96" y1="300.46" x2="440.30" y2="290.01" stroke="#f03818" stroke-width="0.8843781526931084" stroke-opacity="0.45"/>
<line x1="436.89" y1="264.24" x2="466.50" y2="243.19" stroke="#f03818" stroke-width="0.9456487592428394" stroke-opacity="0.54"/>
<line x1="473.09" y1="298.27" x2="486.00" y2="288.83" stroke="#f03818" stroke-width="1.3372350094053993" stroke-opacity="0.41"/>
<line x1="428.00" y1="297.13" x2="449.49" y2="282.64" stroke="#f03818" stroke-width="1.2905823027055876" stroke-opacity="0.45"/>
<line x1="427.69" y1="246.36" x2="447.95" y2="231.10" stroke="#f03818" stroke-width="1.020953244472961" stroke-opacity="0.54"/>
<line x1="416.48" y1="249.29" x2="444.19" y2="230.04" stroke="#f03818" stroke-width="1.0999096205171779" stroke-opacity="0.58"/>
<line x1="434.36" y1="243.58" x2="447.51" y2="234.43" stroke="#f03818" stroke-width="0.9782871699699438" stroke-opacity="0.47"/>
<line x1="411.37" y1="228.22" x2="432.29" y2="212.12" stroke="#f03818" stroke-width="0.980272809666247" stroke-opacity="0.58"/>
<line x1="459.92" y1="262.37" x2="492.29" y2="241.88" stroke="#f03818" stroke-width="1.163117077093352" stroke-opacity="0.56"/>
<line x1="456.66" y1="255.28" x2="471.17" y2="244.84" stroke="#f03818" stroke-width="0.9125509218303035" stroke-opacity="0.44"/>
<line x1="456.79" y1="307.91" x2="485.56" y2="287.62" stroke="#f03818" stroke-width="1.3150106635377967" stroke-opacity="0.43"/>
<line x1="443.69" y1="285.56" x2="470.45" y2="268.70" stroke="#f03818" stroke-width="1.0464212389958596" stroke-opacity="0.56"/>
<circle cx="454.13" cy="266.81" r="1.25" fill="#1a0a04" fill-opacity="0.7" filter="url(#blur)"/>
<circle cx="493.02" cy="265.62" r="1.52" fill="#1a0a04" fill-opacity="0.7" filter="url(#blur)"/>
<circle cx="494.58" cy="271.77" r="1.26" fill="#1a0a04" fill-opacity="0.7" filter="url(#blur)"/>
<circle cx="454.46" cy="255.10" r="2.20" fill="#1a0a04" fill-opacity="0.7" filter="url(#blur)"/>
<circle cx="448.58" cy="230.81" r="1.51" fill="#1a0a04" fill-opacity="0.7" filter="url(#blur)"/>
<circle cx="444.26" cy="250.75" r="1.17" fill="#3af03a" fill-opacity="0.78" filter="url(#blur)"/>
<circle cx="449.34" cy="230.42" r="1.30" fill="#3af03a" fill-opacity="0.78" filter="url(#blur)"/>
<circle cx="467.15" cy="254.39" r="1.24" fill="#3af03a" fill-opacity="0.96" filter="url(#blur)"/>
<circle cx="485.41" cy="267.52" r="1.07" fill="#3af03a" fill-opacity="0.67" filter="url(#blur)"/>
<circle cx="446.62" cy="274.47" r="0.93" fill="#3af03a" fill-opacity="0.83" filter="url(#blur)"/>
<circle cx="489.75" cy="246.18" r="1.09" fill="#3af03a" fill-opacity="0.77" filter="url(#blur)"/>
<circle cx="491.58" cy="265.26" r="1.32" fill="#3af03a" fill-opacity="0.62" filter="url(#blur)"/>
<circle cx="480.32" cy="252.97" r="1.10" fill="#3af03a" fill-opacity="0.93" filter="url(#blur)"/>
<circle cx="480.58" cy="277.18" r="1.27" fill="#3af03a" fill-opacity="0.96" filter="url(#blur)"/>
<circle cx="464.42" cy="258.51" r="1.29" fill="#3af03a" fill-opacity="0.78" filter="url(#blur)"/>
<circle cx="449.12" cy="260.05" r="1.34" fill="#3af03a" fill-opacity="0.95" filter="url(#blur)"/>
<circle cx="448.48" cy="249.28" r="1.01" fill="#3af03a" fill-opacity="0.74" filter="url(#blur)"/>
<circle cx="492.37" cy="251.39" r="1.06" fill="#3af03a" fill-opacity="0.71" filter="url(#blur)"/>
<circle cx="465.06" cy="264.49" r="1.07" fill="#3af03a" fill-opacity="0.67" filter="url(#blur)"/>
<circle cx="453.79" cy="242.90" r="1.35" fill="#3af03a" fill-opacity="0.67" filter="url(#blur)"/>
<circle cx="481.56" cy="234.90" r="1.29" fill="#3af03a" fill-opacity="0.71" filter="url(#blur)"/>
<circle cx="482.91" cy="251.97" r="0.94" fill="#3af03a" fill-opacity="0.64" filter="url(#blur)"/>
<circle cx="483.97" cy="257.76" r="1.14" fill="#3af03a" fill-opacity="0.74" filter="url(#blur)"/>
<circle cx="478.27" cy="254.62" r="0.93" fill="#3af03a" fill-opacity="0.84" filter="url(#blur)"/>
<circle cx="458.40" cy="273.82" r="1.17" fill="#3af03a" fill-opacity="0.91" filter="url(#blur)"/>
<circle cx="448.22" cy="266.46" r="1.21" fill="#3af03a" fill-opacity="0.94" filter="url(#blur)"/>
<circle cx="488.41" cy="258.26" r="1.20" fill="#3af03a" fill-opacity="0.91" filter="url(#blur)"/>
<circle cx="455.77" cy="257.92" r="1.29" fill="#3af03a" fill-opacity="0.84" filter="url(#blur)"/>
<circle cx="470.43" cy="274.30" r="1.39" fill="#3af03a" fill-opacity="0.70" filter="url(#blur)"/>
<circle cx="445.84" cy="261.53" r="0.97" fill="#3af03a" fill-opacity="0.99" filter="url(#blur)"/>
<circle cx="466.86" cy="257.35" r="1.31" fill="#3af03a" fill-opacity="0.95" filter="url(#blur)"/>
<circle cx="449.39" cy="253.09" r="0.99" fill="#3af03a" fill-opacity="0.78" filter="url(#blur)"/>
<circle cx="448.91" cy="275.42" r="1.08" fill="#3af03a" fill-opacity="0.76" filter="url(#blur)"/>
<circle cx="489.11" cy="272.59" r="1.07" fill="#3af03a" fill-opacity="0.80" filter="url(#blur)"/>
<circle cx="476.78" cy="239.10" r="0.97" fill="#3af03a" fill-opacity="0.94" filter="url(#blur)"/>
<circle cx="450.43" cy="266.50" r="1.27" fill="#3af03a" fill-opacity="0.84" filter="url(#blur)"/>
<circle cx="460.09" cy="274.40" r="1.29" fill="#3af03a" fill-opacity="0.63" filter="url(#blur)"/>
<circle cx="489.10" cy="262.75" r="1.04" fill="#3af03a" fill-opacity="0.67" filter="url(#blur)"/>
<circle cx="447.06" cy="271.96" r="1.32" fill="#3af03a" fill-opacity="0.74" filter="url(#blur)"/>
<circle cx="451.37" cy="233.06" r="1.11" fill="#3af03a" fill-opacity="0.72" filter="url(#blur)"/>
<circle cx="444.63" cy="244.89" r="1.31" fill="#3af03a" fill-opacity="0.63" filter="url(#blur)"/>
<circle cx="463.15" cy="256.30" r="0.98" fill="#3af03a" fill-opacity="0.61" filter="url(#blur)"/>
<circle cx="445.80" cy="236.78" r="1.39" fill="#3af03a" fill-opacity="0.94" filter="url(#blur)"/>
<circle cx="478.99" cy="276.61" r="1.06" fill="#3af03a" fill-opacity="0.70" filter="url(#blur)"/>
<circle cx="487.66" cy="261.15" r="1.36" fill="#3af03a" fill-opacity="0.74" filter="url(#blur)"/>
<circle cx="463.63" cy="267.03" r="1.34" fill="#3af03a" fill-opacity="0.67" filter="url(#blur)"/>
<circle cx="455.74" cy="229.92" r="1.18" fill="#3af03a" fill-opacity="0.97" filter="url(#blur)"/>
<circle cx="471.77" cy="237.03" r="1.25" fill="#3af03a" fill-opacity="0.86" filter="url(#blur)"/>
<circle cx="447.43" cy="277.38" r="1.23" fill="#3af03a" fill-opacity="0.80" filter="url(#blur)"/>
<circle cx="460.00" cy="237.66" r="1.13" fill="#3af03a" fill-opacity="0.75" filter="url(#blur)"/>
</g>
<g clip-path="url(#cp5)">
<rect x="498.40" y="228.20" width="55.10" height="54.70" fill="#93401a"/>
<rect x="498.4" y="228.2" width="55.10000000000002" height="54.69999999999999" filter="url(#noiseO)" opacity="0.95"/>
<circle cx="516.51" cy="281.98" r="1.28" fill="#1e0c04" fill-opacity="0.8" filter="url(#blur)"/>
<circle cx="549.00" cy="271.41" r="1.25" fill="#1e0c04" fill-opacity="0.8" filter="url(#blur)"/>
<circle cx="498.42" cy="262.50" r="1.00" fill="#1e0c04" fill-opacity="0.8" filter="url(#blur)"/>
<circle cx="538.65" cy="251.85" r="1.12" fill="#1e0c04" fill-opacity="0.8" filter="url(#blur)"/>
<circle cx="528.31" cy="259.72" r="1.23" fill="#1e0c04" fill-opacity="0.8" filter="url(#blur)"/>
<circle cx="552.48" cy="247.10" r="1.22" fill="#1e0c04" fill-opacity="0.8" filter="url(#blur)"/>
<circle cx="547.40" cy="249.65" r="0.95" fill="#1e0c04" fill-opacity="0.8" filter="url(#blur)"/>
<circle cx="525.81" cy="270.03" r="1.11" fill="#1e0c04" fill-opacity="0.8" filter="url(#blur)"/>
<circle cx="508.56" cy="266.79" r="1.03" fill="#1e0c04" fill-opacity="0.8" filter="url(#blur)"/>
<circle cx="547.23" cy="237.42" r="1.14" fill="#1e0c04" fill-opacity="0.8" filter="url(#blur)"/>
<circle cx="519.64" cy="282.08" r="0.96" fill="#1e0c04" fill-opacity="0.8" filter="url(#blur)"/>
<circle cx="546.89" cy="251.04" r="1.05" fill="#1e0c04" fill-opacity="0.8" filter="url(#blur)"/>
<circle cx="509.87" cy="255.25" r="1.27" fill="#1e0c04" fill-opacity="0.8" filter="url(#blur)"/>
<circle cx="553.46" cy="279.60" r="1.14" fill="#1e0c04" fill-opacity="0.8" filter="url(#blur)"/>
<circle cx="511.41" cy="255.95" r="1.16" fill="#1e0c04" fill-opacity="0.8" filter="url(#blur)"/>
<circle cx="514.71" cy="282.18" r="0.93" fill="#1e0c04" fill-opacity="0.8" filter="url(#blur)"/>
<circle cx="511.34" cy="239.32" r="0.97" fill="#1e0c04" fill-opacity="0.8" filter="url(#blur)"/>
<circle cx="501.91" cy="241.31" r="1.05" fill="#1e0c04" fill-opacity="0.8" filter="url(#blur)"/>
<circle cx="550.15" cy="258.01" r="1.15" fill="#1e0c04" fill-opacity="0.8" filter="url(#blur)"/>
<circle cx="517.58" cy="237.51" r="1.13" fill="#1e0c04" fill-opacity="0.8" filter="url(#blur)"/>
<circle cx="538.52" cy="232.85" r="1.16" fill="#1e0c04" fill-opacity="0.8" filter="url(#blur)"/>
<circle cx="509.97" cy="265.94" r="1.04" fill="#1e0c04" fill-opacity="0.8" filter="url(#blur)"/>
<circle cx="506.53" cy="235.87" r="1.22" fill="#1e0c04" fill-opacity="0.8" filter="url(#blur)"/>
<circle cx="528.17" cy="232.88" r="1.26" fill="#1e0c04" fill-opacity="0.8" filter="url(#blur)"/>
<circle cx="513.64" cy="243.51" r="0.90" fill="#1e0c04" fill-opacity="0.8" filter="url(#blur)"/>
<circle cx="514.94" cy="258.82" r="1.26" fill="#1e0c04" fill-opacity="0.8" filter="url(#blur)"/>
<circle cx="514.87" cy="255.42" r="0.93" fill="#1e0c04" fill-opacity="0.8" filter="url(#blur)"/>
<circle cx="536.25" cy="244.61" r="1.05" fill="#1e0c04" fill-opacity="0.8" filter="url(#blur)"/>
<circle cx="513.32" cy="272.96" r="1.29" fill="#1e0c04" fill-opacity="0.8" filter="url(#blur)"/>
<circle cx="506.00" cy="252.88" r="0.94" fill="#1e0c04" fill-opacity="0.8" filter="url(#blur)"/>
<circle cx="539.75" cy="277.83" r="0.95" fill="#1e0c04" fill-opacity="0.8" filter="url(#blur)"/>
<circle cx="536.01" cy="244.83" r="1.08" fill="#1e0c04" fill-opacity="0.8" filter="url(#blur)"/>
<circle cx="529.93" cy="249.22" r="1.16" fill="#1e0c04" fill-opacity="0.8" filter="url(#blur)"/>
<circle cx="516.40" cy="255.33" r="1.04" fill="#1e0c04" fill-opacity="0.8" filter="url(#blur)"/>
<circle cx="521.74" cy="235.99" r="1.04" fill="#1e0c04" fill-opacity="0.8" filter="url(#blur)"/>
<circle cx="504.51" cy="262.17" r="1.07" fill="#1e0c04" fill-opacity="0.8" filter="url(#blur)"/>
<circle cx="521.46" cy="277.29" r="0.96" fill="#1e0c04" fill-opacity="0.8" filter="url(#blur)"/>
<circle cx="527.56" cy="261.56" r="1.15" fill="#1e0c04" fill-opacity="0.8" filter="url(#blur)"/>
<circle cx="540.31" cy="247.63" r="1.27" fill="#1e0c04" fill-opacity="0.8" filter="url(#blur)"/>
<circle cx="535.19" cy="232.30" r="1.14" fill="#1e0c04" fill-opacity="0.8" filter="url(#blur)"/>
<circle cx="526.89" cy="279.36" r="1.19" fill="#1e0c04" fill-opacity="0.8" filter="url(#blur)"/>
<circle cx="535.53" cy="265.30" r="1.18" fill="#1e0c04" fill-opacity="0.8" filter="url(#blur)"/>
<circle cx="523.03" cy="255.09" r="1.11" fill="#1e0c04" fill-opacity="0.8" filter="url(#blur)"/>
<circle cx="499.51" cy="256.12" r="1.07" fill="#1e0c04" fill-opacity="0.8" filter="url(#blur)"/>
<circle cx="521.95" cy="259.04" r="1.16" fill="#1e0c04" fill-opacity="0.8" filter="url(#blur)"/>
<circle cx="519.90" cy="259.63" r="0.99" fill="#1e0c04" fill-opacity="0.8" filter="url(#blur)"/>
<circle cx="552.17" cy="264.51" r="1.18" fill="#1e0c04" fill-opacity="0.8" filter="url(#blur)"/>
<circle cx="539.08" cy="229.65" r="0.97" fill="#1e0c04" fill-opacity="0.8" filter="url(#blur)"/>
<circle cx="519.26" cy="252.23" r="1.06" fill="#1e0c04" fill-opacity="0.8" filter="url(#blur)"/>
<circle cx="526.95" cy="262.53" r="1.20" fill="#1e0c04" fill-opacity="0.8" filter="url(#blur)"/>
<circle cx="536.58" cy="250.43" r="1.24" fill="#1e0c04" fill-opacity="0.8" filter="url(#blur)"/>
<circle cx="543.10" cy="280.75" r="0.91" fill="#1e0c04" fill-opacity="0.8" filter="url(#blur)"/>
<circle cx="530.22" cy="237.72" r="1.24" fill="#1e0c04" fill-opacity="0.8" filter="url(#blur)"/>
<circle cx="550.45" cy="264.76" r="1.03" fill="#1e0c04" fill-opacity="0.8" filter="url(#blur)"/>
<circle cx="546.49" cy="256.20" r="1.18" fill="#1e0c04" fill-opacity="0.8" filter="url(#blur)"/>
<circle cx="508.86" cy="234.06" r="1.23" fill="#1e0c04" fill-opacity="0.8" filter="url(#blur)"/>
<circle cx="545.72" cy="248.93" r="0.93" fill="#1e0c04" fill-opacity="0.8" filter="url(#blur)"/>
<circle cx="514.80" cy="278.01" r="0.99" fill="#1e0c04" fill-opacity="0.8" filter="url(#blur)"/>
<circle cx="539.70" cy="245.35" r="1.28" fill="#1e0c04" fill-opacity="0.8" filter="url(#blur)"/>
<circle cx="517.17" cy="280.11" r="1.10" fill="#1e0c04" fill-opacity="0.8" filter="url(#blur)"/>
<circle cx="498.86" cy="249.77" r="1.10" fill="#40c030" fill-opacity="0.8" filter="url(#blur)"/>
<circle cx="506.75" cy="232.89" r="1.19" fill="#40c030" fill-opacity="0.8" filter="url(#blur)"/>
<circle cx="538.42" cy="268.25" r="1.03" fill="#40c030" fill-opacity="0.8" filter="url(#blur)"/>
<circle cx="508.29" cy="253.24" r="1.30" fill="#40c030" fill-opacity="0.8" filter="url(#blur)"/>
<circle cx="510.12" cy="276.69" r="1.48" fill="#40c030" fill-opacity="0.8" filter="url(#blur)"/>
<circle cx="517.09" cy="236.17" r="1.19" fill="#40c030" fill-opacity="0.8" filter="url(#blur)"/>
<circle cx="506.88" cy="277.19" r="1.21" fill="#40c030" fill-opacity="0.8" filter="url(#blur)"/>
<circle cx="521.24" cy="275.00" r="1.34" fill="#40c030" fill-opacity="0.8" filter="url(#blur)"/>
<circle cx="539.33" cy="233.64" r="1.06" fill="#40c030" fill-opacity="0.8" filter="url(#blur)"/>
<circle cx="517.30" cy="275.27" r="0.98" fill="#40c030" fill-opacity="0.8" filter="url(#blur)"/>
<circle cx="504.41" cy="252.66" r="1.01" fill="#40c030" fill-opacity="0.8" filter="url(#blur)"/>
<circle cx="534.69" cy="248.48" r="0.89" fill="#40c030" fill-opacity="0.8" filter="url(#blur)"/>
<circle cx="535.22" cy="279.26" r="1.29" fill="#40c030" fill-opacity="0.8" filter="url(#blur)"/>
<circle cx="529.69" cy="232.14" r="0.94" fill="#40c030" fill-opacity="0.8" filter="url(#blur)"/>
<line x1="525.40" y1="256.20" x2="528.40" y2="273.20" stroke="#40d030" stroke-width="1.6" stroke-opacity="0.8"/>
</g>
<text x="379.74" y="198.30" font-size="6.3" text-anchor="middle" stroke="#1a1a1a" stroke-width="0.12" transform="rotate(-90 379.74 198.30)"><tspan fill="#e83030" stroke="#e83030">MAP2</tspan><tspan fill="#333" stroke="#333">/</tspan><tspan fill="#2fae2f" stroke="#2fae2f">ERRα</tspan></text>
<text x="379.74" y="255.50" font-size="6.3" text-anchor="middle" stroke="#1a1a1a" stroke-width="0.12" transform="rotate(-90 379.74 255.50)"><tspan fill="#e83030" stroke="#e83030">MAP2</tspan><tspan fill="#333" stroke="#333">/</tspan><tspan fill="#2fae2f" stroke="#2fae2f">PGC1α</tspan></text>
<text x="395.00" y="277.40" font-size="5.6" text-anchor="middle" fill="#ffffff">100 µm</text>
<line x1="385.50" y1="279.60" x2="397.00" y2="279.60" stroke="#ffffff" stroke-width="0.8"/>
<line x1="584.20" y1="167.00" x2="584.20" y2="240.30" stroke="#1a1a1a" stroke-width="0.6"/>
<line x1="584.20" y1="240.30" x2="614.30" y2="240.30" stroke="#1a1a1a" stroke-width="0.6"/>
<line x1="582.70" y1="239.50" x2="584.20" y2="239.50" stroke="#1a1a1a" stroke-width="0.5"/>
<text x="581.40" y="241.54" font-size="6.0" text-anchor="end" stroke="#1a1a1a" stroke-width="0.12">0</text>
<line x1="582.70" y1="215.90" x2="584.20" y2="215.90" stroke="#1a1a1a" stroke-width="0.5"/>
<text x="581.40" y="217.94" font-size="6.0" text-anchor="end" stroke="#1a1a1a" stroke-width="0.12">50</text>
<line x1="582.70" y1="192.30" x2="584.20" y2="192.30" stroke="#1a1a1a" stroke-width="0.5"/>
<text x="581.40" y="194.34" font-size="6.0" text-anchor="end" stroke="#1a1a1a" stroke-width="0.12">100</text>
<line x1="582.70" y1="168.70" x2="584.20" y2="168.70" stroke="#1a1a1a" stroke-width="0.5"/>
<text x="581.40" y="170.74" font-size="6.0" text-anchor="end" stroke="#1a1a1a" stroke-width="0.12">150</text>
<line x1="590.10" y1="240.30" x2="590.10" y2="241.50" stroke="#1a1a1a" stroke-width="0.5"/>
<line x1="590.10" y1="194.42" x2="590.10" y2="198.67" stroke="#1f1fee" stroke-width="0.5"/>
<line x1="588.70" y1="194.42" x2="591.50" y2="194.42" stroke="#1f1fee" stroke-width="0.5"/>
<line x1="588.70" y1="198.67" x2="591.50" y2="198.67" stroke="#1f1fee" stroke-width="0.5"/>
<line x1="587.30" y1="196.55" x2="592.90" y2="196.55" stroke="#1f1fee" stroke-width="0.6"/>
<circle cx="588.63" cy="197.54" r="1.05" fill="#1f1fee"/>
<circle cx="590.01" cy="199.04" r="1.05" fill="#1f1fee"/>
<circle cx="588.85" cy="195.64" r="1.05" fill="#1f1fee"/>
<circle cx="590.15" cy="199.85" r="1.05" fill="#1f1fee"/>
<circle cx="590.12" cy="196.53" r="1.05" fill="#1f1fee"/>
<circle cx="589.53" cy="196.40" r="1.05" fill="#1f1fee"/>
<circle cx="590.48" cy="193.51" r="1.05" fill="#1f1fee"/>
<circle cx="588.92" cy="195.13" r="1.05" fill="#1f1fee"/>
<circle cx="588.92" cy="190.23" r="1.05" fill="#1f1fee"/>
<line x1="599.00" y1="240.30" x2="599.00" y2="241.50" stroke="#1a1a1a" stroke-width="0.5"/>
<line x1="599.00" y1="192.54" x2="599.00" y2="194.90" stroke="#2e8b3e" stroke-width="0.5"/>
<line x1="597.60" y1="192.54" x2="600.40" y2="192.54" stroke="#2e8b3e" stroke-width="0.5"/>
<line x1="597.60" y1="194.90" x2="600.40" y2="194.90" stroke="#2e8b3e" stroke-width="0.5"/>
<line x1="596.20" y1="193.72" x2="601.80" y2="193.72" stroke="#2e8b3e" stroke-width="0.6"/>
<circle cx="601.02" cy="193.55" r="1.05" fill="#2e8b3e"/>
<circle cx="601.19" cy="193.52" r="1.05" fill="#2e8b3e"/>
<circle cx="597.61" cy="192.47" r="1.05" fill="#2e8b3e"/>
<circle cx="598.32" cy="192.54" r="1.05" fill="#2e8b3e"/>
<circle cx="600.71" cy="193.37" r="1.05" fill="#2e8b3e"/>
<circle cx="598.21" cy="190.75" r="1.05" fill="#2e8b3e"/>
<circle cx="599.45" cy="192.08" r="1.05" fill="#2e8b3e"/>
<circle cx="600.86" cy="194.46" r="1.05" fill="#2e8b3e"/>
<line x1="608.50" y1="240.30" x2="608.50" y2="241.50" stroke="#1a1a1a" stroke-width="0.5"/>
<line x1="608.50" y1="225.81" x2="608.50" y2="234.31" stroke="#ee2222" stroke-width="0.5"/>
<line x1="607.10" y1="225.81" x2="609.90" y2="225.81" stroke="#ee2222" stroke-width="0.5"/>
<line x1="607.10" y1="234.31" x2="609.90" y2="234.31" stroke="#ee2222" stroke-width="0.5"/>
<line x1="605.70" y1="230.06" x2="611.30" y2="230.06" stroke="#ee2222" stroke-width="0.6"/>
<circle cx="610.37" cy="222.50" r="1.05" fill="#ee2222"/>
<circle cx="606.67" cy="232.59" r="1.05" fill="#ee2222"/>
<circle cx="608.90" cy="234.18" r="1.05" fill="#ee2222"/>
<circle cx="606.87" cy="227.92" r="1.05" fill="#ee2222"/>
<circle cx="607.14" cy="232.57" r="1.05" fill="#ee2222"/>
<circle cx="608.30" cy="229.15" r="1.05" fill="#ee2222"/>
<circle cx="606.41" cy="224.96" r="1.05" fill="#ee2222"/>
<circle cx="608.15" cy="227.01" r="1.05" fill="#ee2222"/>
<line x1="590.10" y1="182.70" x2="599.40" y2="182.70" stroke="#555" stroke-width="0.5"/>
<line x1="590.10" y1="182.70" x2="590.10" y2="186.50" stroke="#555" stroke-width="0.5"/>
<line x1="599.40" y1="182.70" x2="599.40" y2="186.50" stroke="#555" stroke-width="0.5"/>
<line x1="601.50" y1="182.70" x2="608.50" y2="182.70" stroke="#555" stroke-width="0.5"/>
<line x1="601.50" y1="182.70" x2="601.50" y2="186.50" stroke="#555" stroke-width="0.5"/>
<line x1="608.50" y1="182.70" x2="608.50" y2="222.00" stroke="#555" stroke-width="0.5"/>
<text x="594.00" y="181.40" font-size="4.8" fill="#333" stroke="#333" stroke-width="0.12" transform="rotate(-45 594.00 181.40)">ns</text>
<text x="603.00" y="181.40" font-size="4.8" fill="#333" stroke="#333" stroke-width="0.12" transform="rotate(-45 603.00 181.40)">2.53E-15</text>
<text x="568.27" y="205.00" font-size="5.8" text-anchor="middle" stroke="#1a1a1a" stroke-width="0.12" transform="rotate(-90 568.27 205.00)">Nuclear ERRα<tspan baseline-shift="super" font-size="4">+</tspan>MAP2<tspan baseline-shift="super" font-size="4">+</tspan>/ Total MAP2<tspan baseline-shift="super" font-size="4">+</tspan> (%)</text>
<text x="591.80" y="245.60" font-size="6.0" text-anchor="end" stroke="#1a1a1a" stroke-width="0.12" transform="rotate(-45 591.80 245.60)">Vehicle</text>
<text x="600.80" y="245.60" font-size="6.0" text-anchor="end" stroke="#1a1a1a" stroke-width="0.12" transform="rotate(-45 600.80 245.60)">VCD</text>
<text x="610.30" y="245.60" font-size="6.0" text-anchor="end" stroke="#1a1a1a" stroke-width="0.12" transform="rotate(-45 610.30 245.60)">VCD</text>
<line x1="574.40" y1="261.20" x2="588.90" y2="261.20" stroke="#444" stroke-width="0.7"/>
<line x1="593.50" y1="261.20" x2="603.40" y2="261.20" stroke="#444" stroke-width="0.7"/>
<text x="580.30" y="268.14" font-size="6.0" text-anchor="middle" stroke="#1a1a1a" stroke-width="0.12">&lt;2.5</text>
<text x="598.70" y="268.14" font-size="6.0" text-anchor="middle" stroke="#1a1a1a" stroke-width="0.12">≥2.5</text>
<text x="591.00" y="276.24" font-size="6.0" text-anchor="middle" stroke="#1a1a1a" stroke-width="0.12">E2:P4 (pg/ng)</text>
<line x1="652.10" y1="167.00" x2="652.10" y2="239.80" stroke="#1a1a1a" stroke-width="0.6"/>
<line x1="652.10" y1="239.80" x2="682.30" y2="239.80" stroke="#1a1a1a" stroke-width="0.6"/>
<line x1="650.60" y1="239.00" x2="652.10" y2="239.00" stroke="#1a1a1a" stroke-width="0.5"/>
<text x="649.30" y="241.04" font-size="6.0" text-anchor="end" stroke="#1a1a1a" stroke-width="0.12">0</text>
<line x1="650.60" y1="215.70" x2="652.10" y2="215.70" stroke="#1a1a1a" stroke-width="0.5"/>
<text x="649.30" y="217.74" font-size="6.0" text-anchor="end" stroke="#1a1a1a" stroke-width="0.12">50</text>
<line x1="650.60" y1="192.40" x2="652.10" y2="192.40" stroke="#1a1a1a" stroke-width="0.5"/>
<text x="649.30" y="194.44" font-size="6.0" text-anchor="end" stroke="#1a1a1a" stroke-width="0.12">100</text>
<line x1="650.60" y1="169.10" x2="652.10" y2="169.10" stroke="#1a1a1a" stroke-width="0.5"/>
<text x="649.30" y="171.14" font-size="6.0" text-anchor="end" stroke="#1a1a1a" stroke-width="0.12">150</text>
<line x1="659.00" y1="239.80" x2="659.00" y2="241.00" stroke="#1a1a1a" stroke-width="0.5"/>
<line x1="659.00" y1="194.73" x2="659.00" y2="202.19" stroke="#1f1fee" stroke-width="0.5"/>
<line x1="657.60" y1="194.73" x2="660.40" y2="194.73" stroke="#1f1fee" stroke-width="0.5"/>
<line x1="657.60" y1="202.19" x2="660.40" y2="202.19" stroke="#1f1fee" stroke-width="0.5"/>
<line x1="656.20" y1="198.46" x2="661.80" y2="198.46" stroke="#1f1fee" stroke-width="0.6"/>
<circle cx="656.85" cy="195.62" r="1.05" fill="#1f1fee"/>
<circle cx="659.81" cy="196.04" r="1.05" fill="#1f1fee"/>
<circle cx="657.41" cy="196.40" r="1.05" fill="#1f1fee"/>
<circle cx="660.13" cy="196.70" r="1.05" fill="#1f1fee"/>
<circle cx="657.45" cy="198.78" r="1.05" fill="#1f1fee"/>
<circle cx="657.40" cy="203.94" r="1.05" fill="#1f1fee"/>
<circle cx="659.16" cy="202.10" r="1.05" fill="#1f1fee"/>
<circle cx="661.18" cy="197.22" r="1.05" fill="#1f1fee"/>
<circle cx="657.21" cy="189.69" r="1.05" fill="#1f1fee"/>
<line x1="668.20" y1="239.80" x2="668.20" y2="241.00" stroke="#1a1a1a" stroke-width="0.5"/>
<line x1="668.20" y1="194.73" x2="668.20" y2="196.59" stroke="#2e8b3e" stroke-width="0.5"/>
<line x1="666.80" y1="194.73" x2="669.60" y2="194.73" stroke="#2e8b3e" stroke-width="0.5"/>
<line x1="666.80" y1="196.59" x2="669.60" y2="196.59" stroke="#2e8b3e" stroke-width="0.5"/>
<line x1="665.40" y1="195.66" x2="671.00" y2="195.66" stroke="#2e8b3e" stroke-width="0.6"/>
<circle cx="666.85" cy="195.53" r="1.05" fill="#2e8b3e"/>
<circle cx="669.48" cy="195.08" r="1.05" fill="#2e8b3e"/>
<circle cx="668.19" cy="195.72" r="1.05" fill="#2e8b3e"/>
<circle cx="668.23" cy="195.98" r="1.05" fill="#2e8b3e"/>
<circle cx="669.30" cy="197.33" r="1.05" fill="#2e8b3e"/>
<circle cx="669.42" cy="195.90" r="1.05" fill="#2e8b3e"/>
<circle cx="667.79" cy="194.49" r="1.05" fill="#2e8b3e"/>
<circle cx="667.00" cy="195.66" r="1.05" fill="#2e8b3e"/>
<line x1="676.90" y1="239.80" x2="676.90" y2="241.00" stroke="#1a1a1a" stroke-width="0.5"/>
<line x1="676.90" y1="231.08" x2="676.90" y2="235.74" stroke="#ee2222" stroke-width="0.5"/>
<line x1="675.50" y1="231.08" x2="678.30" y2="231.08" stroke="#ee2222" stroke-width="0.5"/>
<line x1="675.50" y1="235.74" x2="678.30" y2="235.74" stroke="#ee2222" stroke-width="0.5"/>
<line x1="674.10" y1="233.41" x2="679.70" y2="233.41" stroke="#ee2222" stroke-width="0.6"/>
<circle cx="677.21" cy="235.72" r="1.05" fill="#ee2222"/>
<circle cx="675.92" cy="235.94" r="1.05" fill="#ee2222"/>
<circle cx="677.57" cy="230.25" r="1.05" fill="#ee2222"/>
<circle cx="675.52" cy="235.99" r="1.05" fill="#ee2222"/>
<circle cx="677.57" cy="235.04" r="1.05" fill="#ee2222"/>
<circle cx="678.95" cy="234.89" r="1.05" fill="#ee2222"/>
<circle cx="677.02" cy="237.62" r="1.05" fill="#ee2222"/>
<circle cx="677.50" cy="231.90" r="1.05" fill="#ee2222"/>
<line x1="659.00" y1="185.20" x2="668.20" y2="185.20" stroke="#555" stroke-width="0.5"/>
<line x1="659.00" y1="185.20" x2="659.00" y2="189.00" stroke="#555" stroke-width="0.5"/>
<line x1="668.20" y1="185.20" x2="668.20" y2="189.00" stroke="#555" stroke-width="0.5"/>
<line x1="670.20" y1="185.20" x2="676.90" y2="185.20" stroke="#555" stroke-width="0.5"/>
<line x1="670.20" y1="185.20" x2="670.20" y2="189.00" stroke="#555" stroke-width="0.5"/>
<line x1="676.90" y1="185.20" x2="676.90" y2="226.00" stroke="#555" stroke-width="0.5"/>
<text x="663.00" y="183.90" font-size="4.8" fill="#333" stroke="#333" stroke-width="0.12" transform="rotate(-45 663.00 183.90)">ns</text>
<text x="671.50" y="183.90" font-size="4.8" fill="#333" stroke="#333" stroke-width="0.12" transform="rotate(-45 671.50 183.90)">2.53E-15</text>
<text x="637.14" y="206.40" font-size="5.7" text-anchor="middle" stroke="#1a1a1a" stroke-width="0.12" transform="rotate(-90 637.14 206.40)">Nuclear PGC1α<tspan baseline-shift="super" font-size="4">+</tspan>MAP2<tspan baseline-shift="super" font-size="4">+</tspan>/ Total MAP2+ (%)</text>
<text x="659.80" y="245.60" font-size="6.0" text-anchor="end" stroke="#1a1a1a" stroke-width="0.12" transform="rotate(-45 659.80 245.60)">Vehicle</text>
<text x="669.40" y="245.60" font-size="6.0" text-anchor="end" stroke="#1a1a1a" stroke-width="0.12" transform="rotate(-45 669.40 245.60)">VCD</text>
<text x="677.90" y="245.60" font-size="6.0" text-anchor="end" stroke="#1a1a1a" stroke-width="0.12" transform="rotate(-45 677.90 245.60)">VCD</text>
<line x1="642.40" y1="261.20" x2="656.90" y2="261.20" stroke="#444" stroke-width="0.7"/>
<line x1="661.80" y1="261.20" x2="672.00" y2="261.20" stroke="#444" stroke-width="0.7"/>
<text x="648.50" y="268.14" font-size="6.0" text-anchor="middle" stroke="#1a1a1a" stroke-width="0.12">&lt;2.5</text>
<text x="666.60" y="268.14" font-size="6.0" text-anchor="middle" stroke="#1a1a1a" stroke-width="0.12">≥2.5</text>
<text x="659.00" y="276.44" font-size="6.0" text-anchor="middle" stroke="#1a1a1a" stroke-width="0.12">E2:P4 (pg/ng)</text>
<text x="42.30" y="334.04" font-size="6.0" text-anchor="end" stroke="#1a1a1a" stroke-width="0.12">E2:P4 (pg/ng)</text>
<text x="42.30" y="341.74" font-size="6.0" text-anchor="end" stroke="#1a1a1a" stroke-width="0.12">160mg/kg VCD</text>
<text x="58.60" y="333.64" font-size="6.0" text-anchor="middle" stroke="#1a1a1a" stroke-width="0.12">&lt;2.5</text>
<text x="78.60" y="333.64" font-size="6.0" text-anchor="middle" stroke="#1a1a1a" stroke-width="0.12">&lt;2.5</text>
<text x="97.80" y="333.64" font-size="6.0" text-anchor="middle" stroke="#1a1a1a" stroke-width="0.12">≥2.5</text>
<text x="54.20" y="341.64" font-size="6.0" text-anchor="middle" stroke="#1a1a1a" stroke-width="0.12">–</text>
<text x="64.20" y="341.64" font-size="6.0" text-anchor="middle" stroke="#1a1a1a" stroke-width="0.12">–</text>
<text x="74.80" y="341.64" font-size="6.0" text-anchor="middle" stroke="#1a1a1a" stroke-width="0.12">+</text>
<text x="83.90" y="341.64" font-size="6.0" text-anchor="middle" stroke="#1a1a1a" stroke-width="0.12">+</text>
<text x="93.70" y="341.64" font-size="6.0" text-anchor="middle" stroke="#1a1a1a" stroke-width="0.12">+</text>
<text x="102.60" y="341.64" font-size="6.0" text-anchor="middle" stroke="#1a1a1a" stroke-width="0.12">+</text>
<text x="112.20" y="341.44" font-size="6.0" stroke="#1a1a1a" stroke-width="0.12">kDa</text>
<rect x="48.30" y="345.10" width="61.90" height="17.70" fill="#8c8c8c" stroke="#333" stroke-width="0.6"/>
<rect x="48.30" y="364.30" width="61.90" height="17.70" fill="#979797" stroke="#333" stroke-width="0.6"/>
<rect x="48.30" y="383.40" width="61.90" height="16.90" fill="#ececec" stroke="#333" stroke-width="0.6"/>
<rect x="48.30" y="402.60" width="61.90" height="17.10" fill="#f0f0f0" stroke="#333" stroke-width="0.6"/>
<rect x="48.30" y="421.20" width="61.90" height="16.80" fill="#eeeeee" stroke="#333" stroke-width="0.6"/>
<ellipse cx="54.2" cy="353.9" rx="4.2" ry="1.2" fill="#111" fill-opacity="1.00" filter="url(#blur2)"/>
<ellipse cx="54.2" cy="358.9" rx="4.2" ry="1.6" fill="#333" fill-opacity="0.60" filter="url(#blur2)"/>
<ellipse cx="54.2" cy="372.5" rx="4.0" ry="0.8" fill="#333" fill-opacity="0.55" filter="url(#blur2)"/>
<ellipse cx="54.2" cy="391.7" rx="4.2" ry="0.9" fill="#111" fill-opacity="0.95" filter="url(#blur2)"/>
<ellipse cx="54.2" cy="410.9" rx="4.2" ry="1.1" fill="#111" fill-opacity="1.00" filter="url(#blur2)"/>
<ellipse cx="54.2" cy="430.7" rx="4.2" ry="1.0" fill="#111" fill-opacity="0.95" filter="url(#blur2)"/>
<ellipse cx="64.2" cy="353.9" rx="4.2" ry="1.2" fill="#111" fill-opacity="1.00" filter="url(#blur2)"/>
<ellipse cx="64.2" cy="358.9" rx="4.2" ry="1.6" fill="#333" fill-opacity="0.55" filter="url(#blur2)"/>
<ellipse cx="64.2" cy="372.5" rx="4.0" ry="0.8" fill="#333" fill-opacity="0.55" filter="url(#blur2)"/>
<ellipse cx="64.2" cy="391.7" rx="4.2" ry="0.9" fill="#111" fill-opacity="0.95" filter="url(#blur2)"/>
<ellipse cx="64.2" cy="410.9" rx="4.2" ry="1.1" fill="#111" fill-opacity="1.00" filter="url(#blur2)"/>
<ellipse cx="64.2" cy="430.7" rx="4.2" ry="1.0" fill="#111" fill-opacity="0.95" filter="url(#blur2)"/>
<ellipse cx="74.8" cy="353.9" rx="4.2" ry="1.2" fill="#111" fill-opacity="0.90" filter="url(#blur2)"/>
<ellipse cx="74.8" cy="358.9" rx="4.2" ry="1.6" fill="#333" fill-opacity="0.40" filter="url(#blur2)"/>
<ellipse cx="74.8" cy="372.5" rx="4.0" ry="0.8" fill="#333" fill-opacity="0.55" filter="url(#blur2)"/>
<ellipse cx="74.8" cy="391.7" rx="4.2" ry="0.9" fill="#111" fill-opacity="0.95" filter="url(#blur2)"/>
<ellipse cx="74.8" cy="410.9" rx="4.2" ry="1.1" fill="#111" fill-opacity="1.00" filter="url(#blur2)"/>
<ellipse cx="74.8" cy="430.7" rx="4.2" ry="1.0" fill="#111" fill-opacity="0.95" filter="url(#blur2)"/>
<ellipse cx="83.9" cy="353.9" rx="4.2" ry="1.2" fill="#111" fill-opacity="0.85" filter="url(#blur2)"/>
<ellipse cx="83.9" cy="358.9" rx="4.2" ry="1.6" fill="#333" fill-opacity="0.35" filter="url(#blur2)"/>
<ellipse cx="83.9" cy="372.5" rx="4.0" ry="0.8" fill="#333" fill-opacity="0.45" filter="url(#blur2)"/>
<ellipse cx="83.9" cy="391.7" rx="4.2" ry="0.9" fill="#111" fill-opacity="0.95" filter="url(#blur2)"/>
<ellipse cx="83.9" cy="410.9" rx="4.2" ry="1.1" fill="#111" fill-opacity="0.95" filter="url(#blur2)"/>
<ellipse cx="83.9" cy="430.7" rx="4.2" ry="1.0" fill="#111" fill-opacity="0.95" filter="url(#blur2)"/>
<ellipse cx="93.7" cy="353.9" rx="4.2" ry="1.2" fill="#111" fill-opacity="0.45" filter="url(#blur2)"/>
<ellipse cx="93.7" cy="358.9" rx="4.2" ry="1.6" fill="#333" fill-opacity="0.30" filter="url(#blur2)"/>
<ellipse cx="93.7" cy="372.5" rx="4.0" ry="0.8" fill="#333" fill-opacity="0.30" filter="url(#blur2)"/>
<ellipse cx="93.7" cy="391.7" rx="4.2" ry="0.9" fill="#111" fill-opacity="0.95" filter="url(#blur2)"/>
<ellipse cx="93.7" cy="410.9" rx="4.2" ry="1.1" fill="#111" fill-opacity="0.65" filter="url(#blur2)"/>
<ellipse cx="93.7" cy="430.7" rx="4.2" ry="1.0" fill="#111" fill-opacity="0.95" filter="url(#blur2)"/>
<ellipse cx="102.6" cy="353.9" rx="4.2" ry="1.2" fill="#111" fill-opacity="0.50" filter="url(#blur2)"/>
<ellipse cx="102.6" cy="358.9" rx="4.2" ry="1.6" fill="#333" fill-opacity="0.25" filter="url(#blur2)"/>
<ellipse cx="102.6" cy="372.5" rx="4.0" ry="0.8" fill="#333" fill-opacity="0.20" filter="url(#blur2)"/>
<ellipse cx="102.6" cy="391.7" rx="4.2" ry="0.9" fill="#111" fill-opacity="0.95" filter="url(#blur2)"/>
<ellipse cx="102.6" cy="410.9" rx="4.2" ry="1.1" fill="#111" fill-opacity="0.50" filter="url(#blur2)"/>
<ellipse cx="102.6" cy="430.7" rx="4.2" ry="1.0" fill="#111" fill-opacity="0.95" filter="url(#blur2)"/>
<rect x="48.3" y="345.1" width="61.9" height="36.9" filter="url(#noiseG)" opacity="0.18"/>
<ellipse cx="62" cy="349" rx="14" ry="4" fill="#555" fill-opacity="0.2" filter="url(#blur)"/>
<text x="111.60" y="356.04" font-size="6.0" stroke="#1a1a1a" stroke-width="0.12">~100</text>
<text x="111.60" y="374.54" font-size="6.0" stroke="#1a1a1a" stroke-width="0.12">~50</text>
<text x="111.60" y="393.74" font-size="6.0" stroke="#1a1a1a" stroke-width="0.12">~50</text>
<text x="111.60" y="412.94" font-size="6.0" stroke="#1a1a1a" stroke-width="0.12">~100</text>
<text x="111.60" y="432.74" font-size="6.0" stroke="#1a1a1a" stroke-width="0.12">~45</text>
<text x="42.40" y="352.44" font-size="6.0" text-anchor="end" stroke="#1a1a1a" stroke-width="0.12">IP:ERRα</text>
<text x="42.40" y="359.84" font-size="6.0" text-anchor="end" stroke="#1a1a1a" stroke-width="0.12">IB: PGC1α</text>
<text x="42.40" y="372.14" font-size="6.0" text-anchor="end" stroke="#1a1a1a" stroke-width="0.12">IP: PGC1α</text>
<text x="42.40" y="379.14" font-size="6.0" text-anchor="end" stroke="#1a1a1a" stroke-width="0.12">IB:ERRα</text>
<text x="42.40" y="391.34" font-size="6.0" text-anchor="end" stroke="#1a1a1a" stroke-width="0.12">INPUT</text>
<text x="42.40" y="398.14" font-size="6.0" text-anchor="end" stroke="#1a1a1a" stroke-width="0.12">ERRα</text>
<text x="42.40" y="409.94" font-size="6.0" text-anchor="end" stroke="#1a1a1a" stroke-width="0.12">INPUT</text>
<text x="42.40" y="416.84" font-size="6.0" text-anchor="end" stroke="#1a1a1a" stroke-width="0.12">PGC1α</text>
<text x="42.40" y="428.94" font-size="6.0" text-anchor="end" stroke="#1a1a1a" stroke-width="0.12">INPUT</text>
<text x="42.40" y="435.84" font-size="6.0" text-anchor="end" stroke="#1a1a1a" stroke-width="0.12">ACTIN</text>
<line x1="160.80" y1="335.50" x2="160.80" y2="410.00" stroke="#1a1a1a" stroke-width="0.6"/>
<line x1="160.80" y1="410.00" x2="192.60" y2="410.00" stroke="#1a1a1a" stroke-width="0.6"/>
<line x1="159.30" y1="409.20" x2="160.80" y2="409.20" stroke="#1a1a1a" stroke-width="0.5"/>
<text x="158.30" y="411.24" font-size="6.0" text-anchor="end" stroke="#1a1a1a" stroke-width="0.12">0.0</text>
<line x1="159.30" y1="394.94" x2="160.80" y2="394.94" stroke="#1a1a1a" stroke-width="0.5"/>
<text x="158.30" y="396.98" font-size="6.0" text-anchor="end" stroke="#1a1a1a" stroke-width="0.12">0.2</text>
<line x1="159.30" y1="380.68" x2="160.80" y2="380.68" stroke="#1a1a1a" stroke-width="0.5"/>
<text x="158.30" y="382.72" font-size="6.0" text-anchor="end" stroke="#1a1a1a" stroke-width="0.12">0.4</text>
<line x1="159.30" y1="366.42" x2="160.80" y2="366.42" stroke="#1a1a1a" stroke-width="0.5"/>
<text x="158.30" y="368.46" font-size="6.0" text-anchor="end" stroke="#1a1a1a" stroke-width="0.12">0.6</text>
<line x1="159.30" y1="352.16" x2="160.80" y2="352.16" stroke="#1a1a1a" stroke-width="0.5"/>
<text x="158.30" y="354.20" font-size="6.0" text-anchor="end" stroke="#1a1a1a" stroke-width="0.12">0.8</text>
<line x1="159.30" y1="337.90" x2="160.80" y2="337.90" stroke="#1a1a1a" stroke-width="0.5"/>
<text x="158.30" y="339.94" font-size="6.0" text-anchor="end" stroke="#1a1a1a" stroke-width="0.12">1.0</text>
<line x1="167.70" y1="410.00" x2="167.70" y2="411.20" stroke="#1a1a1a" stroke-width="0.5"/>
<line x1="167.70" y1="355.01" x2="167.70" y2="364.99" stroke="#1f1fee" stroke-width="0.5"/>
<line x1="166.30" y1="355.01" x2="169.10" y2="355.01" stroke="#1f1fee" stroke-width="0.5"/>
<line x1="166.30" y1="364.99" x2="169.10" y2="364.99" stroke="#1f1fee" stroke-width="0.5"/>
<line x1="164.90" y1="360.00" x2="170.50" y2="360.00" stroke="#1f1fee" stroke-width="0.6"/>
<circle cx="167.18" cy="359.64" r="1.05" fill="#1f1fee"/>
<circle cx="169.52" cy="357.02" r="1.05" fill="#1f1fee"/>
<circle cx="168.04" cy="362.33" r="1.05" fill="#1f1fee"/>
<circle cx="167.19" cy="365.89" r="1.05" fill="#1f1fee"/>
<circle cx="168.72" cy="367.72" r="1.05" fill="#1f1fee"/>
<circle cx="168.41" cy="364.02" r="1.05" fill="#1f1fee"/>
<circle cx="169.19" cy="362.69" r="1.05" fill="#1f1fee"/>
<circle cx="166.16" cy="358.93" r="1.05" fill="#1f1fee"/>
<circle cx="168.68" cy="356.40" r="1.05" fill="#1f1fee"/>
<line x1="177.00" y1="410.00" x2="177.00" y2="411.20" stroke="#1a1a1a" stroke-width="0.5"/>
<line x1="177.00" y1="355.73" x2="177.00" y2="368.56" stroke="#2e8b3e" stroke-width="0.5"/>
<line x1="175.60" y1="355.73" x2="178.40" y2="355.73" stroke="#2e8b3e" stroke-width="0.5"/>
<line x1="175.60" y1="368.56" x2="178.40" y2="368.56" stroke="#2e8b3e" stroke-width="0.5"/>
<line x1="174.20" y1="362.14" x2="179.80" y2="362.14" stroke="#2e8b3e" stroke-width="0.6"/>
<circle cx="177.61" cy="357.06" r="1.05" fill="#2e8b3e"/>
<circle cx="175.78" cy="361.34" r="1.05" fill="#2e8b3e"/>
<circle cx="178.04" cy="368.16" r="1.05" fill="#2e8b3e"/>
<circle cx="175.18" cy="374.27" r="1.05" fill="#2e8b3e"/>
<circle cx="176.66" cy="357.71" r="1.05" fill="#2e8b3e"/>
<circle cx="177.02" cy="361.30" r="1.05" fill="#2e8b3e"/>
<circle cx="174.92" cy="359.20" r="1.05" fill="#2e8b3e"/>
<circle cx="177.20" cy="353.32" r="1.05" fill="#2e8b3e"/>
<line x1="186.50" y1="410.00" x2="186.50" y2="411.20" stroke="#1a1a1a" stroke-width="0.5"/>
<line x1="186.50" y1="378.18" x2="186.50" y2="386.03" stroke="#ee2222" stroke-width="0.5"/>
<line x1="185.10" y1="378.18" x2="187.90" y2="378.18" stroke="#ee2222" stroke-width="0.5"/>
<line x1="185.10" y1="386.03" x2="187.90" y2="386.03" stroke="#ee2222" stroke-width="0.5"/>
<line x1="183.70" y1="382.11" x2="189.30" y2="382.11" stroke="#ee2222" stroke-width="0.6"/>
<circle cx="184.47" cy="382.83" r="1.05" fill="#ee2222"/>
<circle cx="186.34" cy="384.17" r="1.05" fill="#ee2222"/>
<circle cx="187.26" cy="380.96" r="1.05" fill="#ee2222"/>
<circle cx="186.49" cy="386.26" r="1.05" fill="#ee2222"/>
<circle cx="184.38" cy="385.55" r="1.05" fill="#ee2222"/>
<circle cx="188.05" cy="380.55" r="1.05" fill="#ee2222"/>
<circle cx="186.71" cy="381.97" r="1.05" fill="#ee2222"/>
<circle cx="185.08" cy="386.29" r="1.05" fill="#ee2222"/>
<line x1="167.30" y1="337.00" x2="175.60" y2="337.00" stroke="#555" stroke-width="0.5"/>
<line x1="167.30" y1="337.00" x2="167.30" y2="341.00" stroke="#555" stroke-width="0.5"/>
<line x1="175.60" y1="337.00" x2="175.60" y2="341.00" stroke="#555" stroke-width="0.5"/>
<line x1="177.60" y1="337.00" x2="186.50" y2="337.00" stroke="#555" stroke-width="0.5"/>
<line x1="177.60" y1="337.00" x2="177.60" y2="341.00" stroke="#555" stroke-width="0.5"/>
<line x1="186.50" y1="337.00" x2="186.50" y2="372.60" stroke="#555" stroke-width="0.5"/>
<text x="170.50" y="335.60" font-size="4.8" fill="#333" stroke="#333" stroke-width="0.12" transform="rotate(-45 170.50 335.60)">ns</text>
<text x="179.50" y="335.60" font-size="4.8" fill="#333" stroke="#333" stroke-width="0.12" transform="rotate(-45 179.50 335.60)">1.27E-6</text>
<text x="145.45" y="375.60" font-size="5.44" text-anchor="middle" stroke="#1a1a1a" stroke-width="0.12" transform="rotate(-90 145.45 375.60)">IP:ERRα IB:PGC1α/INPUT:ERRα</text>
<text x="170.90" y="416.10" font-size="6.0" text-anchor="end" stroke="#1a1a1a" stroke-width="0.12" transform="rotate(-45 170.90 416.10)">Vehicle</text>
<text x="180.10" y="416.10" font-size="6.0" text-anchor="end" stroke="#1a1a1a" stroke-width="0.12" transform="rotate(-45 180.10 416.10)">VCD</text>
<text x="189.20" y="416.10" font-size="6.0" text-anchor="end" stroke="#1a1a1a" stroke-width="0.12" transform="rotate(-45 189.20 416.10)">VCD</text>
<line x1="152.40" y1="430.90" x2="167.40" y2="430.90" stroke="#444" stroke-width="0.7"/>
<line x1="171.40" y1="430.90" x2="182.00" y2="430.90" stroke="#444" stroke-width="0.7"/>
<text x="159.00" y="437.84" font-size="6.0" text-anchor="middle" stroke="#1a1a1a" stroke-width="0.12">&lt;2.5</text>
<text x="176.80" y="437.84" font-size="6.0" text-anchor="middle" stroke="#1a1a1a" stroke-width="0.12">≥2.5</text>
<text x="169.20" y="445.84" font-size="6.0" text-anchor="middle" stroke="#1a1a1a" stroke-width="0.12">E2:P4 (pg/ng)</text>
<line x1="219.80" y1="335.50" x2="219.80" y2="409.00" stroke="#1a1a1a" stroke-width="0.6"/>
<line x1="219.80" y1="409.00" x2="251.00" y2="409.00" stroke="#1a1a1a" stroke-width="0.6"/>
<line x1="218.30" y1="408.20" x2="219.80" y2="408.20" stroke="#1a1a1a" stroke-width="0.5"/>
<text x="217.30" y="410.24" font-size="6.0" text-anchor="end" stroke="#1a1a1a" stroke-width="0.12">0.0</text>
<line x1="218.30" y1="384.90" x2="219.80" y2="384.90" stroke="#1a1a1a" stroke-width="0.5"/>
<text x="217.30" y="386.94" font-size="6.0" text-anchor="end" stroke="#1a1a1a" stroke-width="0.12">0.2</text>
<line x1="218.30" y1="361.60" x2="219.80" y2="361.60" stroke="#1a1a1a" stroke-width="0.5"/>
<text x="217.30" y="363.64" font-size="6.0" text-anchor="end" stroke="#1a1a1a" stroke-width="0.12">0.4</text>
<line x1="218.30" y1="338.30" x2="219.80" y2="338.30" stroke="#1a1a1a" stroke-width="0.5"/>
<text x="217.30" y="340.34" font-size="6.0" text-anchor="end" stroke="#1a1a1a" stroke-width="0.12">0.6</text>
<line x1="225.30" y1="409.00" x2="225.30" y2="410.20" stroke="#1a1a1a" stroke-width="0.5"/>
<line x1="225.30" y1="345.29" x2="225.30" y2="354.61" stroke="#1f1fee" stroke-width="0.5"/>
<line x1="223.90" y1="345.29" x2="226.70" y2="345.29" stroke="#1f1fee" stroke-width="0.5"/>
<line x1="223.90" y1="354.61" x2="226.70" y2="354.61" stroke="#1f1fee" stroke-width="0.5"/>
<line x1="222.50" y1="349.95" x2="228.10" y2="349.95" stroke="#1f1fee" stroke-width="0.6"/>
<circle cx="224.17" cy="353.88" r="1.05" fill="#1f1fee"/>
<circle cx="226.71" cy="351.15" r="1.05" fill="#1f1fee"/>
<circle cx="224.12" cy="361.19" r="1.05" fill="#1f1fee"/>
<circle cx="224.85" cy="354.55" r="1.05" fill="#1f1fee"/>
<circle cx="227.36" cy="351.80" r="1.05" fill="#1f1fee"/>
<circle cx="225.87" cy="356.95" r="1.05" fill="#1f1fee"/>
<circle cx="225.68" cy="361.18" r="1.05" fill="#1f1fee"/>
<circle cx="224.88" cy="338.99" r="1.05" fill="#1f1fee"/>
<circle cx="227.43" cy="350.44" r="1.05" fill="#1f1fee"/>
<line x1="234.70" y1="409.00" x2="234.70" y2="410.20" stroke="#1a1a1a" stroke-width="0.5"/>
<line x1="234.70" y1="346.45" x2="234.70" y2="360.44" stroke="#2e8b3e" stroke-width="0.5"/>
<line x1="233.30" y1="346.45" x2="236.10" y2="346.45" stroke="#2e8b3e" stroke-width="0.5"/>
<line x1="233.30" y1="360.44" x2="236.10" y2="360.44" stroke="#2e8b3e" stroke-width="0.5"/>
<line x1="231.90" y1="353.44" x2="237.50" y2="353.44" stroke="#2e8b3e" stroke-width="0.6"/>
<circle cx="236.80" cy="344.90" r="1.05" fill="#2e8b3e"/>
<circle cx="234.63" cy="351.15" r="1.05" fill="#2e8b3e"/>
<circle cx="236.64" cy="366.59" r="1.05" fill="#2e8b3e"/>
<circle cx="233.20" cy="346.67" r="1.05" fill="#2e8b3e"/>
<circle cx="236.88" cy="358.09" r="1.05" fill="#2e8b3e"/>
<circle cx="234.02" cy="352.49" r="1.05" fill="#2e8b3e"/>
<circle cx="235.28" cy="348.41" r="1.05" fill="#2e8b3e"/>
<circle cx="232.55" cy="353.26" r="1.05" fill="#2e8b3e"/>
<line x1="244.00" y1="409.00" x2="244.00" y2="410.20" stroke="#1a1a1a" stroke-width="0.5"/>
<line x1="244.00" y1="358.11" x2="244.00" y2="383.74" stroke="#ee2222" stroke-width="0.5"/>
<line x1="242.60" y1="358.11" x2="245.40" y2="358.11" stroke="#ee2222" stroke-width="0.5"/>
<line x1="242.60" y1="383.74" x2="245.40" y2="383.74" stroke="#ee2222" stroke-width="0.5"/>
<line x1="241.20" y1="370.92" x2="246.80" y2="370.92" stroke="#ee2222" stroke-width="0.6"/>
<circle cx="244.52" cy="361.00" r="1.05" fill="#ee2222"/>
<circle cx="244.93" cy="379.11" r="1.05" fill="#ee2222"/>
<circle cx="245.92" cy="389.72" r="1.05" fill="#ee2222"/>
<circle cx="245.00" cy="373.36" r="1.05" fill="#ee2222"/>
<circle cx="245.58" cy="364.01" r="1.05" fill="#ee2222"/>
<circle cx="246.19" cy="369.29" r="1.05" fill="#ee2222"/>
<circle cx="245.09" cy="372.24" r="1.05" fill="#ee2222"/>
<circle cx="242.54" cy="351.78" r="1.05" fill="#ee2222"/>
<line x1="225.30" y1="333.00" x2="233.70" y2="333.00" stroke="#555" stroke-width="0.5"/>
<line x1="225.30" y1="333.00" x2="225.30" y2="337.00" stroke="#555" stroke-width="0.5"/>
<line x1="233.70" y1="333.00" x2="233.70" y2="337.00" stroke="#555" stroke-width="0.5"/>
<line x1="235.20" y1="333.00" x2="244.30" y2="333.00" stroke="#555" stroke-width="0.5"/>
<line x1="235.20" y1="333.00" x2="235.20" y2="337.00" stroke="#555" stroke-width="0.5"/>
<line x1="244.30" y1="333.00" x2="244.30" y2="345.80" stroke="#555" stroke-width="0.5"/>
<text x="228.50" y="331.60" font-size="4.8" fill="#333" stroke="#333" stroke-width="0.12" transform="rotate(-45 228.50 331.60)">ns</text>
<text x="238.00" y="331.60" font-size="4.8" fill="#333" stroke="#333" stroke-width="0.12" transform="rotate(-45 238.00 331.60)">0.005</text>
<text x="204.87" y="380.60" font-size="5.5" text-anchor="middle" stroke="#1a1a1a" stroke-width="0.12" transform="rotate(-90 204.87 380.60)">IP:PGC1α IB:ERRα/INPUT:PGC1α</text>
<text x="229.60" y="416.10" font-size="6.0" text-anchor="end" stroke="#1a1a1a" stroke-width="0.12" transform="rotate(-45 229.60 416.10)">Vehicle</text>
<text x="238.80" y="416.10" font-size="6.0" text-anchor="end" stroke="#1a1a1a" stroke-width="0.12" transform="rotate(-45 238.80 416.10)">VCD</text>
<text x="247.90" y="416.10" font-size="6.0" text-anchor="end" stroke="#1a1a1a" stroke-width="0.12" transform="rotate(-45 247.90 416.10)">VCD</text>
<line x1="210.00" y1="431.10" x2="225.00" y2="431.10" stroke="#444" stroke-width="0.7"/>
<line x1="229.00" y1="431.10" x2="240.50" y2="431.10" stroke="#444" stroke-width="0.7"/>
<text x="216.00" y="438.04" font-size="6.0" text-anchor="middle" stroke="#1a1a1a" stroke-width="0.12">&lt;2.5</text>
<text x="235.00" y="438.04" font-size="6.0" text-anchor="middle" stroke="#1a1a1a" stroke-width="0.12">≥2.5</text>
<text x="227.50" y="446.04" font-size="6.0" text-anchor="middle" stroke="#1a1a1a" stroke-width="0.12">E2:P4 (pg/ng)</text>
<line x1="277.10" y1="335.50" x2="277.10" y2="409.40" stroke="#1a1a1a" stroke-width="0.6"/>
<line x1="277.10" y1="409.40" x2="306.00" y2="409.40" stroke="#1a1a1a" stroke-width="0.6"/>
<line x1="275.60" y1="408.60" x2="277.10" y2="408.60" stroke="#1a1a1a" stroke-width="0.5"/>
<text x="274.90" y="410.64" font-size="6.0" text-anchor="end" stroke="#1a1a1a" stroke-width="0.12">0.0</text>
<line x1="275.60" y1="385.30" x2="277.10" y2="385.30" stroke="#1a1a1a" stroke-width="0.5"/>
<text x="274.90" y="387.34" font-size="6.0" text-anchor="end" stroke="#1a1a1a" stroke-width="0.12">0.5</text>
<line x1="275.60" y1="362.00" x2="277.10" y2="362.00" stroke="#1a1a1a" stroke-width="0.5"/>
<text x="274.90" y="364.04" font-size="6.0" text-anchor="end" stroke="#1a1a1a" stroke-width="0.12">1.0</text>
<line x1="275.60" y1="338.70" x2="277.10" y2="338.70" stroke="#1a1a1a" stroke-width="0.5"/>
<text x="274.90" y="340.74" font-size="6.0" text-anchor="end" stroke="#1a1a1a" stroke-width="0.12">1.5</text>
<line x1="282.30" y1="409.40" x2="282.30" y2="410.60" stroke="#1a1a1a" stroke-width="0.5"/>
<line x1="282.30" y1="344.76" x2="282.30" y2="351.28" stroke="#1f1fee" stroke-width="0.5"/>
<line x1="280.90" y1="344.76" x2="283.70" y2="344.76" stroke="#1f1fee" stroke-width="0.5"/>
<line x1="280.90" y1="351.28" x2="283.70" y2="351.28" stroke="#1f1fee" stroke-width="0.5"/>
<line x1="279.50" y1="348.02" x2="285.10" y2="348.02" stroke="#1f1fee" stroke-width="0.6"/>
<circle cx="282.28" cy="353.59" r="1.05" fill="#1f1fee"/>
<circle cx="281.51" cy="350.09" r="1.05" fill="#1f1fee"/>
<circle cx="281.51" cy="349.34" r="1.05" fill="#1f1fee"/>
<circle cx="281.68" cy="351.55" r="1.05" fill="#1f1fee"/>
<circle cx="281.88" cy="348.97" r="1.05" fill="#1f1fee"/>
<circle cx="282.88" cy="346.29" r="1.05" fill="#1f1fee"/>
<circle cx="284.03" cy="349.76" r="1.05" fill="#1f1fee"/>
<circle cx="281.59" cy="352.31" r="1.05" fill="#1f1fee"/>
<circle cx="282.01" cy="344.77" r="1.05" fill="#1f1fee"/>
<line x1="290.70" y1="409.40" x2="290.70" y2="410.60" stroke="#1a1a1a" stroke-width="0.5"/>
<line x1="290.70" y1="345.22" x2="290.70" y2="356.41" stroke="#2e8b3e" stroke-width="0.5"/>
<line x1="289.30" y1="345.22" x2="292.10" y2="345.22" stroke="#2e8b3e" stroke-width="0.5"/>
<line x1="289.30" y1="356.41" x2="292.10" y2="356.41" stroke="#2e8b3e" stroke-width="0.5"/>
<line x1="287.90" y1="350.82" x2="293.50" y2="350.82" stroke="#2e8b3e" stroke-width="0.6"/>
<circle cx="292.58" cy="343.91" r="1.05" fill="#2e8b3e"/>
<circle cx="289.55" cy="337.67" r="1.05" fill="#2e8b3e"/>
<circle cx="290.54" cy="346.62" r="1.05" fill="#2e8b3e"/>
<circle cx="290.74" cy="353.96" r="1.05" fill="#2e8b3e"/>
<circle cx="289.21" cy="335.05" r="1.05" fill="#2e8b3e"/>
<circle cx="289.26" cy="354.74" r="1.05" fill="#2e8b3e"/>
<circle cx="289.04" cy="357.48" r="1.05" fill="#2e8b3e"/>
<circle cx="291.91" cy="349.66" r="1.05" fill="#2e8b3e"/>
<line x1="300.50" y1="409.40" x2="300.50" y2="410.60" stroke="#1a1a1a" stroke-width="0.5"/>
<line x1="300.50" y1="368.99" x2="300.50" y2="375.51" stroke="#ee2222" stroke-width="0.5"/>
<line x1="299.10" y1="368.99" x2="301.90" y2="368.99" stroke="#ee2222" stroke-width="0.5"/>
<line x1="299.10" y1="375.51" x2="301.90" y2="375.51" stroke="#ee2222" stroke-width="0.5"/>
<line x1="297.70" y1="372.25" x2="303.30" y2="372.25" stroke="#ee2222" stroke-width="0.6"/>
<circle cx="300.26" cy="374.21" r="1.05" fill="#ee2222"/>
<circle cx="300.43" cy="365.38" r="1.05" fill="#ee2222"/>
<circle cx="298.68" cy="372.25" r="1.05" fill="#ee2222"/>
<circle cx="299.19" cy="373.54" r="1.05" fill="#ee2222"/>
<circle cx="298.63" cy="376.60" r="1.05" fill="#ee2222"/>
<circle cx="300.99" cy="376.78" r="1.05" fill="#ee2222"/>
<circle cx="299.28" cy="368.54" r="1.05" fill="#ee2222"/>
<line x1="282.30" y1="333.40" x2="290.70" y2="333.40" stroke="#555" stroke-width="0.5"/>
<line x1="282.30" y1="333.40" x2="282.30" y2="337.40" stroke="#555" stroke-width="0.5"/>
<line x1="290.70" y1="333.40" x2="290.70" y2="337.40" stroke="#555" stroke-width="0.5"/>
<line x1="292.50" y1="333.40" x2="300.50" y2="333.40" stroke="#555" stroke-width="0.5"/>
<line x1="292.50" y1="333.40" x2="292.50" y2="337.40" stroke="#555" stroke-width="0.5"/>
<line x1="300.50" y1="333.40" x2="300.50" y2="363.00" stroke="#555" stroke-width="0.5"/>
<text x="286.00" y="332.00" font-size="4.8" fill="#333" stroke="#333" stroke-width="0.12" transform="rotate(-45 286.00 332.00)">ns</text>
<text x="295.00" y="332.00" font-size="4.8" fill="#333" stroke="#333" stroke-width="0.12" transform="rotate(-45 295.00 332.00)">3.26E-8</text>
<text x="263.47" y="369.50" font-size="6.1" text-anchor="middle" stroke="#1a1a1a" stroke-width="0.12" transform="rotate(-90 263.47 369.50)">INPUT PGC1α/INPUT Actin</text>
<text x="284.70" y="415.20" font-size="6.0" text-anchor="end" stroke="#1a1a1a" stroke-width="0.12" transform="rotate(-45 284.70 415.20)">Vehicle</text>
<text x="293.90" y="415.20" font-size="6.0" text-anchor="end" stroke="#1a1a1a" stroke-width="0.12" transform="rotate(-45 293.90 415.20)">VCD</text>
<text x="303.00" y="415.20" font-size="6.0" text-anchor="end" stroke="#1a1a1a" stroke-width="0.12" transform="rotate(-45 303.00 415.20)">VCD</text>
<line x1="267.00" y1="430.10" x2="281.40" y2="430.10" stroke="#444" stroke-width="0.7"/>
<line x1="285.90" y1="430.10" x2="295.90" y2="430.10" stroke="#444" stroke-width="0.7"/>
<text x="272.30" y="437.64" font-size="6.0" text-anchor="middle" stroke="#1a1a1a" stroke-width="0.12">&lt;2.5</text>
<text x="291.20" y="437.64" font-size="6.0" text-anchor="middle" stroke="#1a1a1a" stroke-width="0.12">≥2.5</text>
<text x="283.30" y="445.44" font-size="6.0" text-anchor="middle" stroke="#1a1a1a" stroke-width="0.12">E2:P4 (pg/ng)</text>
<text x="348.50" y="328.44" font-size="6.0" text-anchor="middle" stroke="#1a1a1a" stroke-width="0.12" font-style="italic">Ppargc1a/Rpl13a</text>
<rect x="336.00" y="376.22" width="10.30" height="32.78" fill="#1f1fee" stroke="#111" stroke-width="0.6"/>
<circle cx="344.96" cy="372.35" r="0.80" fill="#111"/>
<circle cx="345.09" cy="381.64" r="0.80" fill="#111"/>
<circle cx="338.73" cy="375.87" r="0.80" fill="#111"/>
<circle cx="342.66" cy="372.08" r="0.80" fill="#111"/>
<circle cx="339.96" cy="381.55" r="0.80" fill="#111"/>
<circle cx="339.95" cy="367.67" r="0.80" fill="#111"/>
<circle cx="338.37" cy="367.38" r="0.80" fill="#111"/>
<circle cx="340.65" cy="377.41" r="0.80" fill="#111"/>
<circle cx="339.17" cy="359.77" r="0.80" fill="#111"/>
<circle cx="339.15" cy="370.42" r="0.80" fill="#111"/>
<circle cx="337.34" cy="375.60" r="0.80" fill="#111"/>
<circle cx="340.30" cy="368.79" r="0.80" fill="#111"/>
<circle cx="340.49" cy="371.94" r="0.80" fill="#111"/>
<circle cx="341.67" cy="374.23" r="0.80" fill="#111"/>
<circle cx="339.59" cy="373.17" r="0.80" fill="#111"/>
<circle cx="341.75" cy="372.00" r="0.80" fill="#111"/>
<circle cx="343.13" cy="370.80" r="0.80" fill="#111"/>
<circle cx="342.12" cy="375.41" r="0.80" fill="#111"/>
<circle cx="338.69" cy="372.66" r="0.80" fill="#111"/>
<circle cx="342.74" cy="364.52" r="0.80" fill="#111"/>
<circle cx="339.13" cy="368.84" r="0.80" fill="#111"/>
<circle cx="344.96" cy="376.36" r="0.80" fill="#111"/>
<circle cx="341.95" cy="369.23" r="0.80" fill="#111"/>
<circle cx="342.14" cy="376.21" r="0.80" fill="#111"/>
<circle cx="339.66" cy="377.09" r="0.80" fill="#111"/>
<circle cx="339.72" cy="369.35" r="0.80" fill="#111"/>
<circle cx="344.82" cy="363.76" r="0.80" fill="#111"/>
<circle cx="340.79" cy="375.09" r="0.80" fill="#111"/>
<circle cx="339.50" cy="371.72" r="0.80" fill="#111"/>
<circle cx="340.54" cy="370.42" r="0.80" fill="#111"/>
<circle cx="342.65" cy="371.90" r="0.80" fill="#111"/>
<circle cx="342.56" cy="377.52" r="0.80" fill="#111"/>
<circle cx="339.48" cy="370.84" r="0.80" fill="#111"/>
<circle cx="341.43" cy="374.27" r="0.80" fill="#111"/>
<circle cx="341.39" cy="378.76" r="0.80" fill="#111"/>
<circle cx="343.93" cy="372.31" r="0.80" fill="#111"/>
<circle cx="342.51" cy="371.34" r="0.80" fill="#111"/>
<circle cx="344.96" cy="375.54" r="0.80" fill="#111"/>
<circle cx="343.08" cy="370.85" r="0.80" fill="#111"/>
<circle cx="338.48" cy="372.04" r="0.80" fill="#111"/>
<circle cx="344.33" cy="375.82" r="0.80" fill="#111"/>
<circle cx="340.75" cy="365.28" r="0.80" fill="#111"/>
<circle cx="337.69" cy="378.49" r="0.80" fill="#111"/>
<circle cx="344.39" cy="376.19" r="0.80" fill="#111"/>
<circle cx="338.70" cy="378.56" r="0.80" fill="#111"/>
<circle cx="337.31" cy="375.18" r="0.80" fill="#111"/>
<circle cx="338.22" cy="379.33" r="0.80" fill="#111"/>
<circle cx="342.29" cy="380.14" r="0.80" fill="#111"/>
<circle cx="337.24" cy="368.69" r="0.80" fill="#111"/>
<circle cx="344.08" cy="361.95" r="0.80" fill="#111"/>
<circle cx="338.29" cy="359.83" r="0.65" fill="#111"/>
<circle cx="342.27" cy="354.58" r="0.65" fill="#111"/>
<circle cx="343.00" cy="356.59" r="0.65" fill="#111"/>
<circle cx="339.89" cy="352.72" r="0.65" fill="#111"/>
<circle cx="337.63" cy="360.01" r="0.65" fill="#111"/>
<line x1="341.15" y1="367.73" x2="341.15" y2="384.71" stroke="#111" stroke-width="0.5"/>
<line x1="339.15" y1="367.73" x2="343.15" y2="367.73" stroke="#111" stroke-width="0.5"/>
<rect x="349.00" y="374.81" width="9.90" height="34.19" fill="#2e8b3e" stroke="#111" stroke-width="0.6"/>
<circle cx="352.78" cy="380.05" r="0.80" fill="#111"/>
<circle cx="353.01" cy="371.08" r="0.80" fill="#111"/>
<circle cx="357.52" cy="374.19" r="0.80" fill="#111"/>
<circle cx="352.77" cy="381.42" r="0.80" fill="#111"/>
<circle cx="351.86" cy="368.38" r="0.80" fill="#111"/>
<circle cx="353.55" cy="379.04" r="0.80" fill="#111"/>
<circle cx="350.33" cy="374.42" r="0.80" fill="#111"/>
<circle cx="352.11" cy="372.11" r="0.80" fill="#111"/>
<circle cx="354.96" cy="376.57" r="0.80" fill="#111"/>
<circle cx="353.93" cy="371.20" r="0.80" fill="#111"/>
<circle cx="354.49" cy="378.95" r="0.80" fill="#111"/>
<circle cx="357.35" cy="361.17" r="0.80" fill="#111"/>
<circle cx="353.03" cy="374.37" r="0.80" fill="#111"/>
<circle cx="351.30" cy="376.24" r="0.80" fill="#111"/>
<circle cx="355.17" cy="368.57" r="0.80" fill="#111"/>
<circle cx="356.76" cy="372.30" r="0.80" fill="#111"/>
<circle cx="353.95" cy="377.73" r="0.80" fill="#111"/>
<circle cx="350.80" cy="376.06" r="0.80" fill="#111"/>
<circle cx="352.48" cy="358.01" r="0.80" fill="#111"/>
<circle cx="352.91" cy="370.09" r="0.80" fill="#111"/>
<circle cx="352.20" cy="377.64" r="0.80" fill="#111"/>
<circle cx="351.30" cy="374.94" r="0.80" fill="#111"/>
<circle cx="355.02" cy="360.12" r="0.80" fill="#111"/>
<circle cx="354.54" cy="364.06" r="0.80" fill="#111"/>
<circle cx="355.82" cy="371.21" r="0.80" fill="#111"/>
<circle cx="356.42" cy="366.87" r="0.80" fill="#111"/>
<circle cx="355.99" cy="375.22" r="0.80" fill="#111"/>
<circle cx="353.93" cy="366.47" r="0.80" fill="#111"/>
<circle cx="355.99" cy="367.55" r="0.80" fill="#111"/>
<circle cx="355.45" cy="382.19" r="0.80" fill="#111"/>
<circle cx="352.28" cy="372.60" r="0.80" fill="#111"/>
<circle cx="355.21" cy="379.55" r="0.80" fill="#111"/>
<circle cx="356.32" cy="371.04" r="0.80" fill="#111"/>
<circle cx="352.85" cy="379.39" r="0.80" fill="#111"/>
<circle cx="352.93" cy="371.32" r="0.80" fill="#111"/>
<circle cx="355.79" cy="372.80" r="0.80" fill="#111"/>
<circle cx="352.86" cy="370.64" r="0.80" fill="#111"/>
<circle cx="350.68" cy="371.16" r="0.80" fill="#111"/>
<circle cx="354.79" cy="373.39" r="0.80" fill="#111"/>
<circle cx="354.99" cy="375.59" r="0.80" fill="#111"/>
<circle cx="356.25" cy="372.38" r="0.80" fill="#111"/>
<circle cx="351.62" cy="369.51" r="0.80" fill="#111"/>
<circle cx="355.45" cy="371.02" r="0.80" fill="#111"/>
<circle cx="356.04" cy="371.50" r="0.80" fill="#111"/>
<circle cx="351.31" cy="374.49" r="0.80" fill="#111"/>
<circle cx="355.28" cy="377.32" r="0.80" fill="#111"/>
<circle cx="356.60" cy="375.42" r="0.80" fill="#111"/>
<circle cx="351.27" cy="367.01" r="0.80" fill="#111"/>
<circle cx="355.45" cy="364.67" r="0.80" fill="#111"/>
<circle cx="356.39" cy="357.51" r="0.80" fill="#111"/>
<circle cx="354.21" cy="356.57" r="0.65" fill="#111"/>
<circle cx="354.54" cy="356.96" r="0.65" fill="#111"/>
<circle cx="355.07" cy="355.95" r="0.65" fill="#111"/>
<circle cx="352.52" cy="353.08" r="0.65" fill="#111"/>
<circle cx="351.37" cy="354.49" r="0.65" fill="#111"/>
<line x1="353.95" y1="366.32" x2="353.95" y2="383.30" stroke="#111" stroke-width="0.5"/>
<line x1="351.95" y1="366.32" x2="355.95" y2="366.32" stroke="#111" stroke-width="0.5"/>
<rect x="361.70" y="375.09" width="9.90" height="33.91" fill="#ee2222" stroke="#111" stroke-width="0.6"/>
<circle cx="366.36" cy="373.72" r="0.80" fill="#111"/>
<circle cx="366.55" cy="367.86" r="0.80" fill="#111"/>
<circle cx="364.81" cy="370.93" r="0.80" fill="#111"/>
<circle cx="363.09" cy="375.42" r="0.80" fill="#111"/>
<circle cx="366.15" cy="371.18" r="0.80" fill="#111"/>
<circle cx="369.93" cy="378.75" r="0.80" fill="#111"/>
<circle cx="369.32" cy="377.75" r="0.80" fill="#111"/>
<circle cx="368.88" cy="373.34" r="0.80" fill="#111"/>
<circle cx="364.53" cy="363.66" r="0.80" fill="#111"/>
<circle cx="364.93" cy="382.20" r="0.80" fill="#111"/>
<circle cx="364.68" cy="375.30" r="0.80" fill="#111"/>
<circle cx="367.50" cy="373.14" r="0.80" fill="#111"/>
<circle cx="370.19" cy="365.68" r="0.80" fill="#111"/>
<circle cx="363.97" cy="369.58" r="0.80" fill="#111"/>
<circle cx="368.21" cy="364.78" r="0.80" fill="#111"/>
<circle cx="369.34" cy="372.60" r="0.80" fill="#111"/>
<circle cx="365.85" cy="376.40" r="0.80" fill="#111"/>
<circle cx="368.29" cy="368.97" r="0.80" fill="#111"/>
<circle cx="366.57" cy="369.68" r="0.80" fill="#111"/>
<circle cx="369.83" cy="371.67" r="0.80" fill="#111"/>
<circle cx="365.79" cy="372.08" r="0.80" fill="#111"/>
<circle cx="365.96" cy="367.84" r="0.80" fill="#111"/>
<circle cx="369.90" cy="364.76" r="0.80" fill="#111"/>
<circle cx="366.91" cy="375.61" r="0.80" fill="#111"/>
<circle cx="363.24" cy="372.50" r="0.80" fill="#111"/>
<circle cx="368.32" cy="374.29" r="0.80" fill="#111"/>
<circle cx="366.01" cy="377.25" r="0.80" fill="#111"/>
<circle cx="367.33" cy="366.01" r="0.80" fill="#111"/>
<circle cx="364.07" cy="368.98" r="0.80" fill="#111"/>
<circle cx="364.44" cy="379.05" r="0.80" fill="#111"/>
<circle cx="370.23" cy="377.23" r="0.80" fill="#111"/>
<circle cx="363.91" cy="377.49" r="0.80" fill="#111"/>
<circle cx="365.99" cy="367.33" r="0.80" fill="#111"/>
<circle cx="364.94" cy="368.13" r="0.80" fill="#111"/>
<circle cx="369.60" cy="372.93" r="0.80" fill="#111"/>
<circle cx="364.18" cy="368.36" r="0.80" fill="#111"/>
<circle cx="363.40" cy="369.17" r="0.80" fill="#111"/>
<circle cx="363.42" cy="374.93" r="0.80" fill="#111"/>
<circle cx="367.64" cy="379.26" r="0.80" fill="#111"/>
<circle cx="367.60" cy="370.99" r="0.80" fill="#111"/>
<circle cx="366.30" cy="371.87" r="0.80" fill="#111"/>
<circle cx="362.91" cy="368.19" r="0.80" fill="#111"/>
<circle cx="365.68" cy="372.61" r="0.80" fill="#111"/>
<circle cx="366.53" cy="380.52" r="0.80" fill="#111"/>
<circle cx="366.22" cy="374.27" r="0.80" fill="#111"/>
<circle cx="366.52" cy="378.93" r="0.80" fill="#111"/>
<circle cx="369.90" cy="367.26" r="0.80" fill="#111"/>
<circle cx="364.31" cy="381.75" r="0.80" fill="#111"/>
<circle cx="368.03" cy="369.23" r="0.80" fill="#111"/>
<circle cx="368.49" cy="368.24" r="0.80" fill="#111"/>
<circle cx="367.33" cy="354.05" r="0.65" fill="#111"/>
<circle cx="368.45" cy="356.09" r="0.65" fill="#111"/>
<circle cx="366.87" cy="360.37" r="0.65" fill="#111"/>
<circle cx="363.85" cy="357.38" r="0.65" fill="#111"/>
<circle cx="366.62" cy="358.71" r="0.65" fill="#111"/>
<line x1="366.65" y1="366.60" x2="366.65" y2="383.58" stroke="#111" stroke-width="0.5"/>
<line x1="364.65" y1="366.60" x2="368.65" y2="366.60" stroke="#111" stroke-width="0.5"/>
<line x1="332.70" y1="334.50" x2="332.70" y2="409.00" stroke="#1a1a1a" stroke-width="0.6"/>
<line x1="332.70" y1="409.00" x2="374.00" y2="409.00" stroke="#1a1a1a" stroke-width="0.6"/>
<line x1="331.20" y1="408.20" x2="332.70" y2="408.20" stroke="#1a1a1a" stroke-width="0.5"/>
<text x="330.90" y="410.24" font-size="6.0" text-anchor="end" stroke="#1a1a1a" stroke-width="0.12">0.0</text>
<line x1="331.20" y1="394.05" x2="332.70" y2="394.05" stroke="#1a1a1a" stroke-width="0.5"/>
<text x="330.90" y="396.09" font-size="6.0" text-anchor="end" stroke="#1a1a1a" stroke-width="0.12">0.5</text>
<line x1="331.20" y1="379.90" x2="332.70" y2="379.90" stroke="#1a1a1a" stroke-width="0.5"/>
<text x="330.90" y="381.94" font-size="6.0" text-anchor="end" stroke="#1a1a1a" stroke-width="0.12">1.0</text>
<line x1="331.20" y1="365.75" x2="332.70" y2="365.75" stroke="#1a1a1a" stroke-width="0.5"/>
<text x="330.90" y="367.79" font-size="6.0" text-anchor="end" stroke="#1a1a1a" stroke-width="0.12">1.5</text>
<line x1="331.20" y1="351.60" x2="332.70" y2="351.60" stroke="#1a1a1a" stroke-width="0.5"/>
<text x="330.90" y="353.64" font-size="6.0" text-anchor="end" stroke="#1a1a1a" stroke-width="0.12">2.0</text>
<line x1="331.20" y1="337.45" x2="332.70" y2="337.45" stroke="#1a1a1a" stroke-width="0.5"/>
<text x="330.90" y="339.49" font-size="6.0" text-anchor="end" stroke="#1a1a1a" stroke-width="0.12">2.5</text>
<line x1="340.80" y1="345.50" x2="350.80" y2="345.50" stroke="#444" stroke-width="0.5"/>
<line x1="356.60" y1="345.50" x2="366.80" y2="345.50" stroke="#444" stroke-width="0.5"/>
<text x="353.60" y="346.70" font-size="5.0" text-anchor="middle" fill="#444" stroke="#444" stroke-width="0.12">ns</text>
<text x="316.38" y="374.00" font-size="5.82" text-anchor="middle" stroke="#1a1a1a" stroke-width="0.12" transform="rotate(-90 316.38 374.00)">Fold change relative to Vehicle</text>
<text x="347.20" y="415.20" font-size="6.0" text-anchor="end" stroke="#1a1a1a" stroke-width="0.12" transform="rotate(-45 347.20 415.20)">Vehicle</text>
<text x="356.50" y="415.20" font-size="6.0" text-anchor="end" stroke="#1a1a1a" stroke-width="0.12" transform="rotate(-45 356.50 415.20)">VCD</text>
<text x="366.10" y="415.20" font-size="6.0" text-anchor="end" stroke="#1a1a1a" stroke-width="0.12" transform="rotate(-45 366.10 415.20)">VCD</text>
<line x1="329.20" y1="430.30" x2="343.70" y2="430.30" stroke="#444" stroke-width="0.7"/>
<line x1="348.00" y1="430.30" x2="358.10" y2="430.30" stroke="#444" stroke-width="0.7"/>
<text x="335.20" y="437.64" font-size="6.0" text-anchor="middle" stroke="#1a1a1a" stroke-width="0.12">&lt;2.5</text>
<text x="353.60" y="437.64" font-size="6.0" text-anchor="middle" stroke="#1a1a1a" stroke-width="0.12">≥2.5</text>
<text x="345.70" y="445.44" font-size="6.0" text-anchor="middle" stroke="#1a1a1a" stroke-width="0.12">E2:P4 (pg/ng)</text>
<g filter="url(#blurP)">
<path d="M420,331 C428,334 434,333 436,340 C440,345 446,348 449,353" fill="none" stroke="#1e1ef2" stroke-width="0.8"/>
<path d="M421,333 C429,336 433,336 435,342 C439,347 444,349 447,352" fill="none" stroke="#3cd02c" stroke-width="0.6"/>
<path d="M449,354 L451,362" fill="none" stroke="#1e1ef2" stroke-width="0.8"/>
<path d="M381,349 C379,356 384,360 391,357" fill="none" stroke="#3cd02c" stroke-width="0.8"/>
<path d="M382,351 C381,358 388,361 394,357" fill="none" stroke="#1e1ef2" stroke-width="0.7"/>
<path d="M404,320 C408,318 410,322 406,324" fill="none" stroke="#1e1ef2" stroke-width="0.8"/>
<path d="M441,372 C446,370 447,366 446,362" fill="none" stroke="#1e1ef2" stroke-width="0.8"/>
<path d="M410,380 C416,385 424,385 430,381" fill="none" stroke="#3cd02c" stroke-width="0.8"/>
<path d="M412,382 C418,385 426,384 432,380" fill="none" stroke="#1e1ef2" stroke-width="0.8"/>
<path d="M393,336 C399,332 405,331 411,334" fill="none" stroke="#1e1ef2" stroke-width="0.8"/>
<path d="M426,364 C430,370 430,376 436,378" fill="none" stroke="#3cd02c" stroke-width="0.7"/>
<path d="M398,356 C395,362 397,370 404,372" fill="none" stroke="#1e1ef2" stroke-width="0.8"/>
<path d="M380,342 C378,350 380,358 388,360 C392,358 394,354 396,352" fill="none" stroke="#1e1ef2" stroke-width="0.8"/>
<path d="M381,343 C380,351 383,357 389,359" fill="none" stroke="#3cd02c" stroke-width="0.7"/>
<path d="M416,363 C420,367 424,372 428,376" fill="none" stroke="#3cd02c" stroke-width="0.7"/>
<circle cx="400.7" cy="321.2" r="3.3" fill="none" stroke="#0c0c9a" stroke-width="2.6"/>
<circle cx="400.7" cy="321.2" r="3.3" fill="none" stroke="#1e1ef2" stroke-width="1.8"/>
<path d="M398,318.5 a3.3,3.3 0 0 1 5.5,0.5" fill="none" stroke="#3cd02c" stroke-width="1.2"/>
<line x1="406.0" y1="321.0" x2="424.0" y2="328.5" stroke="#1f8a18" stroke-width="5.8" stroke-linecap="round"/>
<line x1="406.0" y1="321.0" x2="424.0" y2="328.5" stroke="#3cd02c" stroke-width="4.8" stroke-linecap="round"/>
<path d="M404.3,322.8 L407.7,319.2 M406.3,323.6 L409.7,320.0 M408.3,324.5 L411.7,320.9 M410.3,325.3 L413.7,321.7 M412.3,326.1 L415.7,322.5 M414.3,327.0 L417.7,323.4 M416.3,327.8 L419.7,324.2 M418.3,328.6 L421.7,325.0 M420.3,329.5 L423.7,325.9 M422.3,330.3 L425.7,326.7" stroke="#1f8a18" stroke-width="0.7" stroke-opacity="0.8"/>
<path d="M406.3,323.6 L409.7,320.0 M412.3,326.1 L415.7,322.5 M418.3,328.6 L421.7,325.0" stroke="#1e1ef2" stroke-width="1.1"/>
<path d="M406.7,322.1 l0.5,-1.2 M408.7,323.0 l0.5,-1.2 M410.7,323.8 l0.5,-1.2 M412.7,324.6 l0.5,-1.2 M414.7,325.5 l0.5,-1.2 M416.7,326.3 l0.5,-1.2 M418.7,327.1 l0.5,-1.2 M420.7,328.0 l0.5,-1.2 M422.7,328.8 l0.5,-1.2" stroke="#ffffff" stroke-width="0.6" stroke-opacity="0.55"/>
<line x1="408.0" y1="322.0" x2="414.0" y2="324.5" stroke="#0c0c9a" stroke-width="4.8" stroke-linecap="round"/>
<line x1="408.0" y1="322.0" x2="414.0" y2="324.5" stroke="#1e1ef2" stroke-width="3.8" stroke-linecap="round"/>
<path d="M406.4,323.4 L409.6,320.6 M408.4,324.2 L411.6,321.4 M410.4,325.1 L413.6,322.3 M412.4,325.9 L415.6,323.1" stroke="#0c0c9a" stroke-width="0.7" stroke-opacity="0.8"/>
<path d="M408.4,324.2 L411.6,321.4" stroke="#3cd02c" stroke-width="1.1"/>
<path d="M408.8,323.0 l0.4,-1.0 M410.8,323.8 l0.4,-1.0 M412.8,324.7 l0.4,-1.0" stroke="#ffffff" stroke-width="0.6" stroke-opacity="0.55"/>
<line x1="393.0" y1="329.0" x2="401.0" y2="334.0" stroke="#0c0c9a" stroke-width="4.8" stroke-linecap="round"/>
<line x1="393.0" y1="329.0" x2="401.0" y2="334.0" stroke="#1e1ef2" stroke-width="3.8" stroke-linecap="round"/>
<path d="M391.2,330.1 L394.8,327.9 M393.2,331.4 L396.8,329.1 M395.2,332.6 L398.8,330.4 M397.2,333.9 L400.8,331.6 M399.2,335.1 L402.8,332.9" stroke="#0c0c9a" stroke-width="0.7" stroke-opacity="0.8"/>
<path d="M393.2,331.4 L396.8,329.1 M399.2,335.1 L402.8,332.9" stroke="#3cd02c" stroke-width="1.1"/>
<path d="M393.7,330.2 l0.6,-0.9 M395.7,331.4 l0.6,-0.9 M397.7,332.7 l0.6,-0.9 M399.7,333.9 l0.6,-0.9" stroke="#ffffff" stroke-width="0.6" stroke-opacity="0.55"/>
<line x1="383.0" y1="346.0" x2="397.0" y2="338.0" stroke="#1f8a18" stroke-width="7.0" stroke-linecap="round"/>
<line x1="383.0" y1="346.0" x2="397.0" y2="338.0" stroke="#3cd02c" stroke-width="6.0" stroke-linecap="round"/>
<path d="M383.6,348.9 L382.4,343.1 M385.6,347.8 L384.4,341.9 M387.6,346.7 L386.4,340.8 M389.6,345.5 L388.4,339.6 M391.6,344.4 L390.4,338.5 M393.6,343.2 L392.4,337.3 M395.6,342.1 L394.4,336.2 M397.6,340.9 L396.4,335.1" stroke="#1f8a18" stroke-width="0.7" stroke-opacity="0.8"/>
<path d="M385.6,347.8 L384.4,341.9 M391.6,344.4 L390.4,338.5 M397.6,340.9 L396.4,335.1" stroke="#1e1ef2" stroke-width="1.1"/>
<path d="M384.5,346.3 l-0.8,-1.4 M386.5,345.1 l-0.8,-1.4 M388.5,344.0 l-0.8,-1.4 M390.5,342.8 l-0.8,-1.4 M392.5,341.7 l-0.8,-1.4 M394.5,340.5 l-0.8,-1.4 M396.5,339.4 l-0.8,-1.4" stroke="#ffffff" stroke-width="0.6" stroke-opacity="0.55"/>
<line x1="384.0" y1="349.0" x2="391.0" y2="353.0" stroke="#0c0c9a" stroke-width="4.2" stroke-linecap="round"/>
<line x1="384.0" y1="349.0" x2="391.0" y2="353.0" stroke="#1e1ef2" stroke-width="3.2" stroke-linecap="round"/>
<path d="M382.4,350.0 L385.6,348.0 M384.2,351.0 L387.3,349.0 M385.9,352.0 L389.1,350.0 M387.7,353.0 L390.8,351.0 M389.4,354.0 L392.6,352.0" stroke="#0c0c9a" stroke-width="0.7" stroke-opacity="0.8"/>
<path d="M384.2,351.0 L387.3,349.0 M389.4,354.0 L392.6,352.0" stroke="#3cd02c" stroke-width="1.1"/>
<path d="M384.6,350.0 l0.4,-0.8 M386.4,351.0 l0.4,-0.8 M388.1,352.0 l0.4,-0.8 M389.9,353.0 l0.4,-0.8" stroke="#ffffff" stroke-width="0.6" stroke-opacity="0.55"/>
<line x1="404.0" y1="353.0" x2="424.0" y2="361.0" stroke="#1f8a18" stroke-width="6.0" stroke-linecap="round"/>
<line x1="404.0" y1="353.0" x2="424.0" y2="361.0" stroke="#3cd02c" stroke-width="5.0" stroke-linecap="round"/>
<path d="M402.3,354.9 L405.7,351.1 M404.3,355.7 L407.7,351.9 M406.3,356.5 L409.7,352.7 M408.3,357.3 L411.7,353.5 M410.3,358.1 L413.7,354.3 M412.3,358.9 L415.7,355.1 M414.3,359.7 L417.7,355.9 M416.3,360.5 L419.7,356.7 M418.3,361.3 L421.7,357.5 M420.3,362.1 L423.7,358.3 M422.3,362.9 L425.7,359.1" stroke="#1f8a18" stroke-width="0.7" stroke-opacity="0.8"/>
<path d="M404.3,355.7 L407.7,351.9 M410.3,358.1 L413.7,354.3 M416.3,360.5 L419.7,356.7 M422.3,362.9 L425.7,359.1" stroke="#1e1ef2" stroke-width="1.1"/>
<path d="M404.7,354.2 l0.5,-1.3 M406.7,355.0 l0.5,-1.3 M408.7,355.8 l0.5,-1.3 M410.7,356.6 l0.5,-1.3 M412.7,357.4 l0.5,-1.3 M414.7,358.2 l0.5,-1.3 M416.7,359.0 l0.5,-1.3 M418.7,359.8 l0.5,-1.3 M420.7,360.6 l0.5,-1.3 M422.7,361.4 l0.5,-1.3" stroke="#ffffff" stroke-width="0.6" stroke-opacity="0.55"/>
<line x1="410.0" y1="357.0" x2="417.0" y2="362.0" stroke="#0c0c9a" stroke-width="5.4" stroke-linecap="round"/>
<line x1="410.0" y1="357.0" x2="417.0" y2="362.0" stroke="#1e1ef2" stroke-width="4.4" stroke-linecap="round"/>
<path d="M408.0,358.2 L412.0,355.8 M409.8,359.5 L413.7,357.0 M411.5,360.7 L415.5,358.3 M413.3,362.0 L417.2,359.5 M415.0,363.2 L419.0,360.8" stroke="#0c0c9a" stroke-width="0.7" stroke-opacity="0.8"/>
<path d="M409.8,359.5 L413.7,357.0 M415.0,363.2 L419.0,360.8" stroke="#3cd02c" stroke-width="1.1"/>
<path d="M410.5,358.2 l0.7,-1.0 M412.2,359.5 l0.7,-1.0 M414.0,360.7 l0.7,-1.0 M415.7,362.0 l0.7,-1.0" stroke="#ffffff" stroke-width="0.6" stroke-opacity="0.55"/>
<line x1="404.0" y1="363.0" x2="416.0" y2="370.0" stroke="#1f8a18" stroke-width="5.4" stroke-linecap="round"/>
<line x1="404.0" y1="363.0" x2="416.0" y2="370.0" stroke="#3cd02c" stroke-width="4.4" stroke-linecap="round"/>
<path d="M402.1,364.4 L405.9,361.6 M404.1,365.6 L407.9,362.8 M406.1,366.7 L409.9,363.9 M408.1,367.9 L411.9,365.1 M410.1,369.1 L413.9,366.3 M412.1,370.2 L415.9,367.4 M414.1,371.4 L417.9,368.6" stroke="#1f8a18" stroke-width="0.7" stroke-opacity="0.8"/>
<path d="M404.1,365.6 L407.9,362.8 M410.1,369.1 L413.9,366.3" stroke="#1e1ef2" stroke-width="1.1"/>
<path d="M404.6,364.2 l0.6,-1.0 M406.6,365.4 l0.6,-1.0 M408.6,366.5 l0.6,-1.0 M410.6,367.7 l0.6,-1.0 M412.6,368.9 l0.6,-1.0 M414.6,370.0 l0.6,-1.0" stroke="#ffffff" stroke-width="0.6" stroke-opacity="0.55"/>
<line x1="412.0" y1="336.0" x2="430.0" y2="352.0" stroke="#0c0c9a" stroke-width="7.0" stroke-linecap="round"/>
<line x1="412.0" y1="336.0" x2="430.0" y2="352.0" stroke="#1e1ef2" stroke-width="6.0" stroke-linecap="round"/>
<path d="M409.4,337.6 L414.6,334.4 M411.1,339.0 L416.2,335.9 M412.7,340.5 L417.9,337.4 M414.3,341.9 L419.5,338.8 M416.0,343.4 L421.1,340.3 M417.6,344.8 L422.8,341.7 M419.2,346.3 L424.4,343.2 M420.9,347.7 L426.0,344.6 M422.5,349.2 L427.7,346.1 M424.1,350.6 L429.3,347.5 M425.8,352.1 L430.9,349.0 M427.4,353.6 L432.6,350.4" stroke="#0c0c9a" stroke-width="0.7" stroke-opacity="0.8"/>
<path d="M411.1,339.0 L416.2,335.9 M416.0,343.4 L421.1,340.3 M420.9,347.7 L426.0,344.6 M425.8,352.1 L430.9,349.0" stroke="#3cd02c" stroke-width="1.1"/>
<path d="M412.2,337.4 l1.1,-1.2 M413.8,338.9 l1.1,-1.2 M415.5,340.4 l1.1,-1.2 M417.1,341.8 l1.1,-1.2 M418.7,343.3 l1.1,-1.2 M420.4,344.7 l1.1,-1.2 M422.0,346.2 l1.1,-1.2 M423.6,347.6 l1.1,-1.2 M425.3,349.1 l1.1,-1.2 M426.9,350.5 l1.1,-1.2 M428.5,352.0 l1.1,-1.2" stroke="#ffffff" stroke-width="0.6" stroke-opacity="0.55"/>
<line x1="428.0" y1="350.0" x2="443.0" y2="363.0" stroke="#0c0c9a" stroke-width="7.0" stroke-linecap="round"/>
<line x1="428.0" y1="350.0" x2="443.0" y2="363.0" stroke="#1e1ef2" stroke-width="6.0" stroke-linecap="round"/>
<path d="M425.4,351.6 L430.6,348.4 M427.1,353.0 L432.2,349.9 M428.8,354.5 L433.9,351.3 M430.4,355.9 L435.6,352.7 M432.1,357.4 L437.2,354.2 M433.8,358.8 L438.9,355.6 M435.4,360.3 L440.6,357.1 M437.1,361.7 L442.2,358.5 M438.8,363.1 L443.9,360.0 M440.4,364.6 L445.6,361.4" stroke="#0c0c9a" stroke-width="0.7" stroke-opacity="0.8"/>
<path d="M427.1,353.0 L432.2,349.9 M432.1,357.4 L437.2,354.2 M437.1,361.7 L442.2,358.5" stroke="#3cd02c" stroke-width="1.1"/>
<path d="M428.2,351.4 l1.0,-1.2 M429.9,352.9 l1.0,-1.2 M431.5,354.3 l1.0,-1.2 M433.2,355.8 l1.0,-1.2 M434.9,357.2 l1.0,-1.2 M436.5,358.7 l1.0,-1.2 M438.2,360.1 l1.0,-1.2 M439.9,361.6 l1.0,-1.2 M441.5,363.0 l1.0,-1.2" stroke="#ffffff" stroke-width="0.6" stroke-opacity="0.55"/>
<line x1="424.0" y1="352.0" x2="432.0" y2="358.0" stroke="#1f8a18" stroke-width="5.4" stroke-linecap="round"/>
<line x1="424.0" y1="352.0" x2="432.0" y2="358.0" stroke="#3cd02c" stroke-width="4.4" stroke-linecap="round"/>
<path d="M422.0,353.2 L426.0,350.8 M423.6,354.4 L427.6,352.0 M425.2,355.6 L429.2,353.2 M426.8,356.8 L430.8,354.4 M428.4,358.0 L432.4,355.6 M430.0,359.2 L434.0,356.8" stroke="#1f8a18" stroke-width="0.7" stroke-opacity="0.8"/>
<path d="M423.6,354.4 L427.6,352.0 M428.4,358.0 L432.4,355.6" stroke="#1e1ef2" stroke-width="1.1"/>
<path d="M424.4,353.2 l0.7,-1.0 M426.0,354.4 l0.7,-1.0 M427.6,355.6 l0.7,-1.0 M429.2,356.8 l0.7,-1.0 M430.8,358.0 l0.7,-1.0" stroke="#ffffff" stroke-width="0.6" stroke-opacity="0.55"/>
<line x1="415.0" y1="367.0" x2="424.0" y2="381.0" stroke="#1f8a18" stroke-width="6.4" stroke-linecap="round"/>
<line x1="415.0" y1="367.0" x2="424.0" y2="381.0" stroke="#3cd02c" stroke-width="5.4" stroke-linecap="round"/>
<path d="M412.3,367.7 L417.7,366.3 M413.4,369.4 L418.8,368.1 M414.6,371.2 L419.9,369.8 M415.7,372.9 L421.1,371.6 M416.8,374.7 L422.2,373.3 M417.9,376.4 L423.3,375.1 M419.1,378.2 L424.4,376.8 M420.2,379.9 L425.6,378.6 M421.3,381.7 L426.7,380.3" stroke="#1f8a18" stroke-width="0.7" stroke-opacity="0.8"/>
<path d="M413.4,369.4 L418.8,368.1 M416.8,374.7 L422.2,373.3 M420.2,379.9 L425.6,378.6" stroke="#1e1ef2" stroke-width="1.1"/>
<path d="M414.8,368.3 l1.2,-0.8 M416.0,370.1 l1.2,-0.8 M417.1,371.8 l1.2,-0.8 M418.2,373.6 l1.2,-0.8 M419.3,375.3 l1.2,-0.8 M420.5,377.1 l1.2,-0.8 M421.6,378.8 l1.2,-0.8 M422.7,380.6 l1.2,-0.8" stroke="#ffffff" stroke-width="0.6" stroke-opacity="0.55"/>
<line x1="419.0" y1="376.0" x2="424.0" y2="381.0" stroke="#0c0c9a" stroke-width="5.4" stroke-linecap="round"/>
<line x1="419.0" y1="376.0" x2="424.0" y2="381.0" stroke="#1e1ef2" stroke-width="4.4" stroke-linecap="round"/>
<path d="M416.8,376.9 L421.2,375.1 M418.5,378.6 L422.8,376.8 M420.2,380.2 L424.5,378.4 M421.8,381.9 L426.2,380.1" stroke="#0c0c9a" stroke-width="0.7" stroke-opacity="0.8"/>
<path d="M418.5,378.6 L422.8,376.8" stroke="#3cd02c" stroke-width="1.1"/>
<path d="M419.3,377.3 l0.8,-0.8 M421.0,379.0 l0.8,-0.8 M422.7,380.7 l0.8,-0.8" stroke="#ffffff" stroke-width="0.6" stroke-opacity="0.55"/>
<line x1="433.0" y1="357.0" x2="442.0" y2="374.0" stroke="#1f8a18" stroke-width="6.2" stroke-linecap="round"/>
<line x1="433.0" y1="357.0" x2="442.0" y2="374.0" stroke="#3cd02c" stroke-width="5.2" stroke-linecap="round"/>
<path d="M430.4,357.4 L435.6,356.6 M431.4,359.3 L436.6,358.5 M432.4,361.2 L437.6,360.4 M433.4,363.1 L438.6,362.3 M434.4,364.9 L439.6,364.2 M435.4,366.8 L440.6,366.1 M436.4,368.7 L441.6,367.9 M437.4,370.6 L442.6,369.8 M438.4,372.5 L443.6,371.7 M439.4,374.4 L444.6,373.6" stroke="#1f8a18" stroke-width="0.7" stroke-opacity="0.8"/>
<path d="M431.4,359.3 L436.6,358.5 M434.4,364.9 L439.6,364.2 M437.4,370.6 L442.6,369.8" stroke="#1e1ef2" stroke-width="1.1"/>
<path d="M432.8,358.3 l1.2,-0.7 M433.8,360.2 l1.2,-0.7 M434.8,362.1 l1.2,-0.7 M435.8,364.0 l1.2,-0.7 M436.8,365.9 l1.2,-0.7 M437.8,367.8 l1.2,-0.7 M438.8,369.7 l1.2,-0.7 M439.8,371.6 l1.2,-0.7 M440.8,373.4 l1.2,-0.7" stroke="#ffffff" stroke-width="0.6" stroke-opacity="0.55"/>
<line x1="437.0" y1="369.0" x2="443.0" y2="375.0" stroke="#0c0c9a" stroke-width="5.4" stroke-linecap="round"/>
<line x1="437.0" y1="369.0" x2="443.0" y2="375.0" stroke="#1e1ef2" stroke-width="4.4" stroke-linecap="round"/>
<path d="M434.8,369.9 L439.2,368.1 M436.3,371.4 L440.7,369.6 M437.8,372.9 L442.2,371.1 M439.3,374.4 L443.7,372.6 M440.8,375.9 L445.2,374.1" stroke="#0c0c9a" stroke-width="0.7" stroke-opacity="0.8"/>
<path d="M436.3,371.4 L440.7,369.6 M440.8,375.9 L445.2,374.1" stroke="#3cd02c" stroke-width="1.1"/>
<path d="M437.2,370.3 l0.8,-0.8 M438.7,371.8 l0.8,-0.8 M440.2,373.3 l0.8,-0.8 M441.7,374.8 l0.8,-0.8" stroke="#ffffff" stroke-width="0.6" stroke-opacity="0.55"/>
<line x1="398.0" y1="342.0" x2="402.0" y2="352.0" stroke="#1f8a18" stroke-width="4.6" stroke-linecap="round"/>
<line x1="398.0" y1="342.0" x2="402.0" y2="352.0" stroke="#3cd02c" stroke-width="3.6" stroke-linecap="round"/>
<path d="M396.0,341.8 L400.0,342.2 M396.8,343.8 L400.8,344.2 M397.6,345.8 L401.6,346.2 M398.4,347.8 L402.4,348.2 M399.2,349.8 L403.2,350.2 M400.0,351.8 L404.0,352.2" stroke="#1f8a18" stroke-width="0.7" stroke-opacity="0.8"/>
<path d="M396.8,343.8 L400.8,344.2 M399.2,349.8 L403.2,350.2" stroke="#1e1ef2" stroke-width="1.1"/>
<path d="M397.8,343.2 l0.9,-0.4 M398.6,345.2 l0.9,-0.4 M399.4,347.2 l0.9,-0.4 M400.2,349.2 l0.9,-0.4 M401.0,351.2 l0.9,-0.4" stroke="#ffffff" stroke-width="0.6" stroke-opacity="0.55"/>
<line x1="399.0" y1="357.0" x2="405.0" y2="371.0" stroke="#1f8a18" stroke-width="5.0" stroke-linecap="round"/>
<line x1="399.0" y1="357.0" x2="405.0" y2="371.0" stroke="#3cd02c" stroke-width="4.0" stroke-linecap="round"/>
<path d="M396.8,357.0 L401.2,357.0 M397.7,359.0 L402.0,359.0 M398.5,361.0 L402.9,361.0 M399.4,363.0 L403.7,363.0 M400.3,365.0 L404.6,365.0 M401.1,367.0 L405.5,367.0 M402.0,369.0 L406.3,369.0 M402.8,371.0 L407.2,371.0" stroke="#1f8a18" stroke-width="0.7" stroke-opacity="0.8"/>
<path d="M397.7,359.0 L402.0,359.0 M400.3,365.0 L404.6,365.0 M402.8,371.0 L407.2,371.0" stroke="#1e1ef2" stroke-width="1.1"/>
<path d="M398.8,358.3 l1.0,-0.4 M399.7,360.3 l1.0,-0.4 M400.5,362.3 l1.0,-0.4 M401.4,364.3 l1.0,-0.4 M402.3,366.3 l1.0,-0.4 M403.1,368.3 l1.0,-0.4 M404.0,370.3 l1.0,-0.4" stroke="#ffffff" stroke-width="0.6" stroke-opacity="0.55"/>
<line x1="426.0" y1="362.0" x2="431.0" y2="372.0" stroke="#1f8a18" stroke-width="4.6" stroke-linecap="round"/>
<line x1="426.0" y1="362.0" x2="431.0" y2="372.0" stroke="#3cd02c" stroke-width="3.6" stroke-linecap="round"/>
<path d="M424.0,362.0 L428.0,362.0 M425.0,364.0 L429.0,364.0 M426.0,366.0 L430.0,366.0 M427.0,368.0 L431.0,368.0 M428.0,370.0 L432.0,370.0 M429.0,372.0 L433.0,372.0" stroke="#1f8a18" stroke-width="0.7" stroke-opacity="0.8"/>
<path d="M425.0,364.0 L429.0,364.0 M428.0,370.0 L432.0,370.0" stroke="#1e1ef2" stroke-width="1.1"/>
<path d="M426.0,363.3 l0.9,-0.4 M427.0,365.3 l0.9,-0.4 M428.0,367.3 l0.9,-0.4 M429.0,369.3 l0.9,-0.4 M430.0,371.3 l0.9,-0.4" stroke="#ffffff" stroke-width="0.6" stroke-opacity="0.55"/>
<ellipse cx="406.5" cy="342" rx="4.2" ry="7.5" fill="#f2e040" transform="rotate(-15 406.5 342)"/>
<path d="M400.5,335 l5,1.5 l-2.5,5 z M407,344 l6,1 l-2.5,5 z M401,346 l4,-1 l1,4 z M408.5,335.5 l4,1 l-1.5,4z M404,349 l4,0 l-1.5,2.5z" fill="#e82a1a"/>
</g>
<text x="450.20" y="375.50" font-size="5.3" stroke="#1a1a1a" stroke-width="0.12">Model 1-<tspan fill="#2020ee" stroke="#2020ee">Open ERRα</tspan>::<tspan fill="#c890e8" stroke="#c890e8">Cholesterol</tspan>::<tspan fill="#ee2222" stroke="#ee2222">PGC1α (PDB:1XB7, Chain B</tspan></text>
<text x="450.20" y="382.80" font-size="5.3" stroke="#1a1a1a" stroke-width="0.12">Model 2-<tspan fill="#3aa83a" stroke="#3aa83a">ERRα (1XB7, Chain A)</tspan>::<tspan fill="#c0c840" stroke="#c0c840">PGC1α (1XB7, Chain B)</tspan></text>
<text x="510.20" y="314.60" font-size="5.3" text-anchor="middle" stroke="#1a1a1a" stroke-width="0.12">ERRα::PGC1α LXXLL motif</text>
<line x1="477.80" y1="316.00" x2="542.60" y2="316.00" stroke="#444" stroke-width="0.4"/>
<text x="403.50" y="396.80" font-size="5.3" stroke="#1a1a1a" stroke-width="0.12">Ligand</text>
<text x="469.20" y="396.80" font-size="5.3" stroke="#1a1a1a" stroke-width="0.12">Receptor</text>
<text x="545.40" y="396.80" font-size="5.3" stroke="#1a1a1a" stroke-width="0.12">HADDOCK Score</text>
<text x="403.50" y="403.60" font-size="5.3" fill="#3aa83a" stroke="#3aa83a" stroke-width="0.12">ERRα (1XB7, Chain A)</text>
<text x="469.20" y="403.60" font-size="5.3" stroke="#1a1a1a" stroke-width="0.12">PGC1α (PDB:1XB7, Chain B)</text>
<text x="545.40" y="403.60" font-size="5.3" stroke="#1a1a1a" stroke-width="0.12">-57.9 ± 3.1</text>
<text x="403.50" y="410.30" font-size="5.3" stroke="#1a1a1a" stroke-width="0.12"><tspan fill="#2020ee" stroke="#2020ee">Open ERRα</tspan>::<tspan fill="#c890e8" stroke="#c890e8">Cholesterol</tspan></text>
<text x="469.20" y="410.30" font-size="5.3" stroke="#1a1a1a" stroke-width="0.12">PGC1α (PDB:1XB7, Chain B)</text>
<text x="545.40" y="410.30" font-size="5.3" stroke="#1a1a1a" stroke-width="0.12">-66.5 ± 3.5</text>
<line x1="403.50" y1="413.50" x2="588.00" y2="413.50" stroke="#888" stroke-width="0.9"/>
<text x="403.50" y="422.20" font-size="5.3" stroke="#1a1a1a" stroke-width="0.12">Type of interaction</text>
<text x="457.50" y="422.20" font-size="5.3" fill="#3aa83a" stroke="#3aa83a" stroke-width="0.12">ERRα (1XB7, Chain A)</text>
<text x="520.60" y="422.20" font-size="5.3" stroke="#1a1a1a" stroke-width="0.12"><tspan fill="#2020ee" stroke="#2020ee">Open ERRα</tspan>::<tspan fill="#c890e8" stroke="#c890e8">Cholesterol</tspan></text>
<text x="403.50" y="428.40" font-size="5.3" stroke="#1a1a1a" stroke-width="0.12">1. Hydrophobic</text>
<text x="457.50" y="428.40" font-size="5.3" stroke="#1a1a1a" stroke-width="0.12">5</text>
<text x="520.60" y="428.40" font-size="5.3" stroke="#1a1a1a" stroke-width="0.12">9</text>
<text x="403.50" y="434.80" font-size="5.3" stroke="#1a1a1a" stroke-width="0.12">    interactions</text>
<text x="457.50" y="434.80" font-size="5.3" stroke="#1a1a1a" stroke-width="0.12"></text>
<text x="520.60" y="434.80" font-size="5.3" stroke="#1a1a1a" stroke-width="0.12"></text>
<text x="403.50" y="441.20" font-size="5.3" stroke="#1a1a1a" stroke-width="0.12">2. Hydrogen bonds</text>
<text x="457.50" y="441.20" font-size="5.3" stroke="#1a1a1a" stroke-width="0.12">2</text>
<text x="520.60" y="441.20" font-size="5.3" stroke="#1a1a1a" stroke-width="0.12">3</text>
<text x="403.50" y="447.60" font-size="5.3" stroke="#1a1a1a" stroke-width="0.12">3. Salt bridges</text>
<text x="457.50" y="447.60" font-size="5.3" stroke="#1a1a1a" stroke-width="0.12">1</text>
<text x="520.60" y="447.60" font-size="5.3" stroke="#1a1a1a" stroke-width="0.12">0</text>
<line x1="403.50" y1="451.50" x2="588.00" y2="451.50" stroke="#888" stroke-width="0.9"/>
<line x1="643.20" y1="341.00" x2="643.20" y2="408.10" stroke="#1a1a1a" stroke-width="0.6"/>
<line x1="643.20" y1="408.10" x2="672.00" y2="408.10" stroke="#1a1a1a" stroke-width="0.6"/>
<line x1="641.70" y1="407.30" x2="643.20" y2="407.30" stroke="#1a1a1a" stroke-width="0.5"/>
<text x="640.40" y="409.34" font-size="6.0" text-anchor="end" stroke="#1a1a1a" stroke-width="0.12">0</text>
<line x1="641.70" y1="385.90" x2="643.20" y2="385.90" stroke="#1a1a1a" stroke-width="0.5"/>
<text x="640.40" y="387.94" font-size="6.0" text-anchor="end" stroke="#1a1a1a" stroke-width="0.12">2</text>
<line x1="641.70" y1="364.50" x2="643.20" y2="364.50" stroke="#1a1a1a" stroke-width="0.5"/>
<text x="640.40" y="366.54" font-size="6.0" text-anchor="end" stroke="#1a1a1a" stroke-width="0.12">4</text>
<line x1="641.70" y1="343.10" x2="643.20" y2="343.10" stroke="#1a1a1a" stroke-width="0.5"/>
<text x="640.40" y="345.14" font-size="6.0" text-anchor="end" stroke="#1a1a1a" stroke-width="0.12">6</text>
<line x1="650.00" y1="408.10" x2="650.00" y2="409.30" stroke="#1a1a1a" stroke-width="0.5"/>
<line x1="650.00" y1="364.82" x2="650.00" y2="379.80" stroke="#1f1fee" stroke-width="0.5"/>
<line x1="648.60" y1="364.82" x2="651.40" y2="364.82" stroke="#1f1fee" stroke-width="0.5"/>
<line x1="648.60" y1="379.80" x2="651.40" y2="379.80" stroke="#1f1fee" stroke-width="0.5"/>
<line x1="647.20" y1="372.31" x2="652.80" y2="372.31" stroke="#1f1fee" stroke-width="0.6"/>
<circle cx="650.03" cy="381.57" r="1.05" fill="#1f1fee"/>
<circle cx="649.40" cy="370.49" r="1.05" fill="#1f1fee"/>
<circle cx="651.74" cy="368.96" r="1.05" fill="#1f1fee"/>
<circle cx="651.37" cy="366.65" r="1.05" fill="#1f1fee"/>
<circle cx="650.55" cy="368.29" r="1.05" fill="#1f1fee"/>
<circle cx="649.26" cy="376.26" r="1.05" fill="#1f1fee"/>
<circle cx="648.98" cy="371.20" r="1.05" fill="#1f1fee"/>
<circle cx="650.07" cy="371.03" r="1.05" fill="#1f1fee"/>
<circle cx="648.95" cy="388.59" r="1.05" fill="#1f1fee"/>
<circle cx="652.57" cy="381.58" r="1.05" fill="#1f1fee"/>
<circle cx="651.45" cy="376.40" r="1.05" fill="#1f1fee"/>
<circle cx="652.07" cy="367.08" r="1.05" fill="#1f1fee"/>
<circle cx="648.62" cy="370.72" r="1.05" fill="#1f1fee"/>
<circle cx="649.73" cy="377.73" r="1.05" fill="#1f1fee"/>
<circle cx="650.30" cy="362.14" r="1.05" fill="#1f1fee"/>
<circle cx="651.77" cy="375.89" r="1.05" fill="#1f1fee"/>
<line x1="656.90" y1="408.10" x2="656.90" y2="409.30" stroke="#1a1a1a" stroke-width="0.5"/>
<line x1="656.90" y1="355.73" x2="656.90" y2="373.92" stroke="#2e8b3e" stroke-width="0.5"/>
<line x1="655.50" y1="355.73" x2="658.30" y2="355.73" stroke="#2e8b3e" stroke-width="0.5"/>
<line x1="655.50" y1="373.92" x2="658.30" y2="373.92" stroke="#2e8b3e" stroke-width="0.5"/>
<line x1="654.10" y1="364.82" x2="659.70" y2="364.82" stroke="#2e8b3e" stroke-width="0.6"/>
<circle cx="655.19" cy="374.63" r="1.05" fill="#2e8b3e"/>
<circle cx="659.15" cy="363.86" r="1.05" fill="#2e8b3e"/>
<circle cx="658.40" cy="361.27" r="1.05" fill="#2e8b3e"/>
<circle cx="655.25" cy="377.01" r="1.05" fill="#2e8b3e"/>
<circle cx="658.88" cy="374.84" r="1.05" fill="#2e8b3e"/>
<circle cx="654.98" cy="359.91" r="1.05" fill="#2e8b3e"/>
<circle cx="655.97" cy="362.10" r="1.05" fill="#2e8b3e"/>
<circle cx="654.91" cy="368.20" r="1.05" fill="#2e8b3e"/>
<circle cx="656.06" cy="370.32" r="1.05" fill="#2e8b3e"/>
<circle cx="656.83" cy="356.43" r="1.05" fill="#2e8b3e"/>
<circle cx="655.37" cy="356.45" r="1.05" fill="#2e8b3e"/>
<circle cx="655.96" cy="364.41" r="1.05" fill="#2e8b3e"/>
<circle cx="657.09" cy="377.11" r="1.05" fill="#2e8b3e"/>
<circle cx="656.62" cy="369.52" r="1.05" fill="#2e8b3e"/>
<line x1="664.50" y1="408.10" x2="664.50" y2="409.30" stroke="#1a1a1a" stroke-width="0.5"/>
<line x1="664.50" y1="387.93" x2="664.50" y2="393.28" stroke="#ee2222" stroke-width="0.5"/>
<line x1="663.10" y1="387.93" x2="665.90" y2="387.93" stroke="#ee2222" stroke-width="0.5"/>
<line x1="663.10" y1="393.28" x2="665.90" y2="393.28" stroke="#ee2222" stroke-width="0.5"/>
<line x1="661.70" y1="390.61" x2="667.30" y2="390.61" stroke="#ee2222" stroke-width="0.6"/>
<circle cx="664.48" cy="389.98" r="1.05" fill="#ee2222"/>
<circle cx="664.01" cy="391.40" r="1.05" fill="#ee2222"/>
<circle cx="662.70" cy="391.51" r="1.05" fill="#ee2222"/>
<circle cx="663.74" cy="391.84" r="1.05" fill="#ee2222"/>
<circle cx="665.77" cy="389.33" r="1.05" fill="#ee2222"/>
<circle cx="663.71" cy="390.15" r="1.05" fill="#ee2222"/>
<circle cx="665.75" cy="393.87" r="1.05" fill="#ee2222"/>
<circle cx="666.10" cy="390.10" r="1.05" fill="#ee2222"/>
<circle cx="663.42" cy="391.95" r="1.05" fill="#ee2222"/>
<circle cx="665.63" cy="390.13" r="1.05" fill="#ee2222"/>
<circle cx="662.58" cy="390.51" r="1.05" fill="#ee2222"/>
<circle cx="664.80" cy="392.79" r="1.05" fill="#ee2222"/>
<circle cx="663.25" cy="388.74" r="1.05" fill="#ee2222"/>
<circle cx="664.32" cy="391.46" r="1.05" fill="#ee2222"/>
<line x1="650.00" y1="342.30" x2="656.90" y2="342.30" stroke="#555" stroke-width="0.5"/>
<line x1="650.00" y1="342.30" x2="650.00" y2="346.00" stroke="#555" stroke-width="0.5"/>
<line x1="656.90" y1="342.30" x2="656.90" y2="346.00" stroke="#555" stroke-width="0.5"/>
<line x1="661.00" y1="342.30" x2="668.40" y2="342.30" stroke="#555" stroke-width="0.5"/>
<line x1="661.00" y1="342.30" x2="661.00" y2="346.00" stroke="#555" stroke-width="0.5"/>
<line x1="668.40" y1="342.30" x2="668.40" y2="378.00" stroke="#555" stroke-width="0.5"/>
<text x="653.00" y="340.80" font-size="4.8" fill="#333" stroke="#333" stroke-width="0.12" transform="rotate(-45 653.00 340.80)">0.029</text>
<text x="663.00" y="340.80" font-size="4.8" fill="#333" stroke="#333" stroke-width="0.12" transform="rotate(-45 663.00 340.80)">1.16E-10</text>
<text x="617.87" y="380.50" font-size="5.8" text-anchor="middle" stroke="#1a1a1a" stroke-width="0.12" transform="rotate(-90 617.87 380.50)">ERRα-bound cholesterol</text>
<text x="623.87" y="380.50" font-size="5.8" text-anchor="middle" stroke="#1a1a1a" stroke-width="0.12" transform="rotate(-90 623.87 380.50)">Relative abundance</text>
<text x="630.17" y="383.20" font-size="5.8" text-anchor="middle" stroke="#1a1a1a" stroke-width="0.12" transform="rotate(-90 630.17 383.20)">(Normalized against ERRα level)</text>
<text x="652.80" y="411.40" font-size="6.0" text-anchor="end" stroke="#1a1a1a" stroke-width="0.12" transform="rotate(-45 652.80 411.40)">Vehicle</text>
<text x="659.60" y="411.40" font-size="6.0" text-anchor="end" stroke="#1a1a1a" stroke-width="0.12" transform="rotate(-45 659.60 411.40)">VCD</text>
<text x="665.60" y="411.40" font-size="6.0" text-anchor="end" stroke="#1a1a1a" stroke-width="0.12" transform="rotate(-45 665.60 411.40)">VCD</text>
<line x1="632.30" y1="428.30" x2="646.00" y2="428.30" stroke="#444" stroke-width="0.7"/>
<line x1="654.20" y1="428.30" x2="662.40" y2="428.30" stroke="#444" stroke-width="0.7"/>
<text x="637.80" y="436.34" font-size="6.0" text-anchor="middle" stroke="#1a1a1a" stroke-width="0.12">&lt;2.5</text>
<text x="658.30" y="436.34" font-size="6.0" text-anchor="middle" stroke="#1a1a1a" stroke-width="0.12">≥2.5</text>
<text x="650.00" y="444.04" font-size="6.0" text-anchor="middle" stroke="#1a1a1a" stroke-width="0.12">E2:P4 (pg/ng)</text>
</svg></body></html>
